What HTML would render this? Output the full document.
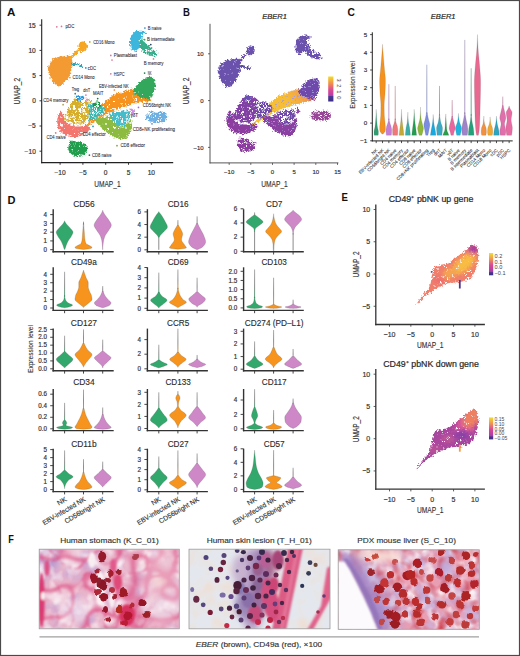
<!DOCTYPE html>
<html><head><meta charset="utf-8"><style>
html,body{margin:0;padding:0;background:#fff;}
svg{display:block;}
text{font-family:"Liberation Sans", sans-serif;}
</style></head><body>
<svg width="520" height="656" viewBox="0 0 520 656">
<rect x="0" y="0" width="520" height="656" fill="#fff"/>
<text x="6.90" y="16.20" font-size="11.2" fill="#111" font-weight="bold" textLength="8.40" lengthAdjust="spacingAndGlyphs" >A</text>
<defs><filter id="fAr" color-interpolation-filters="sRGB" filterUnits="userSpaceOnUse" x="40" y="18" width="140" height="146">
<feTurbulence type="fractalNoise" baseFrequency="0.55" numOctaves="2" seed="3" result="d"/>
<feDisplacementMap in="SourceGraphic" in2="d" scale="5" xChannelSelector="R" yChannelSelector="G"/></filter><filter id="fAw1" color-interpolation-filters="sRGB" filterUnits="userSpaceOnUse" x="40" y="18" width="140" height="146">
<feTurbulence type="fractalNoise" baseFrequency="0.38" numOctaves="2" seed="10" result="n"/>
<feColorMatrix in="n" type="matrix" values="0 0 0 0 1  0 0 0 0 1  0 0 0 0 1  -9 0 0 0 3.2399999999999998" result="w"/>
<feComposite in="w" in2="SourceAlpha" operator="in"/></filter><filter id="fAw2" color-interpolation-filters="sRGB" filterUnits="userSpaceOnUse" x="40" y="18" width="140" height="146">
<feTurbulence type="fractalNoise" baseFrequency="0.38" numOctaves="2" seed="17" result="n"/>
<feColorMatrix in="n" type="matrix" values="0 0 0 0 1  0 0 0 0 1  0 0 0 0 1  -9 0 0 0 3.87" result="w"/>
<feComposite in="w" in2="SourceAlpha" operator="in"/></filter><filter id="fAw3" color-interpolation-filters="sRGB" filterUnits="userSpaceOnUse" x="40" y="18" width="140" height="146">
<feTurbulence type="fractalNoise" baseFrequency="0.38" numOctaves="2" seed="24" result="n"/>
<feColorMatrix in="n" type="matrix" values="0 0 0 0 1  0 0 0 0 1  0 0 0 0 1  -9 0 0 0 4.32" result="w"/>
<feComposite in="w" in2="SourceAlpha" operator="in"/></filter></defs>
<g filter="url(#fAr)"><g transform="">
<path d="M48.00,67.00 C48.52,65.20 50.23,61.70 51.40,60.20 C52.57,58.70 53.65,58.57 55.00,58.00 C56.35,57.43 57.67,57.17 59.50,56.80 C61.33,56.43 64.17,55.90 66.00,55.80 C67.83,55.70 69.45,55.33 70.50,56.20 C71.55,57.07 72.00,59.20 72.30,61.00 C72.60,62.80 72.68,64.83 72.30,67.00 C71.92,69.17 70.78,72.00 70.00,74.00 C69.22,76.00 68.77,77.33 67.60,79.00 C66.43,80.67 64.57,82.77 63.00,84.00 C61.43,85.23 59.53,86.40 58.20,86.40 C56.87,86.40 56.03,85.00 55.00,84.00 C53.97,83.00 52.92,81.90 52.00,80.40 C51.08,78.90 50.12,76.57 49.50,75.00 C48.88,73.43 48.55,72.33 48.30,71.00 C48.05,69.67 47.48,68.80 48.00,67.00 Z" fill="#F39A33" />
<path d="M69.50,57.50 C69.75,56.70 71.83,55.17 73.00,54.00 C74.17,52.83 75.50,51.00 76.50,50.50 C77.50,50.00 79.17,50.25 79.00,51.00 C78.83,51.75 76.75,53.70 75.50,55.00 C74.25,56.30 72.50,58.38 71.50,58.80 C70.50,59.22 69.25,58.30 69.50,57.50 Z" fill="#F5A623" />
<path d="M79.00,44.00 C79.42,43.00 80.17,42.37 81.00,42.00 C81.83,41.63 83.08,41.47 84.00,41.80 C84.92,42.13 86.00,43.13 86.50,44.00 C87.00,44.87 87.17,46.00 87.00,47.00 C86.83,48.00 86.33,49.17 85.50,50.00 C84.67,50.83 83.00,51.83 82.00,52.00 C81.00,52.17 80.08,51.67 79.50,51.00 C78.92,50.33 78.58,49.17 78.50,48.00 C78.42,46.83 78.58,45.00 79.00,44.00 Z" fill="#F5A623" />
<path d="M72.00,62.80 C72.83,62.53 75.42,63.00 77.00,63.30 C78.58,63.60 80.53,64.08 81.50,64.60 C82.47,65.12 83.05,66.02 82.80,66.40 C82.55,66.78 81.13,67.07 80.00,66.90 C78.87,66.73 77.33,65.73 76.00,65.40 C74.67,65.07 72.67,65.33 72.00,64.90 C71.33,64.47 71.17,63.07 72.00,62.80 Z" fill="#2AA6B8" />
<path d="M130.00,42.30 C130.00,40.38 130.30,38.55 130.80,37.00 C131.30,35.45 131.72,34.03 133.00,33.00 C134.28,31.97 136.83,31.13 138.50,30.80 C140.17,30.47 141.72,30.75 143.00,31.00 C144.28,31.25 146.03,31.83 146.20,32.30 C146.37,32.77 144.78,33.10 144.00,33.80 C143.22,34.50 142.07,35.30 141.50,36.50 C140.93,37.70 140.72,39.52 140.60,41.00 C140.48,42.48 141.32,43.98 140.80,45.40 C140.28,46.82 138.53,48.60 137.50,49.50 C136.47,50.40 135.72,50.97 134.60,50.80 C133.48,50.63 131.57,49.92 130.80,48.50 C130.03,47.08 130.00,44.22 130.00,42.30 Z" fill="#3DB6DE" />
<path d="M139.50,40.00 C139.95,38.75 141.67,38.17 142.50,38.50 C143.33,38.83 143.58,40.83 144.50,42.00 C145.42,43.17 146.75,44.42 148.00,45.50 C149.25,46.58 150.75,47.67 152.00,48.50 C153.25,49.33 154.63,49.67 155.50,50.50 C156.37,51.33 157.12,52.55 157.20,53.50 C157.28,54.45 156.95,55.78 156.00,56.20 C155.05,56.62 153.17,56.37 151.50,56.00 C149.83,55.63 147.58,54.83 146.00,54.00 C144.42,53.17 143.03,52.33 142.00,51.00 C140.97,49.67 140.22,47.83 139.80,46.00 C139.38,44.17 139.05,41.25 139.50,40.00 Z" fill="#38AD8C" />
<path d="M106.50,100.50 C108.08,99.17 110.25,96.83 112.50,95.50 C114.75,94.17 117.50,93.42 120.00,92.50 C122.50,91.58 125.17,90.67 127.50,90.00 C129.83,89.33 132.08,88.58 134.00,88.50 C135.92,88.42 137.50,89.00 139.00,89.50 C140.50,90.00 141.50,91.00 143.00,91.50 C144.50,92.00 146.67,91.92 148.00,92.50 C149.33,93.08 150.58,93.67 151.00,95.00 C151.42,96.33 151.92,99.33 150.50,100.50 C149.08,101.67 145.50,101.33 142.50,102.00 C139.50,102.67 136.25,103.42 132.50,104.50 C128.75,105.58 123.58,107.25 120.00,108.50 C116.42,109.75 113.92,110.67 111.00,112.00 C108.08,113.33 105.17,115.00 102.50,116.50 C99.83,118.00 97.42,119.33 95.00,121.00 C92.58,122.67 89.75,125.17 88.00,126.50 C86.25,127.83 85.30,128.78 84.50,129.00 C83.70,129.22 82.70,128.88 83.20,127.80 C83.70,126.72 85.62,124.47 87.50,122.50 C89.38,120.53 92.50,118.42 94.50,116.00 C96.50,113.58 98.08,110.08 99.50,108.00 C100.92,105.92 101.83,104.75 103.00,103.50 C104.17,102.25 104.92,101.83 106.50,100.50 Z" fill="#F6931F" />
<path d="M133.00,92.00 C133.00,90.50 134.67,87.83 136.00,86.00 C137.33,84.17 139.33,82.42 141.00,81.00 C142.67,79.58 144.33,78.17 146.00,77.50 C147.67,76.83 149.58,76.75 151.00,77.00 C152.42,77.25 153.75,77.83 154.50,79.00 C155.25,80.17 155.50,82.17 155.50,84.00 C155.50,85.83 155.08,88.00 154.50,90.00 C153.92,92.00 152.92,94.50 152.00,96.00 C151.08,97.50 150.17,98.50 149.00,99.00 C147.83,99.50 146.50,99.33 145.00,99.00 C143.50,98.67 141.50,97.67 140.00,97.00 C138.50,96.33 137.17,95.83 136.00,95.00 C134.83,94.17 133.00,93.50 133.00,92.00 Z" fill="#33A85C" />
<path d="M74.00,99.00 C75.33,97.75 77.00,96.75 79.00,96.50 C81.00,96.25 84.00,96.75 86.00,97.50 C88.00,98.25 89.83,99.42 91.00,101.00 C92.17,102.58 93.00,104.83 93.00,107.00 C93.00,109.17 92.00,111.83 91.00,114.00 C90.00,116.17 88.50,118.33 87.00,120.00 C85.50,121.67 84.17,123.33 82.00,124.00 C79.83,124.67 76.50,124.50 74.00,124.00 C71.50,123.50 68.67,122.17 67.00,121.00 C65.33,119.83 64.00,118.67 64.00,117.00 C64.00,115.33 65.83,113.17 67.00,111.00 C68.17,108.83 69.83,106.00 71.00,104.00 C72.17,102.00 72.67,100.25 74.00,99.00 Z" fill="#D6AE2C" />
<path d="M76.00,96.00 C76.50,95.02 78.67,95.17 80.00,95.30 C81.33,95.43 83.23,96.02 84.00,96.80 C84.77,97.58 85.10,99.13 84.60,100.00 C84.10,100.87 82.27,101.80 81.00,102.00 C79.73,102.20 77.83,102.20 77.00,101.20 C76.17,100.20 75.50,96.98 76.00,96.00 Z" fill="#2A98D8" />
<path d="M85.20,97.60 C85.47,97.00 87.07,97.30 87.60,97.80 C88.13,98.30 88.67,100.00 88.40,100.60 C88.13,101.20 86.53,101.90 86.00,101.40 C85.47,100.90 84.93,98.20 85.20,97.60 Z" fill="#E58FC8" />
<path d="M88.00,104.50 C88.75,103.00 92.00,103.08 94.00,103.00 C96.00,102.92 98.33,103.50 100.00,104.00 C101.67,104.50 103.08,105.00 104.00,106.00 C104.92,107.00 105.75,108.67 105.50,110.00 C105.25,111.33 103.75,112.83 102.50,114.00 C101.25,115.17 99.75,116.00 98.00,117.00 C96.25,118.00 93.67,119.75 92.00,120.00 C90.33,120.25 88.42,119.83 88.00,118.50 C87.58,117.17 89.50,114.33 89.50,112.00 C89.50,109.67 87.25,106.00 88.00,104.50 Z" fill="#3EB6B2" />
<path d="M110.00,114.50 C111.17,112.75 115.33,112.17 118.00,111.50 C120.67,110.83 124.00,110.25 126.00,110.50 C128.00,110.75 129.50,111.42 130.00,113.00 C130.50,114.58 130.00,117.83 129.00,120.00 C128.00,122.17 126.17,125.00 124.00,126.00 C121.83,127.00 118.17,126.67 116.00,126.00 C113.83,125.33 112.00,123.92 111.00,122.00 C110.00,120.08 108.83,116.25 110.00,114.50 Z" fill="#45BCCB" />
<path d="M93.00,103.50 C93.50,102.48 95.83,101.67 97.00,101.50 C98.17,101.33 99.33,101.75 100.00,102.50 C100.67,103.25 101.33,105.05 101.00,106.00 C100.67,106.95 99.17,107.93 98.00,108.20 C96.83,108.47 94.83,108.38 94.00,107.60 C93.17,106.82 92.50,104.52 93.00,103.50 Z" fill="#1C9A48" />
<path d="M60.00,112.00 C59.17,112.83 57.92,115.83 57.50,118.00 C57.08,120.17 57.08,122.83 57.50,125.00 C57.92,127.17 58.58,129.25 60.00,131.00 C61.42,132.75 63.83,134.50 66.00,135.50 C68.17,136.50 70.67,136.92 73.00,137.00 C75.33,137.08 77.83,136.67 80.00,136.00 C82.17,135.33 84.33,134.25 86.00,133.00 C87.67,131.75 90.00,129.75 90.00,128.50 C90.00,127.25 87.67,125.83 86.00,125.50 C84.33,125.17 82.17,126.42 80.00,126.50 C77.83,126.58 75.17,126.58 73.00,126.00 C70.83,125.42 68.50,124.33 67.00,123.00 C65.50,121.67 64.75,119.67 64.00,118.00 C63.25,116.33 63.17,114.00 62.50,113.00 C61.83,112.00 60.83,111.17 60.00,112.00 Z" fill="#F2766E" />
<path d="M96.00,119.50 C97.00,118.50 100.67,117.92 103.00,117.50 C105.33,117.08 108.25,116.25 110.00,117.00 C111.75,117.75 112.17,120.50 113.50,122.00 C114.83,123.50 116.25,125.25 118.00,126.00 C119.75,126.75 122.17,127.25 124.00,126.50 C125.83,125.75 127.83,122.75 129.00,121.50 C130.17,120.25 130.57,118.25 131.00,119.00 C131.43,119.75 131.77,123.83 131.60,126.00 C131.43,128.17 130.77,130.07 130.00,132.00 C129.23,133.93 128.33,136.40 127.00,137.60 C125.67,138.80 124.00,139.23 122.00,139.20 C120.00,139.17 117.33,138.37 115.00,137.40 C112.67,136.43 110.17,134.97 108.00,133.40 C105.83,131.83 103.83,129.65 102.00,128.00 C100.17,126.35 98.00,124.92 97.00,123.50 C96.00,122.08 95.00,120.50 96.00,119.50 Z" fill="#8DBB3F" />
<path d="M146.00,117.00 C146.25,115.83 147.00,113.92 148.00,113.00 C149.00,112.08 150.67,111.57 152.00,111.50 C153.33,111.43 154.67,112.60 156.00,112.60 C157.33,112.60 158.67,111.50 160.00,111.50 C161.33,111.50 162.83,111.93 164.00,112.60 C165.17,113.27 166.57,114.27 167.00,115.50 C167.43,116.73 167.43,118.82 166.60,120.00 C165.77,121.18 163.77,122.23 162.00,122.60 C160.23,122.97 158.00,122.37 156.00,122.20 C154.00,122.03 151.58,121.97 150.00,121.60 C148.42,121.23 147.17,120.77 146.50,120.00 C145.83,119.23 145.75,118.17 146.00,117.00 Z" fill="#6FB0E2" />
<path d="M68.30,149.80 C67.95,148.33 68.72,146.45 69.00,145.00 C69.28,143.55 69.17,141.77 70.00,141.10 C70.83,140.43 72.67,140.90 74.00,141.00 C75.33,141.10 76.50,141.28 78.00,141.70 C79.50,142.12 81.45,142.73 83.00,143.50 C84.55,144.27 86.63,145.22 87.30,146.30 C87.97,147.38 87.20,148.83 87.00,150.00 C86.80,151.17 86.93,152.38 86.10,153.30 C85.27,154.22 83.35,155.02 82.00,155.50 C80.65,155.98 79.33,156.18 78.00,156.20 C76.67,156.22 75.15,156.00 74.00,155.60 C72.85,155.20 72.05,154.77 71.10,153.80 C70.15,152.83 68.65,151.27 68.30,149.80 Z" fill="#1F9E4C" />
<path d="M130.60,108.80 C130.70,107.73 131.83,107.23 132.40,107.60 C132.97,107.97 133.83,109.83 134.00,111.00 C134.17,112.17 133.77,114.10 133.40,114.60 C133.03,115.10 132.27,114.97 131.80,114.00 C131.33,113.03 130.50,109.87 130.60,108.80 Z" fill="#D08FE0" />
<path d="M139.50,40.00 C139.95,38.75 141.67,38.17 142.50,38.50 C143.33,38.83 143.58,40.83 144.50,42.00 C145.42,43.17 146.75,44.42 148.00,45.50 C149.25,46.58 150.75,47.67 152.00,48.50 C153.25,49.33 154.63,49.67 155.50,50.50 C156.37,51.33 157.12,52.55 157.20,53.50 C157.28,54.45 156.95,55.78 156.00,56.20 C155.05,56.62 153.17,56.37 151.50,56.00 C149.83,55.63 147.58,54.83 146.00,54.00 C144.42,53.17 143.03,52.33 142.00,51.00 C140.97,49.67 140.22,47.83 139.80,46.00 C139.38,44.17 139.05,41.25 139.50,40.00 Z" fill="#fff" filter="url(#fAw2)"/>
<path d="M106.50,100.50 C108.08,99.17 110.25,96.83 112.50,95.50 C114.75,94.17 117.50,93.42 120.00,92.50 C122.50,91.58 125.17,90.67 127.50,90.00 C129.83,89.33 132.08,88.58 134.00,88.50 C135.92,88.42 137.50,89.00 139.00,89.50 C140.50,90.00 141.50,91.00 143.00,91.50 C144.50,92.00 146.67,91.92 148.00,92.50 C149.33,93.08 150.58,93.67 151.00,95.00 C151.42,96.33 151.92,99.33 150.50,100.50 C149.08,101.67 145.50,101.33 142.50,102.00 C139.50,102.67 136.25,103.42 132.50,104.50 C128.75,105.58 123.58,107.25 120.00,108.50 C116.42,109.75 113.92,110.67 111.00,112.00 C108.08,113.33 105.17,115.00 102.50,116.50 C99.83,118.00 97.42,119.33 95.00,121.00 C92.58,122.67 89.75,125.17 88.00,126.50 C86.25,127.83 85.30,128.78 84.50,129.00 C83.70,129.22 82.70,128.88 83.20,127.80 C83.70,126.72 85.62,124.47 87.50,122.50 C89.38,120.53 92.50,118.42 94.50,116.00 C96.50,113.58 98.08,110.08 99.50,108.00 C100.92,105.92 101.83,104.75 103.00,103.50 C104.17,102.25 104.92,101.83 106.50,100.50 Z" fill="#fff" filter="url(#fAw1)"/>
<path d="M74.00,99.00 C75.33,97.75 77.00,96.75 79.00,96.50 C81.00,96.25 84.00,96.75 86.00,97.50 C88.00,98.25 89.83,99.42 91.00,101.00 C92.17,102.58 93.00,104.83 93.00,107.00 C93.00,109.17 92.00,111.83 91.00,114.00 C90.00,116.17 88.50,118.33 87.00,120.00 C85.50,121.67 84.17,123.33 82.00,124.00 C79.83,124.67 76.50,124.50 74.00,124.00 C71.50,123.50 68.67,122.17 67.00,121.00 C65.33,119.83 64.00,118.67 64.00,117.00 C64.00,115.33 65.83,113.17 67.00,111.00 C68.17,108.83 69.83,106.00 71.00,104.00 C72.17,102.00 72.67,100.25 74.00,99.00 Z" fill="#fff" filter="url(#fAw3)"/>
<path d="M88.00,104.50 C88.75,103.00 92.00,103.08 94.00,103.00 C96.00,102.92 98.33,103.50 100.00,104.00 C101.67,104.50 103.08,105.00 104.00,106.00 C104.92,107.00 105.75,108.67 105.50,110.00 C105.25,111.33 103.75,112.83 102.50,114.00 C101.25,115.17 99.75,116.00 98.00,117.00 C96.25,118.00 93.67,119.75 92.00,120.00 C90.33,120.25 88.42,119.83 88.00,118.50 C87.58,117.17 89.50,114.33 89.50,112.00 C89.50,109.67 87.25,106.00 88.00,104.50 Z" fill="#fff" filter="url(#fAw2)"/>
<path d="M110.00,114.50 C111.17,112.75 115.33,112.17 118.00,111.50 C120.67,110.83 124.00,110.25 126.00,110.50 C128.00,110.75 129.50,111.42 130.00,113.00 C130.50,114.58 130.00,117.83 129.00,120.00 C128.00,122.17 126.17,125.00 124.00,126.00 C121.83,127.00 118.17,126.67 116.00,126.00 C113.83,125.33 112.00,123.92 111.00,122.00 C110.00,120.08 108.83,116.25 110.00,114.50 Z" fill="#fff" filter="url(#fAw2)"/>
<path d="M60.00,112.00 C59.17,112.83 57.92,115.83 57.50,118.00 C57.08,120.17 57.08,122.83 57.50,125.00 C57.92,127.17 58.58,129.25 60.00,131.00 C61.42,132.75 63.83,134.50 66.00,135.50 C68.17,136.50 70.67,136.92 73.00,137.00 C75.33,137.08 77.83,136.67 80.00,136.00 C82.17,135.33 84.33,134.25 86.00,133.00 C87.67,131.75 90.00,129.75 90.00,128.50 C90.00,127.25 87.67,125.83 86.00,125.50 C84.33,125.17 82.17,126.42 80.00,126.50 C77.83,126.58 75.17,126.58 73.00,126.00 C70.83,125.42 68.50,124.33 67.00,123.00 C65.50,121.67 64.75,119.67 64.00,118.00 C63.25,116.33 63.17,114.00 62.50,113.00 C61.83,112.00 60.83,111.17 60.00,112.00 Z" fill="#fff" filter="url(#fAw1)"/>
<path d="M96.00,119.50 C97.00,118.50 100.67,117.92 103.00,117.50 C105.33,117.08 108.25,116.25 110.00,117.00 C111.75,117.75 112.17,120.50 113.50,122.00 C114.83,123.50 116.25,125.25 118.00,126.00 C119.75,126.75 122.17,127.25 124.00,126.50 C125.83,125.75 127.83,122.75 129.00,121.50 C130.17,120.25 130.57,118.25 131.00,119.00 C131.43,119.75 131.77,123.83 131.60,126.00 C131.43,128.17 130.77,130.07 130.00,132.00 C129.23,133.93 128.33,136.40 127.00,137.60 C125.67,138.80 124.00,139.23 122.00,139.20 C120.00,139.17 117.33,138.37 115.00,137.40 C112.67,136.43 110.17,134.97 108.00,133.40 C105.83,131.83 103.83,129.65 102.00,128.00 C100.17,126.35 98.00,124.92 97.00,123.50 C96.00,122.08 95.00,120.50 96.00,119.50 Z" fill="#fff" filter="url(#fAw1)"/>
<path d="M146.00,117.00 C146.25,115.83 147.00,113.92 148.00,113.00 C149.00,112.08 150.67,111.57 152.00,111.50 C153.33,111.43 154.67,112.60 156.00,112.60 C157.33,112.60 158.67,111.50 160.00,111.50 C161.33,111.50 162.83,111.93 164.00,112.60 C165.17,113.27 166.57,114.27 167.00,115.50 C167.43,116.73 167.43,118.82 166.60,120.00 C165.77,121.18 163.77,122.23 162.00,122.60 C160.23,122.97 158.00,122.37 156.00,122.20 C154.00,122.03 151.58,121.97 150.00,121.60 C148.42,121.23 147.17,120.77 146.50,120.00 C145.83,119.23 145.75,118.17 146.00,117.00 Z" fill="#fff" filter="url(#fAw2)"/>
<path d="M68.30,149.80 C67.95,148.33 68.72,146.45 69.00,145.00 C69.28,143.55 69.17,141.77 70.00,141.10 C70.83,140.43 72.67,140.90 74.00,141.00 C75.33,141.10 76.50,141.28 78.00,141.70 C79.50,142.12 81.45,142.73 83.00,143.50 C84.55,144.27 86.63,145.22 87.30,146.30 C87.97,147.38 87.20,148.83 87.00,150.00 C86.80,151.17 86.93,152.38 86.10,153.30 C85.27,154.22 83.35,155.02 82.00,155.50 C80.65,155.98 79.33,156.18 78.00,156.20 C76.67,156.22 75.15,156.00 74.00,155.60 C72.85,155.20 72.05,154.77 71.10,153.80 C70.15,152.83 68.65,151.27 68.30,149.80 Z" fill="#fff" filter="url(#fAw1)"/>
</g></g>
<line x1="41.70" y1="19.20" x2="41.70" y2="163.20" stroke="#222" stroke-width="1.1" />
<line x1="41.15" y1="162.60" x2="173.20" y2="162.60" stroke="#222" stroke-width="1.1" />
<line x1="39.50" y1="25.20" x2="41.70" y2="25.20" stroke="#222" stroke-width="0.9" />
<text x="35.80" y="27.50" font-size="6.6" fill="#333" stroke="#333" stroke-width="0.18" text-anchor="end" >15</text>
<line x1="39.50" y1="50.40" x2="41.70" y2="50.40" stroke="#222" stroke-width="0.9" />
<text x="35.80" y="52.70" font-size="6.6" fill="#333" stroke="#333" stroke-width="0.18" text-anchor="end" >10</text>
<line x1="39.50" y1="75.60" x2="41.70" y2="75.60" stroke="#222" stroke-width="0.9" />
<text x="35.80" y="77.90" font-size="6.6" fill="#333" stroke="#333" stroke-width="0.18" text-anchor="end" >5</text>
<line x1="39.50" y1="100.80" x2="41.70" y2="100.80" stroke="#222" stroke-width="0.9" />
<text x="35.80" y="103.10" font-size="6.6" fill="#333" stroke="#333" stroke-width="0.18" text-anchor="end" >0</text>
<line x1="39.50" y1="126.00" x2="41.70" y2="126.00" stroke="#222" stroke-width="0.9" />
<text x="35.80" y="128.30" font-size="6.6" fill="#333" stroke="#333" stroke-width="0.18" text-anchor="end" >−5</text>
<line x1="39.50" y1="151.20" x2="41.70" y2="151.20" stroke="#222" stroke-width="0.9" />
<text x="35.80" y="153.50" font-size="6.6" fill="#333" stroke="#333" stroke-width="0.18" text-anchor="end" >−10</text>
<line x1="60.10" y1="162.60" x2="60.10" y2="164.80" stroke="#222" stroke-width="0.9" />
<text x="60.10" y="174.60" font-size="6.6" fill="#333" stroke="#333" stroke-width="0.18" text-anchor="middle" >−10</text>
<line x1="82.90" y1="162.60" x2="82.90" y2="164.80" stroke="#222" stroke-width="0.9" />
<text x="82.90" y="174.60" font-size="6.6" fill="#333" stroke="#333" stroke-width="0.18" text-anchor="middle" >−5</text>
<line x1="105.70" y1="162.60" x2="105.70" y2="164.80" stroke="#222" stroke-width="0.9" />
<text x="105.70" y="174.60" font-size="6.6" fill="#333" stroke="#333" stroke-width="0.18" text-anchor="middle" >0</text>
<line x1="128.50" y1="162.60" x2="128.50" y2="164.80" stroke="#222" stroke-width="0.9" />
<text x="128.50" y="174.60" font-size="6.6" fill="#333" stroke="#333" stroke-width="0.18" text-anchor="middle" >5</text>
<line x1="151.30" y1="162.60" x2="151.30" y2="164.80" stroke="#222" stroke-width="0.9" />
<text x="151.30" y="174.60" font-size="6.6" fill="#333" stroke="#333" stroke-width="0.18" text-anchor="middle" >10</text>
<text x="107.40" y="186.60" font-size="8.8" fill="#333" stroke="#333" stroke-width="0.15" text-anchor="middle" textLength="26.30" lengthAdjust="spacingAndGlyphs" >UMAP_1</text>
<text x="20.20" y="91.10" font-size="8.8" fill="#333" stroke="#333" stroke-width="0.15" text-anchor="middle" transform="rotate(-90 20.20 91.10)" textLength="26.60" lengthAdjust="spacingAndGlyphs" >UMAP_2</text>
<text x="65.60" y="28.00" font-size="4.9" fill="#2a2a33" stroke="#2a2a33" stroke-width="0.08" textLength="8.70" lengthAdjust="spacingAndGlyphs" >pDC</text>
<text x="93.20" y="43.60" font-size="4.9" fill="#2a2a33" stroke="#2a2a33" stroke-width="0.08" textLength="21.30" lengthAdjust="spacingAndGlyphs" >CD16 Mono</text>
<text x="87.80" y="69.60" font-size="4.9" fill="#2a2a33" stroke="#2a2a33" stroke-width="0.08" textLength="8.20" lengthAdjust="spacingAndGlyphs" >cDC</text>
<text x="72.50" y="79.30" font-size="4.9" fill="#2a2a33" stroke="#2a2a33" stroke-width="0.08" textLength="22.00" lengthAdjust="spacingAndGlyphs" >CD14 Mono</text>
<text x="147.70" y="29.70" font-size="4.9" fill="#2a2a33" stroke="#2a2a33" stroke-width="0.08" textLength="13.80" lengthAdjust="spacingAndGlyphs" >B naive</text>
<text x="146.90" y="41.40" font-size="4.9" fill="#2a2a33" stroke="#2a2a33" stroke-width="0.08" textLength="27.70" lengthAdjust="spacingAndGlyphs" >B intermediate</text>
<text x="143.80" y="64.80" font-size="4.9" fill="#2a2a33" stroke="#2a2a33" stroke-width="0.08" textLength="19.60" lengthAdjust="spacingAndGlyphs" >B memory</text>
<text x="113.80" y="57.10" font-size="4.9" fill="#2a2a33" stroke="#2a2a33" stroke-width="0.08" textLength="23.10" lengthAdjust="spacingAndGlyphs" >Plasmablast</text>
<text x="113.80" y="75.50" font-size="4.9" fill="#2a2a33" stroke="#2a2a33" stroke-width="0.08" textLength="10.80" lengthAdjust="spacingAndGlyphs" >HSPC</text>
<text x="147.70" y="74.80" font-size="4.9" fill="#2a2a33" stroke="#2a2a33" stroke-width="0.08" textLength="3.80" lengthAdjust="spacingAndGlyphs" >NK</text>
<text x="98.90" y="87.70" font-size="4.9" fill="#2a2a33" stroke="#2a2a33" stroke-width="0.08" textLength="29.90" lengthAdjust="spacingAndGlyphs" >EBV-infected NK</text>
<text x="93.00" y="95.40" font-size="4.9" fill="#2a2a33" stroke="#2a2a33" stroke-width="0.08" textLength="10.40" lengthAdjust="spacingAndGlyphs" >MAIT</text>
<text x="71.70" y="90.70" font-size="4.9" fill="#2a2a33" stroke="#2a2a33" stroke-width="0.08" textLength="7.50" lengthAdjust="spacingAndGlyphs" >Treg</text>
<text x="83.30" y="91.90" font-size="4.9" fill="#2a2a33" stroke="#2a2a33" stroke-width="0.08" textLength="6.90" lengthAdjust="spacingAndGlyphs" >dnT</text>
<text x="43.30" y="102.40" font-size="4.9" fill="#2a2a33" stroke="#2a2a33" stroke-width="0.08" textLength="25.00" lengthAdjust="spacingAndGlyphs" >CD4 memory</text>
<text x="46.40" y="139.30" font-size="4.9" fill="#2a2a33" stroke="#2a2a33" stroke-width="0.08" textLength="19.30" lengthAdjust="spacingAndGlyphs" >CD4 naive</text>
<text x="82.30" y="136.30" font-size="4.9" fill="#2a2a33" stroke="#2a2a33" stroke-width="0.08" textLength="23.40" lengthAdjust="spacingAndGlyphs" >CD4 effector</text>
<text x="92.10" y="156.90" font-size="4.9" fill="#2a2a33" stroke="#2a2a33" stroke-width="0.08" textLength="19.40" lengthAdjust="spacingAndGlyphs" >CD8 naive</text>
<text x="120.40" y="147.40" font-size="4.9" fill="#2a2a33" stroke="#2a2a33" stroke-width="0.08" textLength="24.60" lengthAdjust="spacingAndGlyphs" >CD8 effector</text>
<text x="130.40" y="116.70" font-size="4.9" fill="#2a2a33" stroke="#2a2a33" stroke-width="0.08" textLength="7.70" lengthAdjust="spacingAndGlyphs" >γδT</text>
<text x="142.70" y="107.40" font-size="4.9" fill="#2a2a33" stroke="#2a2a33" stroke-width="0.08" textLength="28.50" lengthAdjust="spacingAndGlyphs" >CD56bright NK</text>
<text x="132.70" y="130.60" font-size="4.9" fill="#2a2a33" stroke="#2a2a33" stroke-width="0.08" textLength="42.30" lengthAdjust="spacingAndGlyphs" >CD8+NK proliferating</text>
<circle cx="56.8" cy="26.8" r="0.85" fill="#e07090"/>
<circle cx="61.5" cy="26.4" r="0.85" fill="#e07090"/>
<circle cx="89.8" cy="41.9" r="0.85" fill="#c0a030"/>
<circle cx="85.8" cy="67.9" r="0.85" fill="#3090b0"/>
<circle cx="69.9" cy="77.6" r="0.85" fill="#e09040"/>
<circle cx="144.9" cy="28" r="0.85" fill="#2a80c0"/>
<circle cx="144.6" cy="39.7" r="0.85" fill="#30a080"/>
<circle cx="150.8" cy="44.6" r="0.85" fill="#204060"/>
<circle cx="153.5" cy="58.9" r="0.85" fill="#e070a0"/>
<circle cx="110.8" cy="55.4" r="0.85" fill="#e070a0"/>
<circle cx="110.8" cy="73.8" r="0.85" fill="#e070a0"/>
<circle cx="144.6" cy="73.1" r="0.85" fill="#208050"/>
<circle cx="114.4" cy="90" r="0.85" fill="#e08040"/>
<circle cx="97.7" cy="98.6" r="0.85" fill="#207040"/>
<circle cx="75.2" cy="93.7" r="0.85" fill="#208080"/>
<circle cx="85.9" cy="95.1" r="0.85" fill="#e070b0"/>
<circle cx="63.1" cy="104.7" r="0.85" fill="#b0a040"/>
<circle cx="55.7" cy="132.9" r="0.85" fill="#e07080"/>
<circle cx="93" cy="126.4" r="0.85" fill="#2090a0"/>
<circle cx="89.4" cy="155.2" r="0.85" fill="#208050"/>
<circle cx="117" cy="145.7" r="0.85" fill="#80a040"/>
<circle cx="128.1" cy="115" r="0.85" fill="#409080"/>
<circle cx="138.5" cy="107.4" r="0.85" fill="#a070d0"/>
<circle cx="152" cy="123.8" r="0.85" fill="#5090d0"/>
<circle cx="112" cy="60" r="0.85" fill="#e07090"/>
<text x="182.90" y="15.90" font-size="11.2" fill="#111" font-weight="bold" textLength="6.90" lengthAdjust="spacingAndGlyphs" >B</text>
<text x="274.60" y="18.80" font-size="7.6" fill="#2a2a2a" stroke="#2a2a2a" stroke-width="0.2" text-anchor="middle" font-style="italic" textLength="24.70" lengthAdjust="spacingAndGlyphs" >EBER1</text>
<defs><filter id="fBr" color-interpolation-filters="sRGB" filterUnits="userSpaceOnUse" x="208" y="18" width="135" height="146">
<feTurbulence type="fractalNoise" baseFrequency="0.55" numOctaves="2" seed="5" result="d"/>
<feDisplacementMap in="SourceGraphic" in2="d" scale="5" xChannelSelector="R" yChannelSelector="G"/></filter><filter id="fBw1" color-interpolation-filters="sRGB" filterUnits="userSpaceOnUse" x="40" y="18" width="140" height="146">
<feTurbulence type="fractalNoise" baseFrequency="0.5" numOctaves="2" seed="12" result="n"/>
<feColorMatrix in="n" type="matrix" values="0 0 0 0 0.66  0 0 0 0 0.62  0 0 0 0 0.86  -9 0 0 0 3.2399999999999998" result="w"/>
<feComposite in="w" in2="SourceAlpha" operator="in"/></filter><filter id="fBw2" color-interpolation-filters="sRGB" filterUnits="userSpaceOnUse" x="40" y="18" width="140" height="146">
<feTurbulence type="fractalNoise" baseFrequency="0.5" numOctaves="2" seed="19" result="n"/>
<feColorMatrix in="n" type="matrix" values="0 0 0 0 1  0 0 0 0 1  0 0 0 0 1  -9 0 0 0 3.87" result="w"/>
<feComposite in="w" in2="SourceAlpha" operator="in"/></filter><filter id="fBw3" color-interpolation-filters="sRGB" filterUnits="userSpaceOnUse" x="40" y="18" width="140" height="146">
<feTurbulence type="fractalNoise" baseFrequency="0.5" numOctaves="2" seed="26" result="n"/>
<feColorMatrix in="n" type="matrix" values="0 0 0 0 1  0 0 0 0 1  0 0 0 0 1  -9 0 0 0 4.32" result="w"/>
<feComposite in="w" in2="SourceAlpha" operator="in"/></filter></defs>
<defs><linearGradient id="ebvB" gradientUnits="userSpaceOnUse" x1="92" y1="122" x2="151" y2="91"><stop offset="0" stop-color="#F4C23A"/><stop offset="0.55" stop-color="#F7BC36"/><stop offset="0.8" stop-color="#F2A048"/><stop offset="0.93" stop-color="#D86A78"/><stop offset="1" stop-color="#9A4A9A"/></linearGradient></defs>
<g filter="url(#fBr)"><g transform="translate(272.5,100.6) scale(0.9496,0.9286) translate(-105.7,-100.8)">
<path d="M48.00,67.00 C48.52,65.20 50.23,61.70 51.40,60.20 C52.57,58.70 53.65,58.57 55.00,58.00 C56.35,57.43 57.67,57.17 59.50,56.80 C61.33,56.43 64.17,55.90 66.00,55.80 C67.83,55.70 69.45,55.33 70.50,56.20 C71.55,57.07 72.00,59.20 72.30,61.00 C72.60,62.80 72.68,64.83 72.30,67.00 C71.92,69.17 70.78,72.00 70.00,74.00 C69.22,76.00 68.77,77.33 67.60,79.00 C66.43,80.67 64.57,82.77 63.00,84.00 C61.43,85.23 59.53,86.40 58.20,86.40 C56.87,86.40 56.03,85.00 55.00,84.00 C53.97,83.00 52.92,81.90 52.00,80.40 C51.08,78.90 50.12,76.57 49.50,75.00 C48.88,73.43 48.55,72.33 48.30,71.00 C48.05,69.67 47.48,68.80 48.00,67.00 Z" fill="#6A52AC" />
<path d="M69.50,57.50 C69.75,56.70 71.83,55.17 73.00,54.00 C74.17,52.83 75.50,51.00 76.50,50.50 C77.50,50.00 79.17,50.25 79.00,51.00 C78.83,51.75 76.75,53.70 75.50,55.00 C74.25,56.30 72.50,58.38 71.50,58.80 C70.50,59.22 69.25,58.30 69.50,57.50 Z" fill="#6A4CA8" />
<path d="M79.00,44.00 C79.42,43.00 80.17,42.37 81.00,42.00 C81.83,41.63 83.08,41.47 84.00,41.80 C84.92,42.13 86.00,43.13 86.50,44.00 C87.00,44.87 87.17,46.00 87.00,47.00 C86.83,48.00 86.33,49.17 85.50,50.00 C84.67,50.83 83.00,51.83 82.00,52.00 C81.00,52.17 80.08,51.67 79.50,51.00 C78.92,50.33 78.58,49.17 78.50,48.00 C78.42,46.83 78.58,45.00 79.00,44.00 Z" fill="#6A52AC" />
<path d="M72.00,62.80 C72.83,62.53 75.42,63.00 77.00,63.30 C78.58,63.60 80.53,64.08 81.50,64.60 C82.47,65.12 83.05,66.02 82.80,66.40 C82.55,66.78 81.13,67.07 80.00,66.90 C78.87,66.73 77.33,65.73 76.00,65.40 C74.67,65.07 72.67,65.33 72.00,64.90 C71.33,64.47 71.17,63.07 72.00,62.80 Z" fill="#5A4CA0" />
<path d="M130.00,42.30 C130.00,40.38 130.30,38.55 130.80,37.00 C131.30,35.45 131.72,34.03 133.00,33.00 C134.28,31.97 136.83,31.13 138.50,30.80 C140.17,30.47 141.72,30.75 143.00,31.00 C144.28,31.25 146.03,31.83 146.20,32.30 C146.37,32.77 144.78,33.10 144.00,33.80 C143.22,34.50 142.07,35.30 141.50,36.50 C140.93,37.70 140.72,39.52 140.60,41.00 C140.48,42.48 141.32,43.98 140.80,45.40 C140.28,46.82 138.53,48.60 137.50,49.50 C136.47,50.40 135.72,50.97 134.60,50.80 C133.48,50.63 131.57,49.92 130.80,48.50 C130.03,47.08 130.00,44.22 130.00,42.30 Z" fill="#6A52AC" />
<path d="M139.50,40.00 C139.95,38.75 141.67,38.17 142.50,38.50 C143.33,38.83 143.58,40.83 144.50,42.00 C145.42,43.17 146.75,44.42 148.00,45.50 C149.25,46.58 150.75,47.67 152.00,48.50 C153.25,49.33 154.63,49.67 155.50,50.50 C156.37,51.33 157.12,52.55 157.20,53.50 C157.28,54.45 156.95,55.78 156.00,56.20 C155.05,56.62 153.17,56.37 151.50,56.00 C149.83,55.63 147.58,54.83 146.00,54.00 C144.42,53.17 143.03,52.33 142.00,51.00 C140.97,49.67 140.22,47.83 139.80,46.00 C139.38,44.17 139.05,41.25 139.50,40.00 Z" fill="#6A50B0" />
<path d="M106.50,100.50 C108.08,99.17 110.25,96.83 112.50,95.50 C114.75,94.17 117.50,93.42 120.00,92.50 C122.50,91.58 125.17,90.67 127.50,90.00 C129.83,89.33 132.08,88.58 134.00,88.50 C135.92,88.42 137.50,89.00 139.00,89.50 C140.50,90.00 141.50,91.00 143.00,91.50 C144.50,92.00 146.67,91.92 148.00,92.50 C149.33,93.08 150.58,93.67 151.00,95.00 C151.42,96.33 151.92,99.33 150.50,100.50 C149.08,101.67 145.50,101.33 142.50,102.00 C139.50,102.67 136.25,103.42 132.50,104.50 C128.75,105.58 123.58,107.25 120.00,108.50 C116.42,109.75 113.92,110.67 111.00,112.00 C108.08,113.33 105.17,115.00 102.50,116.50 C99.83,118.00 97.42,119.33 95.00,121.00 C92.58,122.67 89.75,125.17 88.00,126.50 C86.25,127.83 85.30,128.78 84.50,129.00 C83.70,129.22 82.70,128.88 83.20,127.80 C83.70,126.72 85.62,124.47 87.50,122.50 C89.38,120.53 92.50,118.42 94.50,116.00 C96.50,113.58 98.08,110.08 99.50,108.00 C100.92,105.92 101.83,104.75 103.00,103.50 C104.17,102.25 104.92,101.83 106.50,100.50 Z" fill="url(#ebvB)" />
<path d="M133.00,92.00 C133.00,90.50 134.67,87.83 136.00,86.00 C137.33,84.17 139.33,82.42 141.00,81.00 C142.67,79.58 144.33,78.17 146.00,77.50 C147.67,76.83 149.58,76.75 151.00,77.00 C152.42,77.25 153.75,77.83 154.50,79.00 C155.25,80.17 155.50,82.17 155.50,84.00 C155.50,85.83 155.08,88.00 154.50,90.00 C153.92,92.00 152.92,94.50 152.00,96.00 C151.08,97.50 150.17,98.50 149.00,99.00 C147.83,99.50 146.50,99.33 145.00,99.00 C143.50,98.67 141.50,97.67 140.00,97.00 C138.50,96.33 137.17,95.83 136.00,95.00 C134.83,94.17 133.00,93.50 133.00,92.00 Z" fill="#6E48AA" />
<path d="M74.00,99.00 C75.33,97.75 77.00,96.75 79.00,96.50 C81.00,96.25 84.00,96.75 86.00,97.50 C88.00,98.25 89.83,99.42 91.00,101.00 C92.17,102.58 93.00,104.83 93.00,107.00 C93.00,109.17 92.00,111.83 91.00,114.00 C90.00,116.17 88.50,118.33 87.00,120.00 C85.50,121.67 84.17,123.33 82.00,124.00 C79.83,124.67 76.50,124.50 74.00,124.00 C71.50,123.50 68.67,122.17 67.00,121.00 C65.33,119.83 64.00,118.67 64.00,117.00 C64.00,115.33 65.83,113.17 67.00,111.00 C68.17,108.83 69.83,106.00 71.00,104.00 C72.17,102.00 72.67,100.25 74.00,99.00 Z" fill="#8040A4" />
<path d="M76.00,96.00 C76.50,95.02 78.67,95.17 80.00,95.30 C81.33,95.43 83.23,96.02 84.00,96.80 C84.77,97.58 85.10,99.13 84.60,100.00 C84.10,100.87 82.27,101.80 81.00,102.00 C79.73,102.20 77.83,102.20 77.00,101.20 C76.17,100.20 75.50,96.98 76.00,96.00 Z" fill="#6A50B0" />
<path d="M85.20,97.60 C85.47,97.00 87.07,97.30 87.60,97.80 C88.13,98.30 88.67,100.00 88.40,100.60 C88.13,101.20 86.53,101.90 86.00,101.40 C85.47,100.90 84.93,98.20 85.20,97.60 Z" fill="#8844A8" />
<path d="M88.00,104.50 C88.75,103.00 92.00,103.08 94.00,103.00 C96.00,102.92 98.33,103.50 100.00,104.00 C101.67,104.50 103.08,105.00 104.00,106.00 C104.92,107.00 105.75,108.67 105.50,110.00 C105.25,111.33 103.75,112.83 102.50,114.00 C101.25,115.17 99.75,116.00 98.00,117.00 C96.25,118.00 93.67,119.75 92.00,120.00 C90.33,120.25 88.42,119.83 88.00,118.50 C87.58,117.17 89.50,114.33 89.50,112.00 C89.50,109.67 87.25,106.00 88.00,104.50 Z" fill="#7048A8" />
<path d="M110.00,114.50 C111.17,112.75 115.33,112.17 118.00,111.50 C120.67,110.83 124.00,110.25 126.00,110.50 C128.00,110.75 129.50,111.42 130.00,113.00 C130.50,114.58 130.00,117.83 129.00,120.00 C128.00,122.17 126.17,125.00 124.00,126.00 C121.83,127.00 118.17,126.67 116.00,126.00 C113.83,125.33 112.00,123.92 111.00,122.00 C110.00,120.08 108.83,116.25 110.00,114.50 Z" fill="#7048A8" />
<path d="M93.00,103.50 C93.50,102.48 95.83,101.67 97.00,101.50 C98.17,101.33 99.33,101.75 100.00,102.50 C100.67,103.25 101.33,105.05 101.00,106.00 C100.67,106.95 99.17,107.93 98.00,108.20 C96.83,108.47 94.83,108.38 94.00,107.60 C93.17,106.82 92.50,104.52 93.00,103.50 Z" fill="#6A40A8" />
<path d="M60.00,112.00 C59.17,112.83 57.92,115.83 57.50,118.00 C57.08,120.17 57.08,122.83 57.50,125.00 C57.92,127.17 58.58,129.25 60.00,131.00 C61.42,132.75 63.83,134.50 66.00,135.50 C68.17,136.50 70.67,136.92 73.00,137.00 C75.33,137.08 77.83,136.67 80.00,136.00 C82.17,135.33 84.33,134.25 86.00,133.00 C87.67,131.75 90.00,129.75 90.00,128.50 C90.00,127.25 87.67,125.83 86.00,125.50 C84.33,125.17 82.17,126.42 80.00,126.50 C77.83,126.58 75.17,126.58 73.00,126.00 C70.83,125.42 68.50,124.33 67.00,123.00 C65.50,121.67 64.75,119.67 64.00,118.00 C63.25,116.33 63.17,114.00 62.50,113.00 C61.83,112.00 60.83,111.17 60.00,112.00 Z" fill="#8C3C9E" />
<path d="M96.00,119.50 C97.00,118.50 100.67,117.92 103.00,117.50 C105.33,117.08 108.25,116.25 110.00,117.00 C111.75,117.75 112.17,120.50 113.50,122.00 C114.83,123.50 116.25,125.25 118.00,126.00 C119.75,126.75 122.17,127.25 124.00,126.50 C125.83,125.75 127.83,122.75 129.00,121.50 C130.17,120.25 130.57,118.25 131.00,119.00 C131.43,119.75 131.77,123.83 131.60,126.00 C131.43,128.17 130.77,130.07 130.00,132.00 C129.23,133.93 128.33,136.40 127.00,137.60 C125.67,138.80 124.00,139.23 122.00,139.20 C120.00,139.17 117.33,138.37 115.00,137.40 C112.67,136.43 110.17,134.97 108.00,133.40 C105.83,131.83 103.83,129.65 102.00,128.00 C100.17,126.35 98.00,124.92 97.00,123.50 C96.00,122.08 95.00,120.50 96.00,119.50 Z" fill="#8A40A0" />
<path d="M146.00,117.00 C146.25,115.83 147.00,113.92 148.00,113.00 C149.00,112.08 150.67,111.57 152.00,111.50 C153.33,111.43 154.67,112.60 156.00,112.60 C157.33,112.60 158.67,111.50 160.00,111.50 C161.33,111.50 162.83,111.93 164.00,112.60 C165.17,113.27 166.57,114.27 167.00,115.50 C167.43,116.73 167.43,118.82 166.60,120.00 C165.77,121.18 163.77,122.23 162.00,122.60 C160.23,122.97 158.00,122.37 156.00,122.20 C154.00,122.03 151.58,121.97 150.00,121.60 C148.42,121.23 147.17,120.77 146.50,120.00 C145.83,119.23 145.75,118.17 146.00,117.00 Z" fill="#9A4698" />
<path d="M68.30,149.80 C67.95,148.33 68.72,146.45 69.00,145.00 C69.28,143.55 69.17,141.77 70.00,141.10 C70.83,140.43 72.67,140.90 74.00,141.00 C75.33,141.10 76.50,141.28 78.00,141.70 C79.50,142.12 81.45,142.73 83.00,143.50 C84.55,144.27 86.63,145.22 87.30,146.30 C87.97,147.38 87.20,148.83 87.00,150.00 C86.80,151.17 86.93,152.38 86.10,153.30 C85.27,154.22 83.35,155.02 82.00,155.50 C80.65,155.98 79.33,156.18 78.00,156.20 C76.67,156.22 75.15,156.00 74.00,155.60 C72.85,155.20 72.05,154.77 71.10,153.80 C70.15,152.83 68.65,151.27 68.30,149.80 Z" fill="#8C3C9E" />
<path d="M130.60,108.80 C130.70,107.73 131.83,107.23 132.40,107.60 C132.97,107.97 133.83,109.83 134.00,111.00 C134.17,112.17 133.77,114.10 133.40,114.60 C133.03,115.10 132.27,114.97 131.80,114.00 C131.33,113.03 130.50,109.87 130.60,108.80 Z" fill="#9048A8" />
<path d="M48.00,67.00 C48.52,65.20 50.23,61.70 51.40,60.20 C52.57,58.70 53.65,58.57 55.00,58.00 C56.35,57.43 57.67,57.17 59.50,56.80 C61.33,56.43 64.17,55.90 66.00,55.80 C67.83,55.70 69.45,55.33 70.50,56.20 C71.55,57.07 72.00,59.20 72.30,61.00 C72.60,62.80 72.68,64.83 72.30,67.00 C71.92,69.17 70.78,72.00 70.00,74.00 C69.22,76.00 68.77,77.33 67.60,79.00 C66.43,80.67 64.57,82.77 63.00,84.00 C61.43,85.23 59.53,86.40 58.20,86.40 C56.87,86.40 56.03,85.00 55.00,84.00 C53.97,83.00 52.92,81.90 52.00,80.40 C51.08,78.90 50.12,76.57 49.50,75.00 C48.88,73.43 48.55,72.33 48.30,71.00 C48.05,69.67 47.48,68.80 48.00,67.00 Z" fill="#fff" filter="url(#fBw1)"/>
<path d="M79.00,44.00 C79.42,43.00 80.17,42.37 81.00,42.00 C81.83,41.63 83.08,41.47 84.00,41.80 C84.92,42.13 86.00,43.13 86.50,44.00 C87.00,44.87 87.17,46.00 87.00,47.00 C86.83,48.00 86.33,49.17 85.50,50.00 C84.67,50.83 83.00,51.83 82.00,52.00 C81.00,52.17 80.08,51.67 79.50,51.00 C78.92,50.33 78.58,49.17 78.50,48.00 C78.42,46.83 78.58,45.00 79.00,44.00 Z" fill="#fff" filter="url(#fBw1)"/>
<path d="M130.00,42.30 C130.00,40.38 130.30,38.55 130.80,37.00 C131.30,35.45 131.72,34.03 133.00,33.00 C134.28,31.97 136.83,31.13 138.50,30.80 C140.17,30.47 141.72,30.75 143.00,31.00 C144.28,31.25 146.03,31.83 146.20,32.30 C146.37,32.77 144.78,33.10 144.00,33.80 C143.22,34.50 142.07,35.30 141.50,36.50 C140.93,37.70 140.72,39.52 140.60,41.00 C140.48,42.48 141.32,43.98 140.80,45.40 C140.28,46.82 138.53,48.60 137.50,49.50 C136.47,50.40 135.72,50.97 134.60,50.80 C133.48,50.63 131.57,49.92 130.80,48.50 C130.03,47.08 130.00,44.22 130.00,42.30 Z" fill="#fff" filter="url(#fBw1)"/>
<path d="M139.50,40.00 C139.95,38.75 141.67,38.17 142.50,38.50 C143.33,38.83 143.58,40.83 144.50,42.00 C145.42,43.17 146.75,44.42 148.00,45.50 C149.25,46.58 150.75,47.67 152.00,48.50 C153.25,49.33 154.63,49.67 155.50,50.50 C156.37,51.33 157.12,52.55 157.20,53.50 C157.28,54.45 156.95,55.78 156.00,56.20 C155.05,56.62 153.17,56.37 151.50,56.00 C149.83,55.63 147.58,54.83 146.00,54.00 C144.42,53.17 143.03,52.33 142.00,51.00 C140.97,49.67 140.22,47.83 139.80,46.00 C139.38,44.17 139.05,41.25 139.50,40.00 Z" fill="#fff" filter="url(#fBw2)"/>
<path d="M106.50,100.50 C108.08,99.17 110.25,96.83 112.50,95.50 C114.75,94.17 117.50,93.42 120.00,92.50 C122.50,91.58 125.17,90.67 127.50,90.00 C129.83,89.33 132.08,88.58 134.00,88.50 C135.92,88.42 137.50,89.00 139.00,89.50 C140.50,90.00 141.50,91.00 143.00,91.50 C144.50,92.00 146.67,91.92 148.00,92.50 C149.33,93.08 150.58,93.67 151.00,95.00 C151.42,96.33 151.92,99.33 150.50,100.50 C149.08,101.67 145.50,101.33 142.50,102.00 C139.50,102.67 136.25,103.42 132.50,104.50 C128.75,105.58 123.58,107.25 120.00,108.50 C116.42,109.75 113.92,110.67 111.00,112.00 C108.08,113.33 105.17,115.00 102.50,116.50 C99.83,118.00 97.42,119.33 95.00,121.00 C92.58,122.67 89.75,125.17 88.00,126.50 C86.25,127.83 85.30,128.78 84.50,129.00 C83.70,129.22 82.70,128.88 83.20,127.80 C83.70,126.72 85.62,124.47 87.50,122.50 C89.38,120.53 92.50,118.42 94.50,116.00 C96.50,113.58 98.08,110.08 99.50,108.00 C100.92,105.92 101.83,104.75 103.00,103.50 C104.17,102.25 104.92,101.83 106.50,100.50 Z" fill="#fff" filter="url(#fBw1)"/>
<path d="M133.00,92.00 C133.00,90.50 134.67,87.83 136.00,86.00 C137.33,84.17 139.33,82.42 141.00,81.00 C142.67,79.58 144.33,78.17 146.00,77.50 C147.67,76.83 149.58,76.75 151.00,77.00 C152.42,77.25 153.75,77.83 154.50,79.00 C155.25,80.17 155.50,82.17 155.50,84.00 C155.50,85.83 155.08,88.00 154.50,90.00 C153.92,92.00 152.92,94.50 152.00,96.00 C151.08,97.50 150.17,98.50 149.00,99.00 C147.83,99.50 146.50,99.33 145.00,99.00 C143.50,98.67 141.50,97.67 140.00,97.00 C138.50,96.33 137.17,95.83 136.00,95.00 C134.83,94.17 133.00,93.50 133.00,92.00 Z" fill="#fff" filter="url(#fBw1)"/>
<path d="M74.00,99.00 C75.33,97.75 77.00,96.75 79.00,96.50 C81.00,96.25 84.00,96.75 86.00,97.50 C88.00,98.25 89.83,99.42 91.00,101.00 C92.17,102.58 93.00,104.83 93.00,107.00 C93.00,109.17 92.00,111.83 91.00,114.00 C90.00,116.17 88.50,118.33 87.00,120.00 C85.50,121.67 84.17,123.33 82.00,124.00 C79.83,124.67 76.50,124.50 74.00,124.00 C71.50,123.50 68.67,122.17 67.00,121.00 C65.33,119.83 64.00,118.67 64.00,117.00 C64.00,115.33 65.83,113.17 67.00,111.00 C68.17,108.83 69.83,106.00 71.00,104.00 C72.17,102.00 72.67,100.25 74.00,99.00 Z" fill="#fff" filter="url(#fBw2)"/>
<path d="M76.00,96.00 C76.50,95.02 78.67,95.17 80.00,95.30 C81.33,95.43 83.23,96.02 84.00,96.80 C84.77,97.58 85.10,99.13 84.60,100.00 C84.10,100.87 82.27,101.80 81.00,102.00 C79.73,102.20 77.83,102.20 77.00,101.20 C76.17,100.20 75.50,96.98 76.00,96.00 Z" fill="#fff" filter="url(#fBw1)"/>
<path d="M88.00,104.50 C88.75,103.00 92.00,103.08 94.00,103.00 C96.00,102.92 98.33,103.50 100.00,104.00 C101.67,104.50 103.08,105.00 104.00,106.00 C104.92,107.00 105.75,108.67 105.50,110.00 C105.25,111.33 103.75,112.83 102.50,114.00 C101.25,115.17 99.75,116.00 98.00,117.00 C96.25,118.00 93.67,119.75 92.00,120.00 C90.33,120.25 88.42,119.83 88.00,118.50 C87.58,117.17 89.50,114.33 89.50,112.00 C89.50,109.67 87.25,106.00 88.00,104.50 Z" fill="#fff" filter="url(#fBw3)"/>
<path d="M110.00,114.50 C111.17,112.75 115.33,112.17 118.00,111.50 C120.67,110.83 124.00,110.25 126.00,110.50 C128.00,110.75 129.50,111.42 130.00,113.00 C130.50,114.58 130.00,117.83 129.00,120.00 C128.00,122.17 126.17,125.00 124.00,126.00 C121.83,127.00 118.17,126.67 116.00,126.00 C113.83,125.33 112.00,123.92 111.00,122.00 C110.00,120.08 108.83,116.25 110.00,114.50 Z" fill="#fff" filter="url(#fBw3)"/>
<path d="M93.00,103.50 C93.50,102.48 95.83,101.67 97.00,101.50 C98.17,101.33 99.33,101.75 100.00,102.50 C100.67,103.25 101.33,105.05 101.00,106.00 C100.67,106.95 99.17,107.93 98.00,108.20 C96.83,108.47 94.83,108.38 94.00,107.60 C93.17,106.82 92.50,104.52 93.00,103.50 Z" fill="#fff" filter="url(#fBw1)"/>
<path d="M60.00,112.00 C59.17,112.83 57.92,115.83 57.50,118.00 C57.08,120.17 57.08,122.83 57.50,125.00 C57.92,127.17 58.58,129.25 60.00,131.00 C61.42,132.75 63.83,134.50 66.00,135.50 C68.17,136.50 70.67,136.92 73.00,137.00 C75.33,137.08 77.83,136.67 80.00,136.00 C82.17,135.33 84.33,134.25 86.00,133.00 C87.67,131.75 90.00,129.75 90.00,128.50 C90.00,127.25 87.67,125.83 86.00,125.50 C84.33,125.17 82.17,126.42 80.00,126.50 C77.83,126.58 75.17,126.58 73.00,126.00 C70.83,125.42 68.50,124.33 67.00,123.00 C65.50,121.67 64.75,119.67 64.00,118.00 C63.25,116.33 63.17,114.00 62.50,113.00 C61.83,112.00 60.83,111.17 60.00,112.00 Z" fill="#fff" filter="url(#fBw1)"/>
<path d="M96.00,119.50 C97.00,118.50 100.67,117.92 103.00,117.50 C105.33,117.08 108.25,116.25 110.00,117.00 C111.75,117.75 112.17,120.50 113.50,122.00 C114.83,123.50 116.25,125.25 118.00,126.00 C119.75,126.75 122.17,127.25 124.00,126.50 C125.83,125.75 127.83,122.75 129.00,121.50 C130.17,120.25 130.57,118.25 131.00,119.00 C131.43,119.75 131.77,123.83 131.60,126.00 C131.43,128.17 130.77,130.07 130.00,132.00 C129.23,133.93 128.33,136.40 127.00,137.60 C125.67,138.80 124.00,139.23 122.00,139.20 C120.00,139.17 117.33,138.37 115.00,137.40 C112.67,136.43 110.17,134.97 108.00,133.40 C105.83,131.83 103.83,129.65 102.00,128.00 C100.17,126.35 98.00,124.92 97.00,123.50 C96.00,122.08 95.00,120.50 96.00,119.50 Z" fill="#fff" filter="url(#fBw1)"/>
<path d="M146.00,117.00 C146.25,115.83 147.00,113.92 148.00,113.00 C149.00,112.08 150.67,111.57 152.00,111.50 C153.33,111.43 154.67,112.60 156.00,112.60 C157.33,112.60 158.67,111.50 160.00,111.50 C161.33,111.50 162.83,111.93 164.00,112.60 C165.17,113.27 166.57,114.27 167.00,115.50 C167.43,116.73 167.43,118.82 166.60,120.00 C165.77,121.18 163.77,122.23 162.00,122.60 C160.23,122.97 158.00,122.37 156.00,122.20 C154.00,122.03 151.58,121.97 150.00,121.60 C148.42,121.23 147.17,120.77 146.50,120.00 C145.83,119.23 145.75,118.17 146.00,117.00 Z" fill="#fff" filter="url(#fBw2)"/>
<path d="M68.30,149.80 C67.95,148.33 68.72,146.45 69.00,145.00 C69.28,143.55 69.17,141.77 70.00,141.10 C70.83,140.43 72.67,140.90 74.00,141.00 C75.33,141.10 76.50,141.28 78.00,141.70 C79.50,142.12 81.45,142.73 83.00,143.50 C84.55,144.27 86.63,145.22 87.30,146.30 C87.97,147.38 87.20,148.83 87.00,150.00 C86.80,151.17 86.93,152.38 86.10,153.30 C85.27,154.22 83.35,155.02 82.00,155.50 C80.65,155.98 79.33,156.18 78.00,156.20 C76.67,156.22 75.15,156.00 74.00,155.60 C72.85,155.20 72.05,154.77 71.10,153.80 C70.15,152.83 68.65,151.27 68.30,149.80 Z" fill="#fff" filter="url(#fBw2)"/>
</g></g>
<line x1="210.00" y1="23.80" x2="210.00" y2="163.40" stroke="#444" stroke-width="0.9" />
<line x1="209.55" y1="162.90" x2="338.40" y2="162.90" stroke="#444" stroke-width="0.9" />
<line x1="208.00" y1="53.80" x2="210.00" y2="53.80" stroke="#444" stroke-width="0.8" />
<text x="203.60" y="55.90" font-size="6.0" fill="#333" stroke="#333" stroke-width="0.18" text-anchor="end" >10</text>
<line x1="208.00" y1="100.60" x2="210.00" y2="100.60" stroke="#444" stroke-width="0.8" />
<text x="203.60" y="102.70" font-size="6.0" fill="#333" stroke="#333" stroke-width="0.18" text-anchor="end" >0</text>
<line x1="208.00" y1="147.40" x2="210.00" y2="147.40" stroke="#444" stroke-width="0.8" />
<text x="203.60" y="149.50" font-size="6.0" fill="#333" stroke="#333" stroke-width="0.18" text-anchor="end" >−10</text>
<line x1="229.20" y1="162.90" x2="229.20" y2="164.90" stroke="#444" stroke-width="0.8" />
<text x="229.20" y="174.40" font-size="6.0" fill="#333" stroke="#333" stroke-width="0.18" text-anchor="middle" >−10</text>
<line x1="250.80" y1="162.90" x2="250.80" y2="164.90" stroke="#444" stroke-width="0.8" />
<text x="250.80" y="174.40" font-size="6.0" fill="#333" stroke="#333" stroke-width="0.18" text-anchor="middle" >−5</text>
<line x1="272.50" y1="162.90" x2="272.50" y2="164.90" stroke="#444" stroke-width="0.8" />
<text x="272.50" y="174.40" font-size="6.0" fill="#333" stroke="#333" stroke-width="0.18" text-anchor="middle" >0</text>
<line x1="294.10" y1="162.90" x2="294.10" y2="164.90" stroke="#444" stroke-width="0.8" />
<text x="294.10" y="174.40" font-size="6.0" fill="#333" stroke="#333" stroke-width="0.18" text-anchor="middle" >5</text>
<line x1="315.80" y1="162.90" x2="315.80" y2="164.90" stroke="#444" stroke-width="0.8" />
<text x="315.80" y="174.40" font-size="6.0" fill="#333" stroke="#333" stroke-width="0.18" text-anchor="middle" >10</text>
<line x1="337.50" y1="162.90" x2="337.50" y2="164.90" stroke="#444" stroke-width="0.8" />
<text x="337.50" y="174.40" font-size="6.0" fill="#333" stroke="#333" stroke-width="0.18" text-anchor="middle" >15</text>
<text x="274.50" y="186.80" font-size="8.8" fill="#333" stroke="#333" stroke-width="0.15" text-anchor="middle" textLength="26.50" lengthAdjust="spacingAndGlyphs" >UMAP_1</text>
<text x="189.00" y="91.00" font-size="8.8" fill="#333" stroke="#333" stroke-width="0.15" text-anchor="middle" transform="rotate(-90 189.00 91.00)" textLength="26.70" lengthAdjust="spacingAndGlyphs" >UMAP_2</text>
<defs><linearGradient id="plasma" x1="0" y1="1" x2="0" y2="0"><stop offset="0" stop-color="#3a2c84"/><stop offset="0.2" stop-color="#4a3894"/><stop offset="0.23" stop-color="#b83ca8"/><stop offset="0.45" stop-color="#d84898"/><stop offset="0.7" stop-color="#f08850"/><stop offset="1" stop-color="#f4dc28"/></linearGradient></defs>
<rect x="328.2" y="76.5" width="5.2" height="25.0" fill="url(#plasma)"/>
<text x="336.60" y="80.00" font-size="5.6" fill="#333" text-anchor="middle" transform="rotate(90 336.60 80.00)" >3</text>
<text x="336.60" y="85.90" font-size="5.6" fill="#333" text-anchor="middle" transform="rotate(90 336.60 85.90)" >2</text>
<text x="336.60" y="91.80" font-size="5.6" fill="#333" text-anchor="middle" transform="rotate(90 336.60 91.80)" >1</text>
<text x="336.60" y="97.70" font-size="5.6" fill="#333" text-anchor="middle" transform="rotate(90 336.60 97.70)" >0</text>
<text x="347.50" y="16.20" font-size="11.2" fill="#111" font-weight="bold" textLength="7.40" lengthAdjust="spacingAndGlyphs" >C</text>
<text x="443.20" y="18.80" font-size="7.6" fill="#2a2a2a" stroke="#2a2a2a" stroke-width="0.2" text-anchor="middle" font-style="italic" textLength="24.70" lengthAdjust="spacingAndGlyphs" >EBER1</text>
<line x1="372.30" y1="32.30" x2="372.30" y2="141.40" stroke="#222" stroke-width="1.0" />
<line x1="371.80" y1="140.90" x2="512.70" y2="140.90" stroke="#222" stroke-width="1.0" />
<line x1="370.10" y1="34.60" x2="372.30" y2="34.60" stroke="#222" stroke-width="0.8" />
<text x="367.20" y="36.80" font-size="6.2" fill="#333" stroke="#333" stroke-width="0.18" text-anchor="end" >5</text>
<line x1="370.10" y1="52.30" x2="372.30" y2="52.30" stroke="#222" stroke-width="0.8" />
<text x="367.20" y="54.50" font-size="6.2" fill="#333" stroke="#333" stroke-width="0.18" text-anchor="end" >4</text>
<line x1="370.10" y1="70.00" x2="372.30" y2="70.00" stroke="#222" stroke-width="0.8" />
<text x="367.20" y="72.20" font-size="6.2" fill="#333" stroke="#333" stroke-width="0.18" text-anchor="end" >3</text>
<line x1="370.10" y1="87.70" x2="372.30" y2="87.70" stroke="#222" stroke-width="0.8" />
<text x="367.20" y="89.90" font-size="6.2" fill="#333" stroke="#333" stroke-width="0.18" text-anchor="end" >2</text>
<line x1="370.10" y1="105.40" x2="372.30" y2="105.40" stroke="#222" stroke-width="0.8" />
<text x="367.20" y="107.60" font-size="6.2" fill="#333" stroke="#333" stroke-width="0.18" text-anchor="end" >1</text>
<line x1="370.10" y1="123.10" x2="372.30" y2="123.10" stroke="#222" stroke-width="0.8" />
<text x="367.20" y="125.30" font-size="6.2" fill="#333" stroke="#333" stroke-width="0.18" text-anchor="end" >0</text>
<line x1="370.10" y1="140.80" x2="372.30" y2="140.80" stroke="#222" stroke-width="0.8" />
<text x="367.20" y="143.00" font-size="6.2" fill="#333" stroke="#333" stroke-width="0.18" text-anchor="end" >−1</text>
<text x="354.60" y="85.00" font-size="7.2" fill="#333" stroke="#333" stroke-width="0.12" text-anchor="middle" transform="rotate(-90 354.60 85.00)" textLength="47.70" lengthAdjust="spacingAndGlyphs" >Expression level</text>
<path d="M376.20,109.29 L376.21,109.96 L376.23,110.63 L376.25,111.30 L376.27,111.96 L376.30,112.63 L376.33,113.30 L376.36,113.96 L376.39,114.63 L376.43,115.30 L376.46,115.97 L376.51,116.63 L376.55,117.30 L376.59,117.97 L376.64,118.63 L376.69,119.30 L376.74,119.97 L376.79,120.64 L376.84,121.30 L376.90,121.97 L376.96,122.64 L377.02,123.30 L377.08,123.97 L377.15,124.64 L377.23,125.31 L377.31,125.97 L377.40,126.64 L377.50,127.31 L377.65,127.97 L377.81,128.64 L377.98,129.31 L378.14,129.98 L378.27,130.64 L378.37,131.31 L378.40,131.98 L378.39,132.64 L378.37,133.31 L378.32,133.98 L378.24,134.65 L378.13,135.31 L374.27,135.31 L374.16,134.65 L374.08,133.98 L374.03,133.31 L374.01,132.64 L374.00,131.98 L374.03,131.31 L374.13,130.64 L374.26,129.98 L374.42,129.31 L374.59,128.64 L374.75,127.97 L374.90,127.31 L375.00,126.64 L375.09,125.97 L375.17,125.31 L375.25,124.64 L375.32,123.97 L375.38,123.30 L375.44,122.64 L375.50,121.97 L375.56,121.30 L375.61,120.64 L375.66,119.97 L375.71,119.30 L375.76,118.63 L375.81,117.97 L375.85,117.30 L375.89,116.63 L375.94,115.97 L375.97,115.30 L376.01,114.63 L376.04,113.96 L376.07,113.30 L376.10,112.63 L376.13,111.96 L376.15,111.30 L376.17,110.63 L376.19,109.96 L376.20,109.29 Z" fill="#2E9E72" stroke="#4a4a4a" stroke-width="0.25" stroke-opacity="0.6" stroke-linejoin="round"/>
<path d="M382.53,44.33 L382.63,46.64 L382.79,48.94 L382.96,51.24 L383.14,53.54 L383.32,55.84 L383.51,58.14 L383.71,60.44 L383.90,62.74 L384.10,65.04 L384.30,67.34 L384.50,69.65 L384.72,71.95 L384.98,74.25 L385.22,76.55 L385.38,78.85 L385.43,81.15 L385.40,83.45 L385.34,85.75 L385.25,88.05 L385.15,90.35 L385.05,92.66 L384.91,94.96 L384.71,97.26 L384.49,99.56 L384.30,101.86 L384.19,104.16 L384.17,106.46 L384.19,108.76 L384.22,111.06 L384.27,113.36 L384.34,115.67 L384.52,117.97 L384.76,120.27 L384.99,122.57 L385.20,124.87 L385.39,127.17 L385.38,129.47 L384.95,131.77 L383.04,134.07 L382.02,134.07 L380.11,131.77 L379.68,129.47 L379.67,127.17 L379.86,124.87 L380.07,122.57 L380.30,120.27 L380.54,117.97 L380.72,115.67 L380.79,113.36 L380.84,111.06 L380.87,108.76 L380.89,106.46 L380.87,104.16 L380.76,101.86 L380.57,99.56 L380.35,97.26 L380.15,94.96 L380.01,92.66 L379.91,90.35 L379.81,88.05 L379.72,85.75 L379.66,83.45 L379.63,81.15 L379.68,78.85 L379.84,76.55 L380.08,74.25 L380.34,71.95 L380.56,69.65 L380.76,67.34 L380.96,65.04 L381.16,62.74 L381.35,60.44 L381.55,58.14 L381.74,55.84 L381.92,53.54 L382.10,51.24 L382.27,48.94 L382.43,46.64 L382.53,44.33 Z" fill="#F5921E" stroke="#4a4a4a" stroke-width="0.25" stroke-opacity="0.6" stroke-linejoin="round"/>
<defs><linearGradient id="sg1" gradientUnits="userSpaceOnUse" x1="388.86" y1="120.17" x2="388.86" y2="84.16"><stop offset="0" stop-color="#bf83cc"/><stop offset="0.45" stop-color="#ae8db4"/><stop offset="1" stop-color="#c2aac7"/></linearGradient></defs>
<rect x="388.44" y="84.16" width="0.85" height="36.02" fill="url(#sg1)"/>
<path d="M389.00,118.67 L389.06,119.10 L389.13,119.53 L389.21,119.95 L389.30,120.38 L389.39,120.81 L389.48,121.23 L389.58,121.66 L389.69,122.09 L389.80,122.51 L389.91,122.94 L390.04,123.37 L390.18,123.79 L390.33,124.22 L390.49,124.65 L390.65,125.07 L390.80,125.50 L390.95,125.93 L391.07,126.35 L391.16,126.78 L391.25,127.21 L391.34,127.63 L391.42,128.06 L391.50,128.49 L391.57,128.91 L391.62,129.34 L391.65,129.77 L391.66,130.19 L391.66,130.62 L391.66,131.05 L391.65,131.47 L391.64,131.90 L391.62,132.33 L391.60,132.75 L391.56,133.18 L391.52,133.61 L391.48,134.03 L391.42,134.46 L391.35,134.89 L391.26,135.31 L386.46,135.31 L386.37,134.89 L386.30,134.46 L386.24,134.03 L386.20,133.61 L386.16,133.18 L386.12,132.75 L386.10,132.33 L386.08,131.90 L386.07,131.47 L386.06,131.05 L386.06,130.62 L386.06,130.19 L386.07,129.77 L386.10,129.34 L386.15,128.91 L386.22,128.49 L386.30,128.06 L386.38,127.63 L386.47,127.21 L386.56,126.78 L386.65,126.35 L386.77,125.93 L386.92,125.50 L387.07,125.07 L387.23,124.65 L387.39,124.22 L387.54,123.79 L387.68,123.37 L387.81,122.94 L387.92,122.51 L388.03,122.09 L388.14,121.66 L388.24,121.23 L388.33,120.81 L388.42,120.38 L388.51,119.95 L388.59,119.53 L388.66,119.10 L388.72,118.67 Z" fill="#C77FD6" stroke="#4a4a4a" stroke-width="0.25" stroke-opacity="0.6" stroke-linejoin="round"/>
<defs><linearGradient id="sg2" gradientUnits="userSpaceOnUse" x1="395.19" y1="120.17" x2="395.19" y2="85.93"><stop offset="0" stop-color="#e27d7f"/><stop offset="0.45" stop-color="#c08a8b"/><stop offset="1" stop-color="#d0a7a8"/></linearGradient></defs>
<rect x="394.76" y="85.93" width="0.85" height="34.25" fill="url(#sg2)"/>
<path d="M395.33,118.67 L395.39,119.10 L395.45,119.53 L395.52,119.95 L395.59,120.38 L395.68,120.81 L395.76,121.23 L395.86,121.66 L395.95,122.09 L396.06,122.51 L396.17,122.94 L396.29,123.37 L396.43,123.79 L396.58,124.22 L396.75,124.65 L396.92,125.07 L397.08,125.50 L397.22,125.93 L397.34,126.35 L397.42,126.78 L397.49,127.21 L397.56,127.63 L397.62,128.06 L397.68,128.49 L397.72,128.91 L397.76,129.34 L397.78,129.77 L397.79,130.19 L397.79,130.62 L397.79,131.05 L397.78,131.47 L397.78,131.90 L397.77,132.33 L397.75,132.75 L397.73,133.18 L397.71,133.61 L397.67,134.03 L397.63,134.46 L397.58,134.89 L397.52,135.31 L392.86,135.31 L392.80,134.89 L392.75,134.46 L392.71,134.03 L392.67,133.61 L392.65,133.18 L392.63,132.75 L392.61,132.33 L392.60,131.90 L392.60,131.47 L392.59,131.05 L392.59,130.62 L392.59,130.19 L392.60,129.77 L392.62,129.34 L392.66,128.91 L392.70,128.49 L392.76,128.06 L392.82,127.63 L392.89,127.21 L392.96,126.78 L393.04,126.35 L393.16,125.93 L393.30,125.50 L393.46,125.07 L393.63,124.65 L393.80,124.22 L393.95,123.79 L394.09,123.37 L394.21,122.94 L394.32,122.51 L394.43,122.09 L394.52,121.66 L394.62,121.23 L394.70,120.81 L394.79,120.38 L394.86,119.95 L394.93,119.53 L394.99,119.10 L395.05,118.67 Z" fill="#F0787A" stroke="#4a4a4a" stroke-width="0.25" stroke-opacity="0.6" stroke-linejoin="round"/>
<path d="M401.52,109.29 L401.53,109.96 L401.55,110.63 L401.57,111.30 L401.59,111.96 L401.62,112.63 L401.65,113.30 L401.68,113.96 L401.71,114.63 L401.75,115.30 L401.79,115.97 L401.84,116.63 L401.89,117.30 L401.94,117.97 L401.99,118.63 L402.04,119.30 L402.10,119.97 L402.16,120.64 L402.23,121.30 L402.31,121.97 L402.39,122.64 L402.47,123.30 L402.56,123.97 L402.65,124.64 L402.74,125.31 L402.83,125.97 L402.92,126.64 L403.01,127.31 L403.09,127.97 L403.18,128.64 L403.25,129.31 L403.33,129.98 L403.41,130.64 L403.49,131.31 L403.56,131.98 L403.64,132.64 L403.71,133.31 L403.78,133.98 L403.85,134.65 L403.92,135.31 L399.12,135.31 L399.19,134.65 L399.26,133.98 L399.33,133.31 L399.40,132.64 L399.48,131.98 L399.55,131.31 L399.63,130.64 L399.71,129.98 L399.79,129.31 L399.86,128.64 L399.95,127.97 L400.03,127.31 L400.12,126.64 L400.21,125.97 L400.30,125.31 L400.39,124.64 L400.48,123.97 L400.57,123.30 L400.65,122.64 L400.73,121.97 L400.81,121.30 L400.88,120.64 L400.94,119.97 L401.00,119.30 L401.05,118.63 L401.10,117.97 L401.15,117.30 L401.20,116.63 L401.25,115.97 L401.29,115.30 L401.33,114.63 L401.36,113.96 L401.39,113.30 L401.42,112.63 L401.45,111.96 L401.47,111.30 L401.49,110.63 L401.51,109.96 L401.52,109.29 Z" fill="#C2A93A" stroke="#4a4a4a" stroke-width="0.25" stroke-opacity="0.6" stroke-linejoin="round"/>
<path d="M407.85,112.13 L407.86,112.72 L407.87,113.32 L407.88,113.91 L407.90,114.50 L407.92,115.10 L407.95,115.69 L407.98,116.29 L408.01,116.88 L408.05,117.48 L408.09,118.07 L408.14,118.67 L408.19,119.26 L408.24,119.85 L408.30,120.45 L408.36,121.04 L408.42,121.64 L408.50,122.23 L408.60,122.83 L408.71,123.42 L408.82,124.02 L408.95,124.61 L409.08,125.21 L409.21,125.80 L409.34,126.39 L409.47,126.99 L409.58,127.58 L409.67,128.18 L409.75,128.77 L409.82,129.37 L409.89,129.96 L409.96,130.56 L410.03,131.15 L410.09,131.75 L410.15,132.34 L410.21,132.93 L410.25,133.53 L410.29,134.12 L410.33,134.72 L410.35,135.31 L405.35,135.31 L405.37,134.72 L405.41,134.12 L405.45,133.53 L405.49,132.93 L405.55,132.34 L405.61,131.75 L405.67,131.15 L405.74,130.56 L405.81,129.96 L405.88,129.37 L405.95,128.77 L406.03,128.18 L406.12,127.58 L406.23,126.99 L406.36,126.39 L406.49,125.80 L406.62,125.21 L406.75,124.61 L406.88,124.02 L406.99,123.42 L407.10,122.83 L407.20,122.23 L407.28,121.64 L407.34,121.04 L407.40,120.45 L407.46,119.85 L407.51,119.26 L407.56,118.67 L407.61,118.07 L407.65,117.48 L407.69,116.88 L407.72,116.29 L407.75,115.69 L407.78,115.10 L407.80,114.50 L407.82,113.91 L407.83,113.32 L407.84,112.72 L407.85,112.13 Z" fill="#3AADA8" stroke="#4a4a4a" stroke-width="0.25" stroke-opacity="0.6" stroke-linejoin="round"/>
<path d="M414.18,109.29 L414.19,109.96 L414.21,110.63 L414.23,111.30 L414.25,111.96 L414.28,112.63 L414.31,113.30 L414.34,113.96 L414.37,114.63 L414.41,115.30 L414.45,115.97 L414.50,116.63 L414.55,117.30 L414.60,117.97 L414.65,118.63 L414.70,119.30 L414.76,119.97 L414.82,120.64 L414.89,121.30 L414.97,121.97 L415.05,122.64 L415.13,123.30 L415.22,123.97 L415.31,124.64 L415.40,125.31 L415.49,125.97 L415.58,126.64 L415.67,127.31 L415.75,127.97 L415.84,128.64 L415.91,129.31 L415.99,129.98 L416.07,130.64 L416.15,131.31 L416.22,131.98 L416.30,132.64 L416.37,133.31 L416.44,133.98 L416.51,134.65 L416.58,135.31 L411.78,135.31 L411.85,134.65 L411.92,133.98 L411.99,133.31 L412.06,132.64 L412.14,131.98 L412.21,131.31 L412.29,130.64 L412.37,129.98 L412.45,129.31 L412.52,128.64 L412.61,127.97 L412.69,127.31 L412.78,126.64 L412.87,125.97 L412.96,125.31 L413.05,124.64 L413.14,123.97 L413.23,123.30 L413.31,122.64 L413.39,121.97 L413.47,121.30 L413.54,120.64 L413.60,119.97 L413.66,119.30 L413.71,118.63 L413.76,117.97 L413.81,117.30 L413.86,116.63 L413.91,115.97 L413.95,115.30 L413.99,114.63 L414.02,113.96 L414.05,113.30 L414.08,112.63 L414.11,111.96 L414.13,111.30 L414.15,110.63 L414.17,109.96 L414.18,109.29 Z" fill="#229E50" stroke="#4a4a4a" stroke-width="0.25" stroke-opacity="0.6" stroke-linejoin="round"/>
<path d="M420.51,107.17 L420.51,107.89 L420.51,108.61 L420.52,109.33 L420.53,110.06 L420.55,110.78 L420.57,111.50 L420.60,112.22 L420.64,112.94 L420.68,113.66 L420.73,114.39 L420.78,115.11 L420.84,115.83 L420.90,116.55 L420.97,117.27 L421.04,117.99 L421.14,118.72 L421.26,119.44 L421.41,120.16 L421.57,120.88 L421.76,121.60 L421.96,122.32 L422.16,123.05 L422.35,123.77 L422.54,124.49 L422.72,125.21 L422.92,125.93 L423.13,126.65 L423.30,127.38 L423.40,128.10 L423.40,128.82 L423.31,129.54 L423.17,130.26 L422.99,130.98 L422.82,131.70 L422.65,132.43 L422.46,133.15 L422.25,133.87 L422.03,134.59 L421.81,135.31 L419.21,135.31 L418.99,134.59 L418.77,133.87 L418.56,133.15 L418.37,132.43 L418.20,131.70 L418.03,130.98 L417.85,130.26 L417.71,129.54 L417.62,128.82 L417.62,128.10 L417.72,127.38 L417.89,126.65 L418.10,125.93 L418.30,125.21 L418.48,124.49 L418.67,123.77 L418.86,123.05 L419.06,122.32 L419.26,121.60 L419.45,120.88 L419.61,120.16 L419.76,119.44 L419.88,118.72 L419.98,117.99 L420.05,117.27 L420.12,116.55 L420.18,115.83 L420.24,115.11 L420.29,114.39 L420.34,113.66 L420.38,112.94 L420.42,112.22 L420.45,111.50 L420.47,110.78 L420.49,110.06 L420.50,109.33 L420.51,108.61 L420.51,107.89 L420.51,107.17 Z" fill="#8DB83A" stroke="#4a4a4a" stroke-width="0.25" stroke-opacity="0.6" stroke-linejoin="round"/>
<defs><linearGradient id="sg3" gradientUnits="userSpaceOnUse" x1="426.84" y1="113.98" x2="426.84" y2="64.69"><stop offset="0" stop-color="#7f8ed4"/><stop offset="0.45" stop-color="#8b93b9"/><stop offset="1" stop-color="#a8aeca"/></linearGradient></defs>
<rect x="426.41" y="64.69" width="0.85" height="49.29" fill="url(#sg3)"/>
<path d="M427.18,112.48 L427.28,113.07 L427.38,113.65 L427.48,114.24 L427.59,114.82 L427.70,115.41 L427.81,115.99 L427.93,116.58 L428.05,117.16 L428.18,117.75 L428.30,118.33 L428.43,118.92 L428.56,119.51 L428.71,120.09 L428.87,120.68 L429.05,121.26 L429.24,121.85 L429.41,122.43 L429.57,123.02 L429.71,123.60 L429.80,124.19 L429.84,124.77 L429.83,125.36 L429.78,125.95 L429.69,126.53 L429.59,127.12 L429.47,127.70 L429.34,128.29 L429.21,128.87 L429.08,129.46 L428.96,130.04 L428.85,130.63 L428.74,131.21 L428.63,131.80 L428.51,132.39 L428.39,132.97 L428.27,133.56 L428.15,134.14 L428.03,134.73 L427.91,135.31 L425.77,135.31 L425.65,134.73 L425.53,134.14 L425.41,133.56 L425.29,132.97 L425.17,132.39 L425.05,131.80 L424.94,131.21 L424.83,130.63 L424.72,130.04 L424.60,129.46 L424.47,128.87 L424.34,128.29 L424.21,127.70 L424.09,127.12 L423.99,126.53 L423.90,125.95 L423.85,125.36 L423.84,124.77 L423.88,124.19 L423.97,123.60 L424.11,123.02 L424.27,122.43 L424.44,121.85 L424.63,121.26 L424.81,120.68 L424.97,120.09 L425.12,119.51 L425.25,118.92 L425.38,118.33 L425.50,117.75 L425.63,117.16 L425.75,116.58 L425.87,115.99 L425.98,115.41 L426.09,114.82 L426.20,114.24 L426.30,113.65 L426.40,113.07 L426.50,112.48 Z" fill="#7A8CE0" stroke="#4a4a4a" stroke-width="0.25" stroke-opacity="0.6" stroke-linejoin="round"/>
<path d="M433.17,114.43 L433.18,114.96 L433.20,115.50 L433.22,116.03 L433.25,116.57 L433.28,117.10 L433.32,117.64 L433.36,118.18 L433.40,118.71 L433.44,119.25 L433.49,119.78 L433.55,120.32 L433.60,120.85 L433.66,121.39 L433.72,121.92 L433.79,122.46 L433.85,123.00 L433.93,123.53 L434.01,124.07 L434.10,124.60 L434.19,125.14 L434.29,125.67 L434.40,126.21 L434.51,126.74 L434.62,127.28 L434.73,127.82 L434.84,128.35 L434.95,128.89 L435.06,129.42 L435.15,129.96 L435.24,130.49 L435.33,131.03 L435.42,131.56 L435.51,132.10 L435.59,132.64 L435.67,133.17 L435.75,133.71 L435.83,134.24 L435.90,134.78 L435.97,135.31 L430.37,135.31 L430.44,134.78 L430.51,134.24 L430.59,133.71 L430.67,133.17 L430.75,132.64 L430.83,132.10 L430.92,131.56 L431.01,131.03 L431.10,130.49 L431.19,129.96 L431.28,129.42 L431.39,128.89 L431.50,128.35 L431.61,127.82 L431.72,127.28 L431.83,126.74 L431.94,126.21 L432.05,125.67 L432.15,125.14 L432.24,124.60 L432.33,124.07 L432.41,123.53 L432.49,123.00 L432.55,122.46 L432.62,121.92 L432.68,121.39 L432.74,120.85 L432.79,120.32 L432.85,119.78 L432.90,119.25 L432.94,118.71 L432.98,118.18 L433.02,117.64 L433.06,117.10 L433.09,116.57 L433.12,116.03 L433.14,115.50 L433.16,114.96 L433.17,114.43 Z" fill="#1AA8E0" stroke="#4a4a4a" stroke-width="0.25" stroke-opacity="0.6" stroke-linejoin="round"/>
<defs><linearGradient id="sg4" gradientUnits="userSpaceOnUse" x1="439.50" y1="115.75" x2="439.50" y2="85.93"><stop offset="0" stop-color="#4aa7bd"/><stop offset="0.45" stop-color="#6ea1ac"/><stop offset="1" stop-color="#92b8c1"/></linearGradient></defs>
<rect x="439.07" y="85.93" width="0.85" height="29.82" fill="url(#sg4)"/>
<path d="M439.70,114.25 L439.74,114.79 L439.78,115.33 L439.83,115.87 L439.88,116.41 L439.93,116.95 L440.00,117.49 L440.06,118.03 L440.13,118.57 L440.21,119.11 L440.29,119.65 L440.38,120.19 L440.47,120.73 L440.56,121.27 L440.67,121.81 L440.81,122.35 L440.96,122.89 L441.14,123.43 L441.33,123.97 L441.53,124.51 L441.73,125.05 L441.92,125.59 L442.10,126.13 L442.25,126.67 L442.38,127.21 L442.46,127.75 L442.50,128.29 L442.49,128.83 L442.47,129.37 L442.43,129.91 L442.38,130.45 L442.33,130.99 L442.27,131.53 L442.22,132.07 L442.17,132.61 L442.11,133.15 L442.05,133.69 L441.98,134.23 L441.92,134.77 L441.85,135.31 L437.15,135.31 L437.08,134.77 L437.02,134.23 L436.95,133.69 L436.89,133.15 L436.83,132.61 L436.78,132.07 L436.73,131.53 L436.67,130.99 L436.62,130.45 L436.57,129.91 L436.53,129.37 L436.51,128.83 L436.50,128.29 L436.54,127.75 L436.62,127.21 L436.75,126.67 L436.90,126.13 L437.08,125.59 L437.27,125.05 L437.47,124.51 L437.67,123.97 L437.86,123.43 L438.04,122.89 L438.19,122.35 L438.33,121.81 L438.44,121.27 L438.53,120.73 L438.62,120.19 L438.71,119.65 L438.79,119.11 L438.87,118.57 L438.94,118.03 L439.00,117.49 L439.07,116.95 L439.12,116.41 L439.17,115.87 L439.22,115.33 L439.26,114.79 L439.30,114.25 Z" fill="#3AAAC4" stroke="#4a4a4a" stroke-width="0.25" stroke-opacity="0.6" stroke-linejoin="round"/>
<path d="M445.83,113.90 L445.84,114.45 L445.86,114.99 L445.88,115.54 L445.90,116.09 L445.93,116.64 L445.96,117.19 L445.99,117.74 L446.02,118.29 L446.05,118.84 L446.08,119.39 L446.12,119.94 L446.15,120.49 L446.19,121.03 L446.23,121.58 L446.26,122.13 L446.30,122.68 L446.34,123.23 L446.38,123.78 L446.42,124.33 L446.45,124.88 L446.48,125.43 L446.51,125.98 L446.55,126.53 L446.58,127.08 L446.62,127.62 L446.67,128.17 L446.72,128.72 L446.78,129.27 L446.85,129.82 L446.94,130.37 L447.08,130.92 L447.28,131.47 L447.53,132.02 L447.79,132.57 L448.05,133.12 L448.28,133.67 L448.48,134.21 L448.66,134.76 L448.83,135.31 L442.83,135.31 L443.00,134.76 L443.18,134.21 L443.38,133.67 L443.61,133.12 L443.87,132.57 L444.13,132.02 L444.38,131.47 L444.58,130.92 L444.72,130.37 L444.81,129.82 L444.88,129.27 L444.94,128.72 L444.99,128.17 L445.04,127.62 L445.08,127.08 L445.11,126.53 L445.15,125.98 L445.18,125.43 L445.21,124.88 L445.24,124.33 L445.28,123.78 L445.32,123.23 L445.36,122.68 L445.40,122.13 L445.43,121.58 L445.47,121.03 L445.51,120.49 L445.54,119.94 L445.58,119.39 L445.61,118.84 L445.64,118.29 L445.67,117.74 L445.70,117.19 L445.73,116.64 L445.76,116.09 L445.78,115.54 L445.80,114.99 L445.82,114.45 L445.83,113.90 Z" fill="#2A9E48" stroke="#4a4a4a" stroke-width="0.25" stroke-opacity="0.6" stroke-linejoin="round"/>
<defs><linearGradient id="sg5" gradientUnits="userSpaceOnUse" x1="452.16" y1="117.52" x2="452.16" y2="100.09"><stop offset="0" stop-color="#db709d"/><stop offset="0.45" stop-color="#bd839b"/><stop offset="1" stop-color="#cea2b4"/></linearGradient></defs>
<rect x="451.73" y="100.09" width="0.85" height="17.43" fill="url(#sg5)"/>
<path d="M452.36,116.02 L452.46,116.51 L452.58,117.01 L452.70,117.50 L452.82,118.00 L452.95,118.49 L453.08,118.99 L453.20,119.48 L453.33,119.98 L453.46,120.47 L453.58,120.97 L453.70,121.46 L453.82,121.96 L453.95,122.45 L454.08,122.95 L454.22,123.44 L454.36,123.94 L454.50,124.43 L454.63,124.92 L454.75,125.42 L454.86,125.91 L454.96,126.41 L455.04,126.90 L455.11,127.40 L455.15,127.89 L455.16,128.39 L455.12,128.88 L455.02,129.38 L454.87,129.87 L454.69,130.37 L454.50,130.86 L454.32,131.36 L454.16,131.85 L454.03,132.34 L453.91,132.84 L453.78,133.33 L453.67,133.83 L453.55,134.32 L453.44,134.82 L453.34,135.31 L450.98,135.31 L450.88,134.82 L450.77,134.32 L450.65,133.83 L450.54,133.33 L450.41,132.84 L450.29,132.34 L450.16,131.85 L450.00,131.36 L449.82,130.86 L449.63,130.37 L449.45,129.87 L449.30,129.38 L449.20,128.88 L449.16,128.39 L449.17,127.89 L449.21,127.40 L449.28,126.90 L449.36,126.41 L449.46,125.91 L449.57,125.42 L449.69,124.92 L449.82,124.43 L449.96,123.94 L450.10,123.44 L450.24,122.95 L450.37,122.45 L450.50,121.96 L450.62,121.46 L450.74,120.97 L450.86,120.47 L450.99,119.98 L451.12,119.48 L451.24,118.99 L451.37,118.49 L451.50,118.00 L451.62,117.50 L451.74,117.01 L451.86,116.51 L451.96,116.02 Z" fill="#E8689E" stroke="#4a4a4a" stroke-width="0.25" stroke-opacity="0.6" stroke-linejoin="round"/>
<path d="M458.49,113.36 L458.50,113.93 L458.53,114.49 L458.56,115.05 L458.60,115.62 L458.64,116.18 L458.70,116.74 L458.76,117.30 L458.82,117.87 L458.89,118.43 L458.97,118.99 L459.06,119.56 L459.15,120.12 L459.24,120.68 L459.34,121.24 L459.46,121.81 L459.61,122.37 L459.79,122.93 L460.00,123.49 L460.22,124.06 L460.44,124.62 L460.67,125.18 L460.89,125.75 L461.10,126.31 L461.27,126.87 L461.39,127.43 L461.47,128.00 L461.49,128.56 L461.46,129.12 L461.39,129.69 L461.29,130.25 L461.18,130.81 L461.07,131.37 L460.97,131.94 L460.86,132.50 L460.75,133.06 L460.62,133.62 L460.50,134.19 L460.36,134.75 L460.23,135.31 L456.75,135.31 L456.62,134.75 L456.48,134.19 L456.36,133.62 L456.23,133.06 L456.12,132.50 L456.01,131.94 L455.91,131.37 L455.80,130.81 L455.69,130.25 L455.59,129.69 L455.52,129.12 L455.49,128.56 L455.51,128.00 L455.59,127.43 L455.71,126.87 L455.88,126.31 L456.09,125.75 L456.31,125.18 L456.54,124.62 L456.76,124.06 L456.98,123.49 L457.19,122.93 L457.37,122.37 L457.52,121.81 L457.64,121.24 L457.74,120.68 L457.83,120.12 L457.92,119.56 L458.01,118.99 L458.09,118.43 L458.16,117.87 L458.22,117.30 L458.28,116.74 L458.34,116.18 L458.38,115.62 L458.42,115.05 L458.45,114.49 L458.48,113.93 L458.49,113.36 Z" fill="#20B4DC" stroke="#4a4a4a" stroke-width="0.25" stroke-opacity="0.6" stroke-linejoin="round"/>
<defs><linearGradient id="sg6" gradientUnits="userSpaceOnUse" x1="464.82" y1="113.98" x2="464.82" y2="39.91"><stop offset="0" stop-color="#9f88c0"/><stop offset="0.45" stop-color="#9c90ae"/><stop offset="1" stop-color="#b5acc2"/></linearGradient></defs>
<rect x="464.39" y="39.91" width="0.85" height="74.07" fill="url(#sg6)"/>
<path d="M465.02,112.48 L465.09,113.07 L465.16,113.65 L465.24,114.24 L465.32,114.82 L465.41,115.41 L465.50,115.99 L465.59,116.58 L465.68,117.16 L465.78,117.75 L465.88,118.33 L465.99,118.92 L466.09,119.51 L466.21,120.09 L466.33,120.68 L466.46,121.26 L466.59,121.85 L466.73,122.43 L466.87,123.02 L467.01,123.60 L467.14,124.19 L467.26,124.77 L467.37,125.36 L467.47,125.95 L467.54,126.53 L467.60,127.12 L467.67,127.70 L467.72,128.29 L467.77,128.87 L467.80,129.46 L467.82,130.04 L467.81,130.63 L467.79,131.21 L467.75,131.80 L467.69,132.39 L467.62,132.97 L467.53,133.56 L467.42,134.14 L467.30,134.73 L467.17,135.31 L462.47,135.31 L462.34,134.73 L462.22,134.14 L462.11,133.56 L462.02,132.97 L461.95,132.39 L461.89,131.80 L461.85,131.21 L461.83,130.63 L461.82,130.04 L461.84,129.46 L461.87,128.87 L461.92,128.29 L461.97,127.70 L462.04,127.12 L462.10,126.53 L462.17,125.95 L462.27,125.36 L462.38,124.77 L462.50,124.19 L462.63,123.60 L462.77,123.02 L462.91,122.43 L463.05,121.85 L463.18,121.26 L463.31,120.68 L463.43,120.09 L463.55,119.51 L463.65,118.92 L463.76,118.33 L463.86,117.75 L463.96,117.16 L464.05,116.58 L464.14,115.99 L464.23,115.41 L464.32,114.82 L464.40,114.24 L464.48,113.65 L464.55,113.07 L464.62,112.48 Z" fill="#A084C8" stroke="#4a4a4a" stroke-width="0.25" stroke-opacity="0.6" stroke-linejoin="round"/>
<defs><linearGradient id="sg7" gradientUnits="userSpaceOnUse" x1="471.15" y1="115.75" x2="471.15" y2="68.23"><stop offset="0" stop-color="#399f7f"/><stop offset="0.45" stop-color="#659c8b"/><stop offset="1" stop-color="#8cb5a8"/></linearGradient></defs>
<rect x="470.72" y="68.23" width="0.85" height="47.52" fill="url(#sg7)"/>
<path d="M471.35,114.25 L471.39,114.79 L471.42,115.33 L471.46,115.87 L471.50,116.41 L471.55,116.95 L471.60,117.49 L471.65,118.03 L471.71,118.57 L471.77,119.11 L471.83,119.65 L471.89,120.19 L471.96,120.73 L472.03,121.27 L472.11,121.81 L472.20,122.35 L472.31,122.89 L472.42,123.43 L472.54,123.97 L472.66,124.51 L472.78,125.05 L472.91,125.59 L473.03,126.13 L473.14,126.67 L473.25,127.21 L473.34,127.75 L473.41,128.29 L473.47,128.83 L473.53,129.37 L473.59,129.91 L473.64,130.45 L473.70,130.99 L473.75,131.53 L473.80,132.07 L473.84,132.61 L473.87,133.15 L473.90,133.69 L473.93,134.23 L473.94,134.77 L473.95,135.31 L468.35,135.31 L468.36,134.77 L468.37,134.23 L468.40,133.69 L468.43,133.15 L468.46,132.61 L468.50,132.07 L468.55,131.53 L468.60,130.99 L468.66,130.45 L468.71,129.91 L468.77,129.37 L468.83,128.83 L468.89,128.29 L468.96,127.75 L469.05,127.21 L469.16,126.67 L469.27,126.13 L469.39,125.59 L469.52,125.05 L469.64,124.51 L469.76,123.97 L469.88,123.43 L469.99,122.89 L470.10,122.35 L470.19,121.81 L470.27,121.27 L470.34,120.73 L470.41,120.19 L470.47,119.65 L470.53,119.11 L470.59,118.57 L470.65,118.03 L470.70,117.49 L470.75,116.95 L470.80,116.41 L470.84,115.87 L470.88,115.33 L470.91,114.79 L470.95,114.25 Z" fill="#26A07A" stroke="#4a4a4a" stroke-width="0.25" stroke-opacity="0.6" stroke-linejoin="round"/>
<path d="M477.48,34.60 L477.53,37.18 L477.61,39.76 L477.72,42.35 L477.85,44.93 L478.01,47.51 L478.18,50.09 L478.37,52.68 L478.61,55.26 L478.88,57.84 L479.13,60.42 L479.35,63.01 L479.57,65.59 L479.79,68.17 L480.01,70.75 L480.21,73.34 L480.38,75.92 L480.50,78.50 L480.57,81.08 L480.58,83.67 L480.56,86.25 L480.53,88.83 L480.49,91.41 L480.44,93.99 L480.39,96.58 L480.33,99.16 L480.27,101.74 L480.21,104.32 L480.15,106.91 L480.09,109.49 L480.03,112.07 L479.97,114.65 L479.89,117.24 L479.81,119.82 L479.71,122.40 L479.58,124.98 L479.40,127.57 L479.17,130.15 L478.86,132.73 L478.34,135.31 L476.62,135.31 L476.10,132.73 L475.79,130.15 L475.56,127.57 L475.38,124.98 L475.25,122.40 L475.15,119.82 L475.07,117.24 L474.99,114.65 L474.93,112.07 L474.87,109.49 L474.81,106.91 L474.75,104.32 L474.69,101.74 L474.63,99.16 L474.57,96.58 L474.52,93.99 L474.47,91.41 L474.43,88.83 L474.40,86.25 L474.38,83.67 L474.39,81.08 L474.46,78.50 L474.58,75.92 L474.75,73.34 L474.95,70.75 L475.17,68.17 L475.39,65.59 L475.61,63.01 L475.83,60.42 L476.08,57.84 L476.35,55.26 L476.59,52.68 L476.78,50.09 L476.95,47.51 L477.11,44.93 L477.24,42.35 L477.35,39.76 L477.43,37.18 L477.48,34.60 Z" fill="#E86890" stroke="#4a4a4a" stroke-width="0.25" stroke-opacity="0.6" stroke-linejoin="round"/>
<path d="M483.81,116.02 L483.81,116.51 L483.82,117.01 L483.84,117.50 L483.86,118.00 L483.89,118.49 L483.92,118.99 L483.96,119.48 L484.01,119.98 L484.06,120.47 L484.12,120.97 L484.18,121.46 L484.25,121.96 L484.33,122.45 L484.41,122.95 L484.50,123.44 L484.62,123.94 L484.77,124.43 L484.95,124.92 L485.15,125.42 L485.35,125.91 L485.56,126.41 L485.75,126.90 L485.92,127.40 L486.05,127.89 L486.14,128.39 L486.20,128.88 L486.25,129.38 L486.30,129.87 L486.34,130.37 L486.38,130.86 L486.40,131.36 L486.41,131.85 L486.40,132.34 L486.36,132.84 L486.30,133.33 L486.22,133.83 L486.12,134.32 L486.01,134.82 L485.89,135.31 L481.73,135.31 L481.61,134.82 L481.50,134.32 L481.40,133.83 L481.32,133.33 L481.26,132.84 L481.22,132.34 L481.21,131.85 L481.22,131.36 L481.24,130.86 L481.28,130.37 L481.32,129.87 L481.37,129.38 L481.42,128.88 L481.48,128.39 L481.57,127.89 L481.70,127.40 L481.87,126.90 L482.06,126.41 L482.27,125.91 L482.47,125.42 L482.67,124.92 L482.85,124.43 L483.00,123.94 L483.12,123.44 L483.21,122.95 L483.29,122.45 L483.37,121.96 L483.44,121.46 L483.50,120.97 L483.56,120.47 L483.61,119.98 L483.66,119.48 L483.70,118.99 L483.73,118.49 L483.76,118.00 L483.78,117.50 L483.80,117.01 L483.81,116.51 L483.81,116.02 Z" fill="#F09040" stroke="#4a4a4a" stroke-width="0.25" stroke-opacity="0.6" stroke-linejoin="round"/>
<path d="M490.14,116.91 L490.15,117.38 L490.16,117.85 L490.19,118.32 L490.21,118.79 L490.25,119.26 L490.29,119.74 L490.34,120.21 L490.39,120.68 L490.45,121.15 L490.52,121.62 L490.59,122.10 L490.67,122.57 L490.75,123.04 L490.85,123.51 L490.97,123.98 L491.12,124.46 L491.30,124.93 L491.48,125.40 L491.68,125.87 L491.87,126.34 L492.05,126.82 L492.22,127.29 L492.35,127.76 L492.45,128.23 L492.51,128.70 L492.56,129.18 L492.61,129.65 L492.65,130.12 L492.69,130.59 L492.72,131.06 L492.74,131.54 L492.74,132.01 L492.72,132.48 L492.68,132.95 L492.62,133.42 L492.54,133.90 L492.44,134.37 L492.33,134.84 L492.22,135.31 L488.06,135.31 L487.95,134.84 L487.84,134.37 L487.74,133.90 L487.66,133.42 L487.60,132.95 L487.56,132.48 L487.54,132.01 L487.54,131.54 L487.56,131.06 L487.59,130.59 L487.63,130.12 L487.67,129.65 L487.72,129.18 L487.77,128.70 L487.83,128.23 L487.93,127.76 L488.06,127.29 L488.23,126.82 L488.41,126.34 L488.60,125.87 L488.80,125.40 L488.98,124.93 L489.16,124.46 L489.31,123.98 L489.43,123.51 L489.53,123.04 L489.61,122.57 L489.69,122.10 L489.76,121.62 L489.83,121.15 L489.89,120.68 L489.94,120.21 L489.99,119.74 L490.03,119.26 L490.07,118.79 L490.09,118.32 L490.12,117.85 L490.13,117.38 L490.14,116.91 Z" fill="#F0A830" stroke="#4a4a4a" stroke-width="0.25" stroke-opacity="0.6" stroke-linejoin="round"/>
<path d="M496.47,116.02 L496.48,116.51 L496.51,117.01 L496.54,117.50 L496.57,118.00 L496.61,118.49 L496.65,118.99 L496.70,119.48 L496.75,119.98 L496.81,120.47 L496.87,120.97 L496.93,121.46 L497.00,121.96 L497.07,122.45 L497.14,122.95 L497.22,123.44 L497.31,123.94 L497.41,124.43 L497.52,124.92 L497.64,125.42 L497.77,125.91 L497.89,126.41 L498.02,126.90 L498.15,127.40 L498.28,127.89 L498.40,128.39 L498.51,128.88 L498.61,129.38 L498.70,129.87 L498.77,130.37 L498.84,130.86 L498.90,131.36 L498.97,131.85 L499.03,132.34 L499.08,132.84 L499.13,133.33 L499.18,133.83 L499.22,134.32 L499.25,134.82 L499.27,135.31 L493.67,135.31 L493.69,134.82 L493.72,134.32 L493.76,133.83 L493.81,133.33 L493.86,132.84 L493.91,132.34 L493.97,131.85 L494.04,131.36 L494.10,130.86 L494.17,130.37 L494.24,129.87 L494.33,129.38 L494.43,128.88 L494.54,128.39 L494.66,127.89 L494.79,127.40 L494.92,126.90 L495.05,126.41 L495.17,125.91 L495.30,125.42 L495.42,124.92 L495.53,124.43 L495.63,123.94 L495.72,123.44 L495.80,122.95 L495.87,122.45 L495.94,121.96 L496.01,121.46 L496.07,120.97 L496.13,120.47 L496.19,119.98 L496.24,119.48 L496.29,118.99 L496.33,118.49 L496.37,118.00 L496.40,117.50 L496.43,117.01 L496.46,116.51 L496.47,116.02 Z" fill="#2BA5C0" stroke="#4a4a4a" stroke-width="0.25" stroke-opacity="0.6" stroke-linejoin="round"/>
<defs><linearGradient id="sg8" gradientUnits="userSpaceOnUse" x1="502.80" y1="106.90" x2="502.80" y2="96.55"><stop offset="0" stop-color="#d477a9"/><stop offset="0.45" stop-color="#b987a2"/><stop offset="1" stop-color="#caa5b9"/></linearGradient></defs>
<rect x="502.37" y="96.55" width="0.85" height="10.35" fill="url(#sg8)"/>
<path d="M503.14,105.40 L503.31,106.17 L503.48,106.93 L503.66,107.70 L503.84,108.47 L504.03,109.23 L504.21,110.00 L504.39,110.77 L504.56,111.54 L504.74,112.30 L504.91,113.07 L505.10,113.84 L505.30,114.60 L505.48,115.37 L505.64,116.14 L505.75,116.90 L505.80,117.67 L505.76,118.44 L505.62,119.21 L505.42,119.97 L505.19,120.74 L504.96,121.51 L504.76,122.27 L504.61,123.04 L504.54,123.81 L504.56,124.57 L504.65,125.34 L504.79,126.11 L504.98,126.88 L505.18,127.64 L505.38,128.41 L505.57,129.18 L505.71,129.94 L505.79,130.71 L505.79,131.48 L505.76,132.25 L505.68,133.01 L505.58,133.78 L505.44,134.55 L505.27,135.31 L500.33,135.31 L500.16,134.55 L500.02,133.78 L499.92,133.01 L499.84,132.25 L499.81,131.48 L499.81,130.71 L499.89,129.94 L500.03,129.18 L500.22,128.41 L500.42,127.64 L500.62,126.88 L500.81,126.11 L500.95,125.34 L501.04,124.57 L501.06,123.81 L500.99,123.04 L500.84,122.27 L500.64,121.51 L500.41,120.74 L500.18,119.97 L499.98,119.21 L499.84,118.44 L499.80,117.67 L499.85,116.90 L499.96,116.14 L500.12,115.37 L500.30,114.60 L500.50,113.84 L500.69,113.07 L500.86,112.30 L501.04,111.54 L501.21,110.77 L501.39,110.00 L501.57,109.23 L501.76,108.47 L501.94,107.70 L502.12,106.93 L502.29,106.17 L502.46,105.40 Z" fill="#E070AC" stroke="#4a4a4a" stroke-width="0.25" stroke-opacity="0.6" stroke-linejoin="round"/>
<path d="M509.13,105.93 L509.32,106.68 L509.61,107.44 L509.93,108.19 L510.28,108.94 L510.70,109.70 L511.20,110.45 L511.66,111.20 L511.99,111.96 L512.06,112.71 L512.02,113.46 L511.94,114.22 L511.82,114.97 L511.70,115.72 L511.56,116.48 L511.43,117.23 L511.32,117.99 L511.24,118.74 L511.19,119.49 L511.18,120.25 L511.23,121.00 L511.32,121.75 L511.44,122.51 L511.59,123.26 L511.74,124.01 L511.90,124.77 L512.05,125.52 L512.18,126.27 L512.28,127.03 L512.33,127.78 L512.32,128.53 L512.29,129.29 L512.24,130.04 L512.18,130.79 L512.10,131.55 L512.03,132.30 L511.93,133.05 L511.82,133.81 L511.69,134.56 L511.55,135.31 L506.71,135.31 L506.57,134.56 L506.44,133.81 L506.33,133.05 L506.23,132.30 L506.16,131.55 L506.08,130.79 L506.02,130.04 L505.97,129.29 L505.94,128.53 L505.93,127.78 L505.98,127.03 L506.08,126.27 L506.21,125.52 L506.36,124.77 L506.52,124.01 L506.67,123.26 L506.82,122.51 L506.94,121.75 L507.03,121.00 L507.08,120.25 L507.07,119.49 L507.02,118.74 L506.94,117.99 L506.83,117.23 L506.70,116.48 L506.56,115.72 L506.44,114.97 L506.32,114.22 L506.24,113.46 L506.20,112.71 L506.27,111.96 L506.60,111.20 L507.06,110.45 L507.56,109.70 L507.98,108.94 L508.33,108.19 L508.65,107.44 L508.94,106.68 L509.13,105.93 Z" fill="#E86CA4" stroke="#4a4a4a" stroke-width="0.25" stroke-opacity="0.6" stroke-linejoin="round"/>
<line x1="376.20" y1="140.90" x2="376.20" y2="143.10" stroke="#222" stroke-width="0.8" />
<text x="377.80" y="150.60" font-size="4.5" fill="#3a3a3a" stroke="#3a3a3a" stroke-width="0.1" text-anchor="end" transform="rotate(-45 377.80 150.60)" >NK</text>
<line x1="382.53" y1="140.90" x2="382.53" y2="143.10" stroke="#222" stroke-width="0.8" />
<text x="384.13" y="150.60" font-size="4.5" fill="#3a3a3a" stroke="#3a3a3a" stroke-width="0.1" text-anchor="end" transform="rotate(-45 384.13 150.60)" >EBV-infected NK</text>
<line x1="388.86" y1="140.90" x2="388.86" y2="143.10" stroke="#222" stroke-width="0.8" />
<text x="390.46" y="150.60" font-size="4.5" fill="#3a3a3a" stroke="#3a3a3a" stroke-width="0.1" text-anchor="end" transform="rotate(-45 390.46 150.60)" >CD56bright NK</text>
<line x1="395.19" y1="140.90" x2="395.19" y2="143.10" stroke="#222" stroke-width="0.8" />
<text x="396.79" y="150.60" font-size="4.5" fill="#3a3a3a" stroke="#3a3a3a" stroke-width="0.1" text-anchor="end" transform="rotate(-45 396.79 150.60)" >CD4 naive</text>
<line x1="401.52" y1="140.90" x2="401.52" y2="143.10" stroke="#222" stroke-width="0.8" />
<text x="403.12" y="150.60" font-size="4.5" fill="#3a3a3a" stroke="#3a3a3a" stroke-width="0.1" text-anchor="end" transform="rotate(-45 403.12 150.60)" >CD4 memory</text>
<line x1="407.85" y1="140.90" x2="407.85" y2="143.10" stroke="#222" stroke-width="0.8" />
<text x="409.45" y="150.60" font-size="4.5" fill="#3a3a3a" stroke="#3a3a3a" stroke-width="0.1" text-anchor="end" transform="rotate(-45 409.45 150.60)" >CD4 effector</text>
<line x1="414.18" y1="140.90" x2="414.18" y2="143.10" stroke="#222" stroke-width="0.8" />
<text x="415.78" y="150.60" font-size="4.5" fill="#3a3a3a" stroke="#3a3a3a" stroke-width="0.1" text-anchor="end" transform="rotate(-45 415.78 150.60)" >CD8 naive</text>
<line x1="420.51" y1="140.90" x2="420.51" y2="143.10" stroke="#222" stroke-width="0.8" />
<text x="422.11" y="150.60" font-size="4.5" fill="#3a3a3a" stroke="#3a3a3a" stroke-width="0.1" text-anchor="end" transform="rotate(-45 422.11 150.60)" >CD8 effector</text>
<line x1="426.84" y1="140.90" x2="426.84" y2="143.10" stroke="#222" stroke-width="0.8" />
<text x="428.44" y="150.60" font-size="4.5" fill="#3a3a3a" stroke="#3a3a3a" stroke-width="0.1" text-anchor="end" transform="rotate(-45 428.44 150.60)" >CD8+NK proliferating</text>
<line x1="433.17" y1="140.90" x2="433.17" y2="143.10" stroke="#222" stroke-width="0.8" />
<text x="434.77" y="150.60" font-size="4.5" fill="#3a3a3a" stroke="#3a3a3a" stroke-width="0.1" text-anchor="end" transform="rotate(-45 434.77 150.60)" >Treg</text>
<line x1="439.50" y1="140.90" x2="439.50" y2="143.10" stroke="#222" stroke-width="0.8" />
<text x="441.10" y="150.60" font-size="4.5" fill="#3a3a3a" stroke="#3a3a3a" stroke-width="0.1" text-anchor="end" transform="rotate(-45 441.10 150.60)" >dnT</text>
<line x1="445.83" y1="140.90" x2="445.83" y2="143.10" stroke="#222" stroke-width="0.8" />
<text x="447.43" y="150.60" font-size="4.5" fill="#3a3a3a" stroke="#3a3a3a" stroke-width="0.1" text-anchor="end" transform="rotate(-45 447.43 150.60)" >MAIT</text>
<line x1="452.16" y1="140.90" x2="452.16" y2="143.10" stroke="#222" stroke-width="0.8" />
<text x="453.76" y="150.60" font-size="4.5" fill="#3a3a3a" stroke="#3a3a3a" stroke-width="0.1" text-anchor="end" transform="rotate(-45 453.76 150.60)" >γδT</text>
<line x1="458.49" y1="140.90" x2="458.49" y2="143.10" stroke="#222" stroke-width="0.8" />
<text x="460.09" y="150.60" font-size="4.5" fill="#3a3a3a" stroke="#3a3a3a" stroke-width="0.1" text-anchor="end" transform="rotate(-45 460.09 150.60)" >B naive</text>
<line x1="464.82" y1="140.90" x2="464.82" y2="143.10" stroke="#222" stroke-width="0.8" />
<text x="466.42" y="150.60" font-size="4.5" fill="#3a3a3a" stroke="#3a3a3a" stroke-width="0.1" text-anchor="end" transform="rotate(-45 466.42 150.60)" >B memory</text>
<line x1="471.15" y1="140.90" x2="471.15" y2="143.10" stroke="#222" stroke-width="0.8" />
<text x="472.75" y="150.60" font-size="4.5" fill="#3a3a3a" stroke="#3a3a3a" stroke-width="0.1" text-anchor="end" transform="rotate(-45 472.75 150.60)" >B intermediate</text>
<line x1="477.48" y1="140.90" x2="477.48" y2="143.10" stroke="#222" stroke-width="0.8" />
<text x="479.08" y="150.60" font-size="4.5" fill="#3a3a3a" stroke="#3a3a3a" stroke-width="0.1" text-anchor="end" transform="rotate(-45 479.08 150.60)" >Plasmablast</text>
<line x1="483.81" y1="140.90" x2="483.81" y2="143.10" stroke="#222" stroke-width="0.8" />
<text x="485.41" y="150.60" font-size="4.5" fill="#3a3a3a" stroke="#3a3a3a" stroke-width="0.1" text-anchor="end" transform="rotate(-45 485.41 150.60)" >CD14 Mono</text>
<line x1="490.14" y1="140.90" x2="490.14" y2="143.10" stroke="#222" stroke-width="0.8" />
<text x="491.74" y="150.60" font-size="4.5" fill="#3a3a3a" stroke="#3a3a3a" stroke-width="0.1" text-anchor="end" transform="rotate(-45 491.74 150.60)" >CD16 Mono</text>
<line x1="496.47" y1="140.90" x2="496.47" y2="143.10" stroke="#222" stroke-width="0.8" />
<text x="498.07" y="150.60" font-size="4.5" fill="#3a3a3a" stroke="#3a3a3a" stroke-width="0.1" text-anchor="end" transform="rotate(-45 498.07 150.60)" >cDC</text>
<line x1="502.80" y1="140.90" x2="502.80" y2="143.10" stroke="#222" stroke-width="0.8" />
<text x="504.40" y="150.60" font-size="4.5" fill="#3a3a3a" stroke="#3a3a3a" stroke-width="0.1" text-anchor="end" transform="rotate(-45 504.40 150.60)" >pDC</text>
<line x1="509.13" y1="140.90" x2="509.13" y2="143.10" stroke="#222" stroke-width="0.8" />
<text x="510.73" y="150.60" font-size="4.5" fill="#3a3a3a" stroke="#3a3a3a" stroke-width="0.1" text-anchor="end" transform="rotate(-45 510.73 150.60)" >HSPC</text>
<text x="7.40" y="204.40" font-size="11.2" fill="#111" font-weight="bold" textLength="8.00" lengthAdjust="spacingAndGlyphs" >D</text>
<text x="83.95" y="206.80" font-size="8.2" fill="#2a2a2a" stroke="#2a2a2a" stroke-width="0.12" text-anchor="middle" textLength="21.60" lengthAdjust="spacingAndGlyphs" >CD56</text>
<path d="M64.60,220.74 L64.85,221.48 L65.23,222.23 L65.70,222.97 L66.23,223.71 L66.85,224.45 L67.54,225.20 L68.26,225.94 L68.98,226.68 L69.65,227.42 L70.28,228.17 L70.95,228.91 L71.64,229.65 L72.25,230.39 L72.73,231.14 L72.98,231.88 L72.97,232.62 L72.79,233.36 L72.48,234.11 L72.10,234.85 L71.69,235.59 L71.28,236.33 L70.86,237.08 L70.37,237.82 L69.83,238.56 L69.28,239.31 L68.76,240.05 L68.30,240.79 L67.90,241.53 L67.53,242.27 L67.19,243.02 L66.86,243.76 L66.56,244.50 L66.26,245.24 L66.00,245.99 L65.78,246.73 L65.55,247.47 L65.28,248.21 L64.92,248.96 L64.60,249.70 L64.60,249.70 L64.28,248.96 L63.92,248.21 L63.65,247.47 L63.42,246.73 L63.20,245.99 L62.94,245.24 L62.64,244.50 L62.34,243.76 L62.01,243.02 L61.67,242.27 L61.30,241.53 L60.90,240.79 L60.44,240.05 L59.92,239.31 L59.37,238.56 L58.83,237.82 L58.34,237.08 L57.92,236.33 L57.51,235.59 L57.10,234.85 L56.72,234.11 L56.41,233.36 L56.23,232.62 L56.22,231.88 L56.47,231.14 L56.95,230.39 L57.56,229.65 L58.25,228.91 L58.92,228.17 L59.55,227.42 L60.22,226.68 L60.94,225.94 L61.66,225.20 L62.35,224.45 L62.97,223.71 L63.50,222.97 L63.97,222.23 L64.35,221.48 L64.60,220.74 Z" fill="#33A86C" stroke="#4a4a4a" stroke-width="0.35" stroke-opacity="0.6" stroke-linejoin="round"/>
<defs><linearGradient id="sg9" gradientUnits="userSpaceOnUse" x1="83.50" y1="224.88" x2="83.50" y2="221.62"><stop offset="0" stop-color="#d7923e"/><stop offset="0.45" stop-color="#8c8c8c"/><stop offset="1" stop-color="#a9a9a9"/></linearGradient></defs>
<rect x="83.00" y="221.62" width="1.0" height="3.25" fill="url(#sg9)"/>
<path d="M83.68,223.38 L83.73,224.05 L83.77,224.72 L83.81,225.39 L83.86,226.06 L83.91,226.73 L83.96,227.40 L84.00,228.07 L84.05,228.74 L84.10,229.41 L84.15,230.08 L84.21,230.75 L84.26,231.42 L84.31,232.09 L84.36,232.76 L84.41,233.43 L84.45,234.10 L84.49,234.77 L84.53,235.44 L84.58,236.11 L84.63,236.78 L84.68,237.46 L84.74,238.13 L84.82,238.80 L84.90,239.47 L85.01,240.14 L85.13,240.81 L85.28,241.48 L85.47,242.15 L85.72,242.82 L86.02,243.49 L86.67,244.16 L87.92,244.83 L89.39,245.50 L90.62,246.17 L91.59,246.84 L92.10,247.51 L91.37,248.18 L89.36,248.85 L83.50,249.52 L83.50,249.52 L77.64,248.85 L75.63,248.18 L74.90,247.51 L75.41,246.84 L76.38,246.17 L77.61,245.50 L79.08,244.83 L80.33,244.16 L80.98,243.49 L81.28,242.82 L81.53,242.15 L81.72,241.48 L81.87,240.81 L81.99,240.14 L82.10,239.47 L82.18,238.80 L82.26,238.13 L82.32,237.46 L82.37,236.78 L82.42,236.11 L82.47,235.44 L82.51,234.77 L82.55,234.10 L82.59,233.43 L82.64,232.76 L82.69,232.09 L82.74,231.42 L82.79,230.75 L82.85,230.08 L82.90,229.41 L82.95,228.74 L83.00,228.07 L83.04,227.40 L83.09,226.73 L83.14,226.06 L83.19,225.39 L83.23,224.72 L83.27,224.05 L83.32,223.38 Z" fill="#F7941D" stroke="#4a4a4a" stroke-width="0.35" stroke-opacity="0.6" stroke-linejoin="round"/>
<path d="M102.70,210.21 L102.99,211.22 L103.44,212.24 L103.97,213.25 L104.57,214.26 L105.22,215.27 L105.96,216.29 L106.74,217.30 L107.52,218.31 L108.25,219.32 L108.90,220.34 L109.58,221.35 L110.26,222.36 L110.83,223.38 L111.21,224.39 L111.29,225.40 L111.03,226.41 L110.52,227.42 L109.87,228.44 L109.19,229.45 L108.56,230.46 L107.91,231.47 L107.19,232.49 L106.47,233.50 L105.80,234.51 L105.22,235.52 L104.78,236.54 L104.43,237.55 L104.13,238.56 L103.86,239.57 L103.64,240.59 L103.46,241.60 L103.31,242.61 L103.19,243.62 L103.09,244.64 L102.99,245.65 L102.92,246.66 L102.86,247.67 L102.82,248.69 L102.79,249.70 L102.61,249.70 L102.58,248.69 L102.54,247.67 L102.48,246.66 L102.41,245.65 L102.31,244.64 L102.21,243.62 L102.09,242.61 L101.94,241.60 L101.76,240.59 L101.54,239.57 L101.27,238.56 L100.97,237.55 L100.62,236.54 L100.18,235.52 L99.60,234.51 L98.93,233.50 L98.21,232.49 L97.49,231.47 L96.84,230.46 L96.21,229.45 L95.53,228.44 L94.88,227.42 L94.37,226.41 L94.11,225.40 L94.19,224.39 L94.57,223.38 L95.14,222.36 L95.82,221.35 L96.50,220.34 L97.15,219.32 L97.88,218.31 L98.66,217.30 L99.44,216.29 L100.18,215.27 L100.83,214.26 L101.43,213.25 L101.96,212.24 L102.41,211.22 L102.70,210.21 Z" fill="#CE88C8" stroke="#4a4a4a" stroke-width="0.35" stroke-opacity="0.6" stroke-linejoin="round"/>
<line x1="53.20" y1="209.20" x2="53.20" y2="252.40" stroke="#333" stroke-width="1.4" />
<line x1="52.50" y1="251.70" x2="113.70" y2="251.70" stroke="#333" stroke-width="1.4" />
<line x1="50.20" y1="249.70" x2="53.20" y2="249.70" stroke="#333" stroke-width="0.9" />
<text x="46.90" y="251.90" font-size="6.3" fill="#333" stroke="#333" stroke-width="0.18" text-anchor="end" >0</text>
<line x1="50.20" y1="240.92" x2="53.20" y2="240.92" stroke="#333" stroke-width="0.9" />
<text x="46.90" y="243.12" font-size="6.3" fill="#333" stroke="#333" stroke-width="0.18" text-anchor="end" >1</text>
<line x1="50.20" y1="232.15" x2="53.20" y2="232.15" stroke="#333" stroke-width="0.9" />
<text x="46.90" y="234.35" font-size="6.3" fill="#333" stroke="#333" stroke-width="0.18" text-anchor="end" >2</text>
<line x1="50.20" y1="223.38" x2="53.20" y2="223.38" stroke="#333" stroke-width="0.9" />
<text x="46.90" y="225.57" font-size="6.3" fill="#333" stroke="#333" stroke-width="0.18" text-anchor="end" >3</text>
<line x1="50.20" y1="214.60" x2="53.20" y2="214.60" stroke="#333" stroke-width="0.9" />
<text x="46.90" y="216.80" font-size="6.3" fill="#333" stroke="#333" stroke-width="0.18" text-anchor="end" >4</text>
<line x1="64.60" y1="251.70" x2="64.60" y2="254.50" stroke="#333" stroke-width="0.9" />
<line x1="83.50" y1="251.70" x2="83.50" y2="254.50" stroke="#333" stroke-width="0.9" />
<line x1="102.70" y1="251.70" x2="102.70" y2="254.50" stroke="#333" stroke-width="0.9" />
<text x="178.15" y="206.80" font-size="8.2" fill="#2a2a2a" stroke="#2a2a2a" stroke-width="0.12" text-anchor="middle" >CD16</text>
<line x1="158.80" y1="236.17" x2="158.80" y2="249.80" stroke="#8c8c8c" stroke-width="1.0"/>
<path d="M158.80,211.58 L159.14,212.24 L159.64,212.90 L160.19,213.55 L160.72,214.21 L161.18,214.86 L161.64,215.52 L162.07,216.18 L162.50,216.83 L162.90,217.49 L163.29,218.14 L163.66,218.80 L164.02,219.46 L164.37,220.11 L164.71,220.77 L165.06,221.42 L165.43,222.08 L165.80,222.74 L166.17,223.39 L166.52,224.05 L166.83,224.70 L167.09,225.36 L167.28,226.02 L167.39,226.67 L167.38,227.33 L167.16,227.98 L166.74,228.64 L166.19,229.30 L165.56,229.95 L164.91,230.61 L164.29,231.26 L163.69,231.92 L163.03,232.57 L162.34,233.23 L161.66,233.89 L161.03,234.54 L160.48,235.20 L160.02,235.85 L159.61,236.51 L159.27,237.17 L158.33,237.17 L157.99,236.51 L157.58,235.85 L157.12,235.20 L156.57,234.54 L155.94,233.89 L155.26,233.23 L154.57,232.57 L153.91,231.92 L153.31,231.26 L152.69,230.61 L152.04,229.95 L151.41,229.30 L150.86,228.64 L150.44,227.98 L150.22,227.33 L150.21,226.67 L150.32,226.02 L150.51,225.36 L150.77,224.70 L151.08,224.05 L151.43,223.39 L151.80,222.74 L152.17,222.08 L152.54,221.42 L152.89,220.77 L153.23,220.11 L153.58,219.46 L153.94,218.80 L154.31,218.14 L154.70,217.49 L155.10,216.83 L155.53,216.18 L155.96,215.52 L156.42,214.86 L156.88,214.21 L157.41,213.55 L157.96,212.90 L158.46,212.24 L158.80,211.58 Z" fill="#33A86C" stroke="#4a4a4a" stroke-width="0.35" stroke-opacity="0.6" stroke-linejoin="round"/>
<defs><linearGradient id="sg10" gradientUnits="userSpaceOnUse" x1="177.90" y1="226.67" x2="177.90" y2="220.11"><stop offset="0" stop-color="#d7923e"/><stop offset="0.45" stop-color="#8c8c8c"/><stop offset="1" stop-color="#a9a9a9"/></linearGradient></defs>
<rect x="177.40" y="220.11" width="1.0" height="6.55" fill="url(#sg10)"/>
<path d="M178.37,225.17 L178.73,225.78 L179.11,226.40 L179.50,227.01 L179.88,227.63 L180.26,228.24 L180.60,228.86 L180.92,229.47 L181.22,230.09 L181.53,230.70 L181.83,231.32 L182.12,231.94 L182.35,232.55 L182.53,233.17 L182.62,233.78 L182.61,234.40 L182.53,235.01 L182.40,235.63 L182.23,236.24 L182.05,236.86 L181.88,237.47 L181.72,238.09 L181.59,238.71 L181.52,239.32 L181.52,239.94 L181.65,240.55 L181.92,241.17 L182.28,241.78 L182.71,242.40 L183.19,243.01 L183.67,243.63 L184.12,244.24 L184.51,244.86 L184.93,245.48 L185.39,246.09 L185.82,246.71 L186.18,247.32 L186.38,247.94 L184.36,248.55 L177.90,249.17 L177.90,249.17 L171.44,248.55 L169.42,247.94 L169.62,247.32 L169.98,246.71 L170.41,246.09 L170.87,245.48 L171.29,244.86 L171.68,244.24 L172.13,243.63 L172.61,243.01 L173.09,242.40 L173.52,241.78 L173.88,241.17 L174.15,240.55 L174.28,239.94 L174.28,239.32 L174.21,238.71 L174.08,238.09 L173.92,237.47 L173.75,236.86 L173.57,236.24 L173.40,235.63 L173.27,235.01 L173.19,234.40 L173.18,233.78 L173.27,233.17 L173.45,232.55 L173.68,231.94 L173.97,231.32 L174.27,230.70 L174.58,230.09 L174.88,229.47 L175.20,228.86 L175.54,228.24 L175.92,227.63 L176.30,227.01 L176.69,226.40 L177.07,225.78 L177.43,225.17 Z" fill="#F7941D" stroke="#4a4a4a" stroke-width="0.35" stroke-opacity="0.6" stroke-linejoin="round"/>
<defs><linearGradient id="sg11" gradientUnits="userSpaceOnUse" x1="197.10" y1="224.77" x2="197.10" y2="216.32"><stop offset="0" stop-color="#ba89b6"/><stop offset="0.45" stop-color="#8c8c8c"/><stop offset="1" stop-color="#a9a9a9"/></linearGradient></defs>
<rect x="196.60" y="216.32" width="1.0" height="8.45" fill="url(#sg11)"/>
<path d="M197.57,223.27 L197.85,223.94 L198.16,224.61 L198.48,225.29 L198.81,225.96 L199.15,226.63 L199.50,227.30 L199.86,227.98 L200.21,228.65 L200.56,229.32 L200.92,229.99 L201.28,230.66 L201.65,231.34 L202.02,232.01 L202.38,232.68 L202.74,233.35 L203.08,234.02 L203.40,234.70 L203.69,235.37 L203.95,236.04 L204.20,236.71 L204.46,237.39 L204.72,238.06 L204.96,238.73 L205.18,239.40 L205.36,240.07 L205.50,240.75 L205.58,241.42 L205.60,242.09 L205.49,242.76 L205.26,243.43 L204.93,244.11 L204.51,244.78 L204.02,245.45 L203.47,246.12 L202.87,246.80 L201.90,247.47 L200.60,248.14 L199.19,248.81 L197.92,249.48 L196.28,249.48 L195.01,248.81 L193.60,248.14 L192.30,247.47 L191.33,246.80 L190.73,246.12 L190.18,245.45 L189.69,244.78 L189.27,244.11 L188.94,243.43 L188.71,242.76 L188.60,242.09 L188.62,241.42 L188.70,240.75 L188.84,240.07 L189.02,239.40 L189.24,238.73 L189.48,238.06 L189.74,237.39 L190.00,236.71 L190.25,236.04 L190.51,235.37 L190.80,234.70 L191.12,234.02 L191.46,233.35 L191.82,232.68 L192.18,232.01 L192.55,231.34 L192.92,230.66 L193.28,229.99 L193.64,229.32 L193.99,228.65 L194.34,227.98 L194.70,227.30 L195.05,226.63 L195.39,225.96 L195.72,225.29 L196.04,224.61 L196.35,223.94 L196.63,223.27 Z" fill="#CE88C8" stroke="#4a4a4a" stroke-width="0.35" stroke-opacity="0.6" stroke-linejoin="round"/>
<line x1="147.40" y1="209.20" x2="147.40" y2="252.40" stroke="#333" stroke-width="1.4" />
<line x1="146.70" y1="251.70" x2="207.90" y2="251.70" stroke="#333" stroke-width="1.4" />
<line x1="144.40" y1="249.80" x2="147.40" y2="249.80" stroke="#333" stroke-width="0.9" />
<text x="141.10" y="252.00" font-size="6.3" fill="#333" stroke="#333" stroke-width="0.18" text-anchor="end" >0</text>
<line x1="144.40" y1="237.17" x2="147.40" y2="237.17" stroke="#333" stroke-width="0.9" />
<text x="141.10" y="239.37" font-size="6.3" fill="#333" stroke="#333" stroke-width="0.18" text-anchor="end" >2</text>
<line x1="144.40" y1="224.53" x2="147.40" y2="224.53" stroke="#333" stroke-width="0.9" />
<text x="141.10" y="226.73" font-size="6.3" fill="#333" stroke="#333" stroke-width="0.18" text-anchor="end" >4</text>
<line x1="144.40" y1="211.90" x2="147.40" y2="211.90" stroke="#333" stroke-width="0.9" />
<text x="141.10" y="214.10" font-size="6.3" fill="#333" stroke="#333" stroke-width="0.18" text-anchor="end" >6</text>
<line x1="158.80" y1="251.70" x2="158.80" y2="254.50" stroke="#333" stroke-width="0.9" />
<line x1="177.90" y1="251.70" x2="177.90" y2="254.50" stroke="#333" stroke-width="0.9" />
<line x1="197.10" y1="251.70" x2="197.10" y2="254.50" stroke="#333" stroke-width="0.9" />
<text x="274.20" y="206.80" font-size="8.2" fill="#2a2a2a" stroke="#2a2a2a" stroke-width="0.12" text-anchor="middle" >CD7</text>
<line x1="254.60" y1="230.47" x2="254.60" y2="251.30" stroke="#8c8c8c" stroke-width="1.0"/>
<defs><linearGradient id="sg12" gradientUnits="userSpaceOnUse" x1="254.60" y1="216.68" x2="254.60" y2="212.34"><stop offset="0" stop-color="#4ea076"/><stop offset="0.45" stop-color="#8c8c8c"/><stop offset="1" stop-color="#a9a9a9"/></linearGradient></defs>
<rect x="254.10" y="212.34" width="1.0" height="4.33" fill="url(#sg12)"/>
<path d="M255.42,215.18 L255.92,215.59 L256.45,216.01 L257.01,216.43 L257.57,216.85 L258.13,217.26 L258.67,217.68 L259.20,218.10 L259.70,218.52 L260.19,218.93 L260.71,219.35 L261.24,219.77 L261.76,220.19 L262.23,220.61 L262.62,221.02 L262.89,221.44 L263.00,221.86 L262.93,222.28 L262.69,222.69 L262.32,223.11 L261.84,223.53 L261.30,223.95 L260.71,224.37 L260.11,224.78 L259.53,225.20 L258.99,225.62 L258.47,226.04 L257.88,226.45 L257.25,226.87 L256.65,227.29 L256.13,227.71 L255.72,228.12 L255.46,228.54 L255.30,228.96 L255.17,229.38 L255.05,229.80 L254.96,230.21 L254.89,230.63 L254.85,231.05 L254.84,231.47 L254.36,231.47 L254.35,231.05 L254.31,230.63 L254.24,230.21 L254.15,229.80 L254.03,229.38 L253.90,228.96 L253.74,228.54 L253.48,228.12 L253.07,227.71 L252.55,227.29 L251.95,226.87 L251.32,226.45 L250.73,226.04 L250.21,225.62 L249.67,225.20 L249.09,224.78 L248.49,224.37 L247.90,223.95 L247.36,223.53 L246.88,223.11 L246.51,222.69 L246.27,222.28 L246.20,221.86 L246.31,221.44 L246.58,221.02 L246.97,220.61 L247.44,220.19 L247.96,219.77 L248.49,219.35 L249.01,218.93 L249.50,218.52 L250.00,218.10 L250.53,217.68 L251.07,217.26 L251.63,216.85 L252.19,216.43 L252.75,216.01 L253.28,215.59 L253.78,215.18 Z" fill="#33A86C" stroke="#4a4a4a" stroke-width="0.35" stroke-opacity="0.6" stroke-linejoin="round"/>
<path d="M273.60,213.76 L273.65,214.72 L273.75,215.68 L273.88,216.65 L274.05,217.61 L274.24,218.57 L274.46,219.53 L274.72,220.50 L275.01,221.46 L275.35,222.42 L275.74,223.38 L276.21,224.35 L276.81,225.31 L277.59,226.27 L278.46,227.23 L279.31,228.20 L280.10,229.16 L280.96,230.12 L281.55,231.09 L281.47,232.05 L280.73,233.01 L279.65,233.97 L278.56,234.94 L277.71,235.90 L276.97,236.86 L276.26,237.82 L275.64,238.79 L275.15,239.75 L274.82,240.71 L274.60,241.67 L274.42,242.64 L274.27,243.60 L274.16,244.56 L274.09,245.52 L274.05,246.49 L274.03,247.45 L274.01,248.41 L273.98,249.37 L273.91,250.34 L273.74,251.30 L273.46,251.30 L273.29,250.34 L273.22,249.37 L273.19,248.41 L273.17,247.45 L273.15,246.49 L273.11,245.52 L273.04,244.56 L272.93,243.60 L272.78,242.64 L272.60,241.67 L272.38,240.71 L272.05,239.75 L271.56,238.79 L270.94,237.82 L270.23,236.86 L269.49,235.90 L268.64,234.94 L267.55,233.97 L266.47,233.01 L265.73,232.05 L265.65,231.09 L266.24,230.12 L267.10,229.16 L267.89,228.20 L268.74,227.23 L269.61,226.27 L270.39,225.31 L270.99,224.35 L271.46,223.38 L271.85,222.42 L272.19,221.46 L272.48,220.50 L272.74,219.53 L272.96,218.57 L273.15,217.61 L273.32,216.65 L273.45,215.68 L273.55,214.72 L273.60,213.76 Z" fill="#F7941D" stroke="#4a4a4a" stroke-width="0.35" stroke-opacity="0.6" stroke-linejoin="round"/>
<line x1="293.10" y1="233.30" x2="293.10" y2="250.59" stroke="#8c8c8c" stroke-width="1.0"/>
<path d="M293.10,210.22 L293.55,210.83 L294.22,211.45 L294.96,212.07 L295.73,212.69 L296.49,213.30 L297.29,213.92 L298.10,214.54 L298.88,215.16 L299.58,215.77 L300.14,216.39 L300.56,217.01 L300.95,217.63 L301.29,218.24 L301.52,218.86 L301.60,219.48 L301.44,220.10 L301.06,220.71 L300.54,221.33 L299.95,221.95 L299.36,222.57 L298.83,223.18 L298.25,223.80 L297.63,224.42 L296.99,225.04 L296.39,225.65 L295.84,226.27 L295.38,226.89 L295.02,227.51 L294.70,228.12 L294.41,228.74 L294.15,229.36 L293.93,229.98 L293.75,230.59 L293.62,231.21 L293.52,231.83 L293.43,232.45 L293.36,233.06 L293.31,233.68 L293.29,234.30 L292.91,234.30 L292.89,233.68 L292.84,233.06 L292.77,232.45 L292.68,231.83 L292.58,231.21 L292.45,230.59 L292.27,229.98 L292.05,229.36 L291.79,228.74 L291.50,228.12 L291.18,227.51 L290.82,226.89 L290.36,226.27 L289.81,225.65 L289.21,225.04 L288.57,224.42 L287.95,223.80 L287.37,223.18 L286.84,222.57 L286.25,221.95 L285.66,221.33 L285.14,220.71 L284.76,220.10 L284.60,219.48 L284.68,218.86 L284.91,218.24 L285.25,217.63 L285.64,217.01 L286.06,216.39 L286.62,215.77 L287.32,215.16 L288.10,214.54 L288.91,213.92 L289.71,213.30 L290.47,212.69 L291.24,212.07 L291.98,211.45 L292.65,210.83 L293.10,210.22 Z" fill="#CE88C8" stroke="#4a4a4a" stroke-width="0.35" stroke-opacity="0.6" stroke-linejoin="round"/>
<line x1="243.60" y1="209.20" x2="243.60" y2="252.40" stroke="#333" stroke-width="1.4" />
<line x1="242.90" y1="251.70" x2="303.80" y2="251.70" stroke="#333" stroke-width="1.4" />
<line x1="240.60" y1="251.30" x2="243.60" y2="251.30" stroke="#333" stroke-width="0.9" />
<text x="237.30" y="253.50" font-size="6.3" fill="#333" stroke="#333" stroke-width="0.18" text-anchor="end" >0</text>
<line x1="240.60" y1="237.13" x2="243.60" y2="237.13" stroke="#333" stroke-width="0.9" />
<text x="237.30" y="239.33" font-size="6.3" fill="#333" stroke="#333" stroke-width="0.18" text-anchor="end" >2</text>
<line x1="240.60" y1="222.97" x2="243.60" y2="222.97" stroke="#333" stroke-width="0.9" />
<text x="237.30" y="225.17" font-size="6.3" fill="#333" stroke="#333" stroke-width="0.18" text-anchor="end" >4</text>
<line x1="240.60" y1="208.80" x2="243.60" y2="208.80" stroke="#333" stroke-width="0.9" />
<text x="237.30" y="211.00" font-size="6.3" fill="#333" stroke="#333" stroke-width="0.18" text-anchor="end" >6</text>
<line x1="254.60" y1="251.70" x2="254.60" y2="254.50" stroke="#333" stroke-width="0.9" />
<line x1="273.60" y1="251.70" x2="273.60" y2="254.50" stroke="#333" stroke-width="0.9" />
<line x1="293.10" y1="251.70" x2="293.10" y2="254.50" stroke="#333" stroke-width="0.9" />
<text x="83.95" y="265.10" font-size="8.2" fill="#2a2a2a" stroke="#2a2a2a" stroke-width="0.12" text-anchor="middle" textLength="25.70" lengthAdjust="spacingAndGlyphs" >CD49a</text>
<defs><linearGradient id="sg13" gradientUnits="userSpaceOnUse" x1="64.60" y1="296.86" x2="64.60" y2="271.77"><stop offset="0" stop-color="#4ea076"/><stop offset="0.45" stop-color="#8c8c8c"/><stop offset="1" stop-color="#a9a9a9"/></linearGradient></defs>
<rect x="64.10" y="271.77" width="1.0" height="25.09" fill="url(#sg13)"/>
<path d="M64.79,295.36 L64.79,295.68 L64.81,296.00 L64.82,296.32 L64.85,296.64 L64.89,296.96 L64.93,297.28 L64.98,297.60 L65.03,297.92 L65.10,298.24 L65.17,298.56 L65.25,298.88 L65.33,299.20 L65.42,299.52 L65.52,299.84 L65.66,300.16 L65.84,300.48 L66.05,300.80 L66.29,301.12 L66.57,301.44 L66.88,301.76 L67.22,302.08 L67.59,302.40 L67.99,302.72 L68.41,303.04 L69.03,303.36 L69.83,303.68 L70.72,303.99 L71.56,304.31 L72.23,304.63 L72.58,304.95 L72.55,305.27 L72.28,305.59 L71.81,305.91 L71.20,306.23 L70.48,306.55 L69.59,306.87 L67.98,307.19 L66.04,307.51 L64.60,307.83 L64.60,307.83 L63.16,307.51 L61.22,307.19 L59.61,306.87 L58.72,306.55 L58.00,306.23 L57.39,305.91 L56.92,305.59 L56.65,305.27 L56.62,304.95 L56.97,304.63 L57.64,304.31 L58.48,303.99 L59.37,303.68 L60.17,303.36 L60.79,303.04 L61.21,302.72 L61.61,302.40 L61.98,302.08 L62.32,301.76 L62.63,301.44 L62.91,301.12 L63.15,300.80 L63.36,300.48 L63.54,300.16 L63.68,299.84 L63.78,299.52 L63.87,299.20 L63.95,298.88 L64.03,298.56 L64.10,298.24 L64.17,297.92 L64.22,297.60 L64.27,297.28 L64.31,296.96 L64.35,296.64 L64.38,296.32 L64.39,296.00 L64.41,295.68 L64.41,295.36 Z" fill="#33A86C" stroke="#4a4a4a" stroke-width="0.35" stroke-opacity="0.6" stroke-linejoin="round"/>
<path d="M83.50,270.09 L83.75,271.05 L84.10,272.01 L84.44,272.97 L84.78,273.93 L85.10,274.89 L85.42,275.86 L85.75,276.82 L86.11,277.78 L86.57,278.74 L87.10,279.70 L87.62,280.66 L88.03,281.62 L88.22,282.58 L88.23,283.55 L88.23,284.51 L88.23,285.47 L88.23,286.43 L88.25,287.39 L88.43,288.35 L88.73,289.31 L89.09,290.28 L89.45,291.24 L89.88,292.20 L90.38,293.16 L90.88,294.12 L91.26,295.08 L91.50,296.04 L91.71,297.00 L91.88,297.97 L91.98,298.93 L91.96,299.89 L91.30,300.85 L90.20,301.81 L89.01,302.77 L87.86,303.73 L86.58,304.69 L85.36,305.66 L84.27,306.62 L83.50,307.58 L83.50,307.58 L82.73,306.62 L81.64,305.66 L80.42,304.69 L79.14,303.73 L77.99,302.77 L76.80,301.81 L75.70,300.85 L75.04,299.89 L75.02,298.93 L75.12,297.97 L75.29,297.00 L75.50,296.04 L75.74,295.08 L76.12,294.12 L76.62,293.16 L77.12,292.20 L77.55,291.24 L77.91,290.28 L78.27,289.31 L78.57,288.35 L78.75,287.39 L78.77,286.43 L78.77,285.47 L78.77,284.51 L78.77,283.55 L78.78,282.58 L78.97,281.62 L79.38,280.66 L79.90,279.70 L80.43,278.74 L80.89,277.78 L81.25,276.82 L81.58,275.86 L81.90,274.89 L82.22,273.93 L82.56,272.97 L82.90,272.01 L83.25,271.05 L83.50,270.09 Z" fill="#F7941D" stroke="#4a4a4a" stroke-width="0.35" stroke-opacity="0.6" stroke-linejoin="round"/>
<defs><linearGradient id="sg14" gradientUnits="userSpaceOnUse" x1="102.70" y1="292.65" x2="102.70" y2="286.10"><stop offset="0" stop-color="#ba89b6"/><stop offset="0.45" stop-color="#8c8c8c"/><stop offset="1" stop-color="#a9a9a9"/></linearGradient></defs>
<rect x="102.20" y="286.10" width="1.0" height="6.55" fill="url(#sg14)"/>
<path d="M103.18,291.15 L103.28,291.58 L103.40,292.01 L103.53,292.43 L103.68,292.86 L103.84,293.29 L104.01,293.72 L104.20,294.14 L104.40,294.57 L104.61,295.00 L104.84,295.43 L105.09,295.86 L105.37,296.28 L105.67,296.71 L106.00,297.14 L106.34,297.57 L106.70,297.99 L107.07,298.42 L107.44,298.85 L107.80,299.28 L108.17,299.70 L108.59,300.13 L109.07,300.56 L109.56,300.99 L110.04,301.42 L110.46,301.84 L110.78,302.27 L110.97,302.70 L110.99,303.13 L110.88,303.55 L110.66,303.98 L110.35,304.41 L109.97,304.84 L109.53,305.27 L108.98,305.69 L108.01,306.12 L106.74,306.55 L105.37,306.98 L103.96,307.40 L102.70,307.83 L102.70,307.83 L101.44,307.40 L100.03,306.98 L98.66,306.55 L97.39,306.12 L96.42,305.69 L95.87,305.27 L95.43,304.84 L95.05,304.41 L94.74,303.98 L94.52,303.55 L94.41,303.13 L94.43,302.70 L94.62,302.27 L94.94,301.84 L95.36,301.42 L95.84,300.99 L96.33,300.56 L96.81,300.13 L97.23,299.70 L97.60,299.28 L97.96,298.85 L98.33,298.42 L98.70,297.99 L99.06,297.57 L99.40,297.14 L99.73,296.71 L100.03,296.28 L100.31,295.86 L100.56,295.43 L100.79,295.00 L101.00,294.57 L101.20,294.14 L101.39,293.72 L101.56,293.29 L101.72,292.86 L101.87,292.43 L102.00,292.01 L102.12,291.58 L102.22,291.15 Z" fill="#CE88C8" stroke="#4a4a4a" stroke-width="0.35" stroke-opacity="0.6" stroke-linejoin="round"/>
<line x1="53.20" y1="267.30" x2="53.20" y2="311.10" stroke="#333" stroke-width="1.4" />
<line x1="52.50" y1="310.40" x2="113.70" y2="310.40" stroke="#333" stroke-width="1.4" />
<line x1="50.20" y1="308.00" x2="53.20" y2="308.00" stroke="#333" stroke-width="0.9" />
<text x="46.90" y="310.20" font-size="6.3" fill="#333" stroke="#333" stroke-width="0.18" text-anchor="end" >0</text>
<line x1="50.20" y1="299.57" x2="53.20" y2="299.57" stroke="#333" stroke-width="0.9" />
<text x="46.90" y="301.77" font-size="6.3" fill="#333" stroke="#333" stroke-width="0.18" text-anchor="end" >1</text>
<line x1="50.20" y1="291.15" x2="53.20" y2="291.15" stroke="#333" stroke-width="0.9" />
<text x="46.90" y="293.35" font-size="6.3" fill="#333" stroke="#333" stroke-width="0.18" text-anchor="end" >2</text>
<line x1="50.20" y1="282.73" x2="53.20" y2="282.73" stroke="#333" stroke-width="0.9" />
<text x="46.90" y="284.93" font-size="6.3" fill="#333" stroke="#333" stroke-width="0.18" text-anchor="end" >3</text>
<line x1="50.20" y1="274.30" x2="53.20" y2="274.30" stroke="#333" stroke-width="0.9" />
<text x="46.90" y="276.50" font-size="6.3" fill="#333" stroke="#333" stroke-width="0.18" text-anchor="end" >4</text>
<line x1="64.60" y1="310.40" x2="64.60" y2="313.20" stroke="#333" stroke-width="0.9" />
<line x1="83.50" y1="310.40" x2="83.50" y2="313.20" stroke="#333" stroke-width="0.9" />
<line x1="102.70" y1="310.40" x2="102.70" y2="313.20" stroke="#333" stroke-width="0.9" />
<text x="178.15" y="265.10" font-size="8.2" fill="#2a2a2a" stroke="#2a2a2a" stroke-width="0.12" text-anchor="middle" >CD69</text>
<defs><linearGradient id="sg15" gradientUnits="userSpaceOnUse" x1="158.80" y1="293.48" x2="158.80" y2="272.60"><stop offset="0" stop-color="#4ea076"/><stop offset="0.45" stop-color="#8c8c8c"/><stop offset="1" stop-color="#a9a9a9"/></linearGradient></defs>
<rect x="158.30" y="272.60" width="1.0" height="20.88" fill="url(#sg15)"/>
<path d="M159.28,291.98 L159.45,292.39 L159.64,292.81 L159.85,293.22 L160.09,293.63 L160.35,294.05 L160.63,294.46 L160.93,294.87 L161.25,295.29 L161.59,295.70 L161.96,296.11 L162.41,296.53 L162.97,296.94 L163.60,297.35 L164.28,297.77 L164.97,298.18 L165.63,298.59 L166.20,299.00 L166.66,299.42 L166.93,299.83 L167.00,300.24 L166.89,300.66 L166.65,301.07 L166.31,301.48 L165.89,301.90 L165.40,302.31 L164.88,302.72 L164.35,303.14 L163.81,303.55 L163.30,303.96 L162.82,304.38 L162.31,304.79 L161.75,305.20 L161.19,305.62 L160.64,306.03 L160.12,306.44 L159.67,306.86 L159.29,307.27 L158.99,307.68 L158.80,308.10 L158.80,308.10 L158.61,307.68 L158.31,307.27 L157.93,306.86 L157.48,306.44 L156.96,306.03 L156.41,305.62 L155.85,305.20 L155.29,304.79 L154.78,304.38 L154.30,303.96 L153.79,303.55 L153.25,303.14 L152.72,302.72 L152.20,302.31 L151.71,301.90 L151.29,301.48 L150.95,301.07 L150.71,300.66 L150.60,300.24 L150.67,299.83 L150.94,299.42 L151.40,299.00 L151.97,298.59 L152.63,298.18 L153.32,297.77 L154.00,297.35 L154.63,296.94 L155.19,296.53 L155.64,296.11 L156.01,295.70 L156.35,295.29 L156.67,294.87 L156.97,294.46 L157.25,294.05 L157.51,293.63 L157.75,293.22 L157.96,292.81 L158.15,292.39 L158.32,291.98 Z" fill="#33A86C" stroke="#4a4a4a" stroke-width="0.35" stroke-opacity="0.6" stroke-linejoin="round"/>
<defs><linearGradient id="sg16" gradientUnits="userSpaceOnUse" x1="177.90" y1="289.40" x2="177.90" y2="269.54"><stop offset="0" stop-color="#d7923e"/><stop offset="0.45" stop-color="#8c8c8c"/><stop offset="1" stop-color="#a9a9a9"/></linearGradient></defs>
<rect x="177.40" y="269.54" width="1.0" height="19.86" fill="url(#sg16)"/>
<path d="M178.14,287.90 L178.19,288.41 L178.25,288.92 L178.32,289.43 L178.41,289.94 L178.50,290.45 L178.61,290.96 L178.74,291.47 L178.87,291.98 L179.02,292.49 L179.18,293.00 L179.35,293.51 L179.53,294.02 L179.72,294.53 L179.94,295.04 L180.19,295.55 L180.46,296.06 L180.75,296.57 L181.07,297.08 L181.42,297.59 L181.79,298.10 L182.19,298.61 L182.62,299.12 L183.20,299.63 L183.96,300.14 L184.80,300.65 L185.59,301.16 L186.17,301.67 L186.40,302.18 L186.19,302.69 L185.63,303.20 L184.83,303.71 L183.90,304.22 L182.94,304.73 L182.05,305.24 L181.18,305.75 L180.25,306.26 L179.32,306.77 L178.48,307.28 L177.90,307.79 L177.90,307.79 L177.32,307.28 L176.48,306.77 L175.55,306.26 L174.62,305.75 L173.75,305.24 L172.86,304.73 L171.90,304.22 L170.97,303.71 L170.17,303.20 L169.61,302.69 L169.40,302.18 L169.63,301.67 L170.21,301.16 L171.00,300.65 L171.84,300.14 L172.60,299.63 L173.18,299.12 L173.61,298.61 L174.01,298.10 L174.38,297.59 L174.73,297.08 L175.05,296.57 L175.34,296.06 L175.61,295.55 L175.86,295.04 L176.08,294.53 L176.27,294.02 L176.45,293.51 L176.62,293.00 L176.78,292.49 L176.93,291.98 L177.06,291.47 L177.19,290.96 L177.30,290.45 L177.39,289.94 L177.48,289.43 L177.55,288.92 L177.61,288.41 L177.66,287.90 Z" fill="#F7941D" stroke="#4a4a4a" stroke-width="0.35" stroke-opacity="0.6" stroke-linejoin="round"/>
<defs><linearGradient id="sg17" gradientUnits="userSpaceOnUse" x1="197.10" y1="293.48" x2="197.10" y2="277.70"><stop offset="0" stop-color="#ba89b6"/><stop offset="0.45" stop-color="#8c8c8c"/><stop offset="1" stop-color="#a9a9a9"/></linearGradient></defs>
<rect x="196.60" y="277.70" width="1.0" height="15.78" fill="url(#sg17)"/>
<path d="M197.92,291.98 L198.32,292.37 L198.73,292.76 L199.17,293.16 L199.61,293.55 L200.06,293.94 L200.50,294.33 L200.94,294.73 L201.37,295.12 L201.83,295.51 L202.33,295.90 L202.85,296.30 L203.37,296.69 L203.87,297.08 L204.34,297.47 L204.75,297.86 L205.07,298.26 L205.30,298.65 L205.40,299.04 L205.37,299.43 L205.27,299.83 L205.10,300.22 L204.87,300.61 L204.58,301.00 L204.25,301.40 L203.89,301.79 L203.51,302.18 L203.11,302.57 L202.70,302.96 L202.28,303.36 L201.69,303.75 L200.97,304.14 L200.20,304.53 L199.43,304.93 L198.73,305.32 L198.15,305.71 L197.71,306.10 L197.41,306.50 L197.21,306.89 L197.10,307.28 L197.10,307.28 L196.99,306.89 L196.79,306.50 L196.49,306.10 L196.05,305.71 L195.47,305.32 L194.77,304.93 L194.00,304.53 L193.23,304.14 L192.51,303.75 L191.92,303.36 L191.50,302.96 L191.09,302.57 L190.69,302.18 L190.31,301.79 L189.95,301.40 L189.62,301.00 L189.33,300.61 L189.10,300.22 L188.93,299.83 L188.83,299.43 L188.80,299.04 L188.90,298.65 L189.13,298.26 L189.45,297.86 L189.86,297.47 L190.33,297.08 L190.83,296.69 L191.35,296.30 L191.87,295.90 L192.37,295.51 L192.83,295.12 L193.26,294.73 L193.70,294.33 L194.14,293.94 L194.59,293.55 L195.03,293.16 L195.47,292.76 L195.88,292.37 L196.28,291.98 Z" fill="#CE88C8" stroke="#4a4a4a" stroke-width="0.35" stroke-opacity="0.6" stroke-linejoin="round"/>
<line x1="147.40" y1="267.30" x2="147.40" y2="311.10" stroke="#333" stroke-width="1.4" />
<line x1="146.70" y1="310.40" x2="207.90" y2="310.40" stroke="#333" stroke-width="1.4" />
<line x1="144.40" y1="308.30" x2="147.40" y2="308.30" stroke="#333" stroke-width="0.9" />
<text x="141.10" y="310.50" font-size="6.3" fill="#333" stroke="#333" stroke-width="0.18" text-anchor="end" >0</text>
<line x1="144.40" y1="298.10" x2="147.40" y2="298.10" stroke="#333" stroke-width="0.9" />
<text x="141.10" y="300.30" font-size="6.3" fill="#333" stroke="#333" stroke-width="0.18" text-anchor="end" >1</text>
<line x1="144.40" y1="287.90" x2="147.40" y2="287.90" stroke="#333" stroke-width="0.9" />
<text x="141.10" y="290.10" font-size="6.3" fill="#333" stroke="#333" stroke-width="0.18" text-anchor="end" >2</text>
<line x1="144.40" y1="277.70" x2="147.40" y2="277.70" stroke="#333" stroke-width="0.9" />
<text x="141.10" y="279.90" font-size="6.3" fill="#333" stroke="#333" stroke-width="0.18" text-anchor="end" >3</text>
<line x1="144.40" y1="267.50" x2="147.40" y2="267.50" stroke="#333" stroke-width="0.9" />
<text x="141.10" y="269.70" font-size="6.3" fill="#333" stroke="#333" stroke-width="0.18" text-anchor="end" >4</text>
<line x1="158.80" y1="310.40" x2="158.80" y2="313.20" stroke="#333" stroke-width="0.9" />
<line x1="177.90" y1="310.40" x2="177.90" y2="313.20" stroke="#333" stroke-width="0.9" />
<line x1="197.10" y1="310.40" x2="197.10" y2="313.20" stroke="#333" stroke-width="0.9" />
<text x="274.20" y="265.10" font-size="8.2" fill="#2a2a2a" stroke="#2a2a2a" stroke-width="0.12" text-anchor="middle" >CD103</text>
<defs><linearGradient id="sg18" gradientUnits="userSpaceOnUse" x1="254.60" y1="298.42" x2="254.60" y2="269.47"><stop offset="0" stop-color="#4ea076"/><stop offset="0.45" stop-color="#8c8c8c"/><stop offset="1" stop-color="#a9a9a9"/></linearGradient></defs>
<rect x="254.10" y="269.47" width="1.0" height="28.95" fill="url(#sg18)"/>
<path d="M254.84,296.92 L254.85,297.22 L254.85,297.51 L254.87,297.81 L254.89,298.10 L254.91,298.40 L254.94,298.69 L254.98,298.99 L255.02,299.28 L255.07,299.58 L255.12,299.88 L255.18,300.17 L255.24,300.47 L255.32,300.76 L255.39,301.06 L255.48,301.35 L255.57,301.65 L255.67,301.95 L255.77,302.24 L255.88,302.54 L256.04,302.83 L256.24,303.13 L256.50,303.42 L256.80,303.72 L257.15,304.01 L257.54,304.31 L257.96,304.61 L258.42,304.90 L258.92,305.20 L259.66,305.49 L260.64,305.79 L261.64,306.08 L262.38,306.38 L262.60,306.68 L262.51,306.97 L262.28,307.27 L261.90,307.56 L261.37,307.86 L258.63,308.15 L254.60,308.45 L254.60,308.45 L250.57,308.15 L247.83,307.86 L247.30,307.56 L246.92,307.27 L246.69,306.97 L246.60,306.68 L246.82,306.38 L247.56,306.08 L248.56,305.79 L249.54,305.49 L250.28,305.20 L250.78,304.90 L251.24,304.61 L251.66,304.31 L252.05,304.01 L252.40,303.72 L252.70,303.42 L252.96,303.13 L253.16,302.83 L253.32,302.54 L253.43,302.24 L253.53,301.95 L253.63,301.65 L253.72,301.35 L253.81,301.06 L253.88,300.76 L253.96,300.47 L254.02,300.17 L254.08,299.88 L254.13,299.58 L254.18,299.28 L254.22,298.99 L254.26,298.69 L254.29,298.40 L254.31,298.10 L254.33,297.81 L254.35,297.51 L254.35,297.22 L254.36,296.92 Z" fill="#33A86C" stroke="#4a4a4a" stroke-width="0.35" stroke-opacity="0.6" stroke-linejoin="round"/>
<defs><linearGradient id="sg19" gradientUnits="userSpaceOnUse" x1="273.60" y1="305.74" x2="273.60" y2="277.70"><stop offset="0" stop-color="#d7923e"/><stop offset="0.45" stop-color="#8c8c8c"/><stop offset="1" stop-color="#a9a9a9"/></linearGradient></defs>
<rect x="273.10" y="277.70" width="1.0" height="28.04" fill="url(#sg19)"/>
<path d="M274.08,304.24 L274.18,304.35 L274.29,304.46 L274.42,304.56 L274.56,304.67 L274.72,304.78 L274.90,304.89 L275.09,305.00 L275.30,305.10 L275.52,305.21 L275.76,305.32 L276.01,305.43 L276.28,305.54 L276.56,305.64 L276.86,305.75 L277.17,305.86 L277.49,305.97 L277.82,306.07 L278.24,306.18 L278.76,306.29 L279.36,306.40 L280.00,306.51 L280.61,306.61 L281.15,306.72 L281.56,306.83 L281.78,306.94 L281.79,307.05 L281.68,307.15 L281.48,307.26 L281.20,307.37 L280.85,307.48 L280.44,307.59 L279.97,307.69 L279.47,307.80 L278.93,307.91 L278.12,308.02 L276.97,308.13 L275.67,308.23 L274.44,308.34 L273.60,308.45 L273.60,308.45 L272.76,308.34 L271.53,308.23 L270.23,308.13 L269.08,308.02 L268.27,307.91 L267.73,307.80 L267.23,307.69 L266.76,307.59 L266.35,307.48 L266.00,307.37 L265.72,307.26 L265.52,307.15 L265.41,307.05 L265.42,306.94 L265.64,306.83 L266.05,306.72 L266.59,306.61 L267.20,306.51 L267.84,306.40 L268.44,306.29 L268.96,306.18 L269.38,306.07 L269.71,305.97 L270.03,305.86 L270.34,305.75 L270.64,305.64 L270.92,305.54 L271.19,305.43 L271.44,305.32 L271.68,305.21 L271.90,305.10 L272.11,305.00 L272.30,304.89 L272.48,304.78 L272.64,304.67 L272.78,304.56 L272.91,304.46 L273.02,304.35 L273.12,304.24 Z" fill="#F7941D" stroke="#4a4a4a" stroke-width="0.35" stroke-opacity="0.6" stroke-linejoin="round"/>
<defs><linearGradient id="sg20" gradientUnits="userSpaceOnUse" x1="293.10" y1="305.74" x2="293.10" y2="299.66"><stop offset="0" stop-color="#ba89b6"/><stop offset="0.45" stop-color="#8c8c8c"/><stop offset="1" stop-color="#a9a9a9"/></linearGradient></defs>
<rect x="292.60" y="299.66" width="1.0" height="6.08" fill="url(#sg20)"/>
<path d="M293.94,304.24 L294.02,304.35 L294.13,304.46 L294.24,304.56 L294.37,304.67 L294.52,304.78 L294.68,304.89 L294.86,305.00 L295.05,305.10 L295.25,305.21 L295.47,305.32 L295.70,305.43 L295.95,305.54 L296.21,305.64 L296.48,305.75 L296.76,305.86 L297.05,305.97 L297.36,306.07 L297.74,306.18 L298.23,306.29 L298.80,306.40 L299.39,306.51 L299.97,306.61 L300.48,306.72 L300.87,306.83 L301.08,306.94 L301.09,307.05 L300.99,307.15 L300.82,307.26 L300.57,307.37 L300.25,307.48 L299.87,307.59 L299.45,307.69 L298.98,307.80 L298.48,307.91 L297.69,308.02 L296.53,308.13 L295.21,308.23 L293.96,308.34 L293.10,308.45 L293.10,308.45 L292.24,308.34 L290.99,308.23 L289.67,308.13 L288.51,308.02 L287.72,307.91 L287.22,307.80 L286.75,307.69 L286.33,307.59 L285.95,307.48 L285.63,307.37 L285.38,307.26 L285.21,307.15 L285.11,307.05 L285.12,306.94 L285.33,306.83 L285.72,306.72 L286.23,306.61 L286.81,306.51 L287.40,306.40 L287.97,306.29 L288.46,306.18 L288.84,306.07 L289.15,305.97 L289.44,305.86 L289.72,305.75 L289.99,305.64 L290.25,305.54 L290.50,305.43 L290.73,305.32 L290.95,305.21 L291.15,305.10 L291.34,305.00 L291.52,304.89 L291.68,304.78 L291.83,304.67 L291.96,304.56 L292.07,304.46 L292.18,304.35 L292.26,304.24 Z" fill="#CE88C8" stroke="#4a4a4a" stroke-width="0.35" stroke-opacity="0.6" stroke-linejoin="round"/>
<line x1="243.60" y1="267.30" x2="243.60" y2="311.10" stroke="#333" stroke-width="1.4" />
<line x1="242.90" y1="310.40" x2="303.80" y2="310.40" stroke="#333" stroke-width="1.4" />
<line x1="240.60" y1="307.90" x2="243.60" y2="307.90" stroke="#333" stroke-width="0.9" />
<text x="237.30" y="310.10" font-size="6.3" fill="#333" stroke="#333" stroke-width="0.18" text-anchor="end" >0.0</text>
<line x1="240.60" y1="298.75" x2="243.60" y2="298.75" stroke="#333" stroke-width="0.9" />
<text x="237.30" y="300.95" font-size="6.3" fill="#333" stroke="#333" stroke-width="0.18" text-anchor="end" >0.5</text>
<line x1="240.60" y1="289.60" x2="243.60" y2="289.60" stroke="#333" stroke-width="0.9" />
<text x="237.30" y="291.80" font-size="6.3" fill="#333" stroke="#333" stroke-width="0.18" text-anchor="end" >1.0</text>
<line x1="240.60" y1="280.45" x2="243.60" y2="280.45" stroke="#333" stroke-width="0.9" />
<text x="237.30" y="282.65" font-size="6.3" fill="#333" stroke="#333" stroke-width="0.18" text-anchor="end" >1.5</text>
<line x1="240.60" y1="271.30" x2="243.60" y2="271.30" stroke="#333" stroke-width="0.9" />
<text x="237.30" y="273.50" font-size="6.3" fill="#333" stroke="#333" stroke-width="0.18" text-anchor="end" >2.0</text>
<line x1="254.60" y1="310.40" x2="254.60" y2="313.20" stroke="#333" stroke-width="0.9" />
<line x1="273.60" y1="310.40" x2="273.60" y2="313.20" stroke="#333" stroke-width="0.9" />
<line x1="293.10" y1="310.40" x2="293.10" y2="313.20" stroke="#333" stroke-width="0.9" />
<text x="83.95" y="326.00" font-size="8.2" fill="#2a2a2a" stroke="#2a2a2a" stroke-width="0.12" text-anchor="middle" textLength="26.20" lengthAdjust="spacingAndGlyphs" >CD127</text>
<defs><linearGradient id="sg21" gradientUnits="userSpaceOnUse" x1="64.60" y1="352.96" x2="64.60" y2="335.70"><stop offset="0" stop-color="#4ea076"/><stop offset="0.45" stop-color="#8c8c8c"/><stop offset="1" stop-color="#a9a9a9"/></linearGradient></defs>
<rect x="64.10" y="335.70" width="1.0" height="17.26" fill="url(#sg21)"/>
<path d="M65.08,351.46 L65.44,351.89 L65.84,352.31 L66.26,352.74 L66.70,353.16 L67.15,353.59 L67.60,354.01 L68.05,354.43 L68.49,354.86 L68.98,355.28 L69.51,355.71 L70.05,356.13 L70.61,356.56 L71.14,356.98 L71.64,357.40 L72.09,357.83 L72.46,358.25 L72.73,358.68 L72.88,359.10 L72.89,359.53 L72.79,359.95 L72.58,360.37 L72.28,360.80 L71.92,361.22 L71.50,361.65 L71.04,362.07 L70.56,362.50 L70.07,362.92 L69.58,363.34 L69.11,363.77 L68.66,364.19 L68.20,364.62 L67.71,365.04 L67.21,365.47 L66.70,365.89 L66.20,366.31 L65.71,366.74 L65.25,367.16 L64.86,367.59 L64.60,368.01 L64.60,368.01 L64.34,367.59 L63.95,367.16 L63.49,366.74 L63.00,366.31 L62.50,365.89 L61.99,365.47 L61.49,365.04 L61.00,364.62 L60.54,364.19 L60.09,363.77 L59.62,363.34 L59.13,362.92 L58.64,362.50 L58.16,362.07 L57.70,361.65 L57.28,361.22 L56.92,360.80 L56.62,360.37 L56.41,359.95 L56.31,359.53 L56.32,359.10 L56.47,358.68 L56.74,358.25 L57.11,357.83 L57.56,357.40 L58.06,356.98 L58.59,356.56 L59.15,356.13 L59.69,355.71 L60.22,355.28 L60.71,354.86 L61.15,354.43 L61.60,354.01 L62.05,353.59 L62.50,353.16 L62.94,352.74 L63.36,352.31 L63.76,351.89 L64.12,351.46 Z" fill="#33A86C" stroke="#4a4a4a" stroke-width="0.35" stroke-opacity="0.6" stroke-linejoin="round"/>
<defs><linearGradient id="sg22" gradientUnits="userSpaceOnUse" x1="83.50" y1="345.08" x2="83.50" y2="329.40"><stop offset="0" stop-color="#d7923e"/><stop offset="0.45" stop-color="#8c8c8c"/><stop offset="1" stop-color="#a9a9a9"/></linearGradient></defs>
<rect x="83.00" y="329.40" width="1.0" height="15.68" fill="url(#sg22)"/>
<path d="M84.32,343.58 L84.53,344.19 L84.77,344.80 L85.03,345.40 L85.31,346.01 L85.62,346.61 L85.94,347.22 L86.30,347.83 L86.67,348.43 L87.07,349.04 L87.48,349.65 L87.94,350.25 L88.54,350.86 L89.24,351.46 L89.98,352.07 L90.70,352.68 L91.33,353.28 L91.78,353.89 L92.00,354.49 L91.94,355.10 L91.71,355.71 L91.34,356.31 L90.88,356.92 L90.36,357.53 L89.82,358.13 L89.29,358.74 L88.81,359.34 L88.35,359.95 L87.87,360.56 L87.38,361.16 L86.88,361.77 L86.39,362.37 L85.92,362.98 L85.47,363.59 L85.05,364.19 L84.65,364.80 L84.29,365.41 L83.96,366.01 L83.68,366.62 L83.50,367.22 L83.50,367.22 L83.32,366.62 L83.04,366.01 L82.71,365.41 L82.35,364.80 L81.95,364.19 L81.53,363.59 L81.08,362.98 L80.61,362.37 L80.12,361.77 L79.62,361.16 L79.13,360.56 L78.65,359.95 L78.19,359.34 L77.71,358.74 L77.18,358.13 L76.64,357.53 L76.12,356.92 L75.66,356.31 L75.29,355.71 L75.06,355.10 L75.00,354.49 L75.22,353.89 L75.67,353.28 L76.30,352.68 L77.02,352.07 L77.76,351.46 L78.46,350.86 L79.06,350.25 L79.52,349.65 L79.93,349.04 L80.33,348.43 L80.70,347.83 L81.06,347.22 L81.38,346.61 L81.69,346.01 L81.97,345.40 L82.23,344.80 L82.47,344.19 L82.68,343.58 Z" fill="#F7941D" stroke="#4a4a4a" stroke-width="0.35" stroke-opacity="0.6" stroke-linejoin="round"/>
<defs><linearGradient id="sg23" gradientUnits="userSpaceOnUse" x1="102.70" y1="352.96" x2="102.70" y2="339.64"><stop offset="0" stop-color="#ba89b6"/><stop offset="0.45" stop-color="#8c8c8c"/><stop offset="1" stop-color="#a9a9a9"/></linearGradient></defs>
<rect x="102.20" y="339.64" width="1.0" height="13.32" fill="url(#sg23)"/>
<path d="M103.92,351.46 L104.35,351.89 L104.81,352.31 L105.29,352.74 L105.77,353.16 L106.27,353.59 L106.76,354.01 L107.25,354.43 L107.76,354.86 L108.34,355.28 L108.96,355.71 L109.58,356.13 L110.15,356.56 L110.61,356.98 L110.91,357.40 L111.00,357.83 L110.92,358.25 L110.73,358.68 L110.45,359.10 L110.09,359.53 L109.67,359.95 L109.21,360.37 L108.73,360.80 L108.24,361.22 L107.76,361.65 L107.31,362.07 L106.89,362.50 L106.46,362.92 L106.01,363.34 L105.53,363.77 L105.06,364.19 L104.61,364.62 L104.19,365.04 L103.81,365.47 L103.50,365.89 L103.24,366.31 L103.04,366.74 L102.88,367.16 L102.77,367.59 L102.70,368.01 L102.70,368.01 L102.63,367.59 L102.52,367.16 L102.36,366.74 L102.16,366.31 L101.90,365.89 L101.59,365.47 L101.21,365.04 L100.79,364.62 L100.34,364.19 L99.87,363.77 L99.39,363.34 L98.94,362.92 L98.51,362.50 L98.09,362.07 L97.64,361.65 L97.16,361.22 L96.67,360.80 L96.19,360.37 L95.73,359.95 L95.31,359.53 L94.95,359.10 L94.67,358.68 L94.48,358.25 L94.40,357.83 L94.49,357.40 L94.79,356.98 L95.25,356.56 L95.82,356.13 L96.44,355.71 L97.06,355.28 L97.64,354.86 L98.15,354.43 L98.64,354.01 L99.13,353.59 L99.63,353.16 L100.11,352.74 L100.59,352.31 L101.05,351.89 L101.48,351.46 Z" fill="#CE88C8" stroke="#4a4a4a" stroke-width="0.35" stroke-opacity="0.6" stroke-linejoin="round"/>
<line x1="53.20" y1="328.60" x2="53.20" y2="371.50" stroke="#333" stroke-width="1.4" />
<line x1="52.50" y1="370.80" x2="113.70" y2="370.80" stroke="#333" stroke-width="1.4" />
<line x1="50.20" y1="368.80" x2="53.20" y2="368.80" stroke="#333" stroke-width="0.9" />
<text x="46.90" y="371.00" font-size="6.3" fill="#333" stroke="#333" stroke-width="0.18" text-anchor="end" >0.0</text>
<line x1="50.20" y1="360.92" x2="53.20" y2="360.92" stroke="#333" stroke-width="0.9" />
<text x="46.90" y="363.12" font-size="6.3" fill="#333" stroke="#333" stroke-width="0.18" text-anchor="end" >0.5</text>
<line x1="50.20" y1="353.04" x2="53.20" y2="353.04" stroke="#333" stroke-width="0.9" />
<text x="46.90" y="355.24" font-size="6.3" fill="#333" stroke="#333" stroke-width="0.18" text-anchor="end" >1.0</text>
<line x1="50.20" y1="345.16" x2="53.20" y2="345.16" stroke="#333" stroke-width="0.9" />
<text x="46.90" y="347.36" font-size="6.3" fill="#333" stroke="#333" stroke-width="0.18" text-anchor="end" >1.5</text>
<line x1="50.20" y1="337.28" x2="53.20" y2="337.28" stroke="#333" stroke-width="0.9" />
<text x="46.90" y="339.48" font-size="6.3" fill="#333" stroke="#333" stroke-width="0.18" text-anchor="end" >2.0</text>
<line x1="50.20" y1="329.40" x2="53.20" y2="329.40" stroke="#333" stroke-width="0.9" />
<text x="46.90" y="331.60" font-size="6.3" fill="#333" stroke="#333" stroke-width="0.18" text-anchor="end" >2.5</text>
<line x1="64.60" y1="370.80" x2="64.60" y2="373.60" stroke="#333" stroke-width="0.9" />
<line x1="83.50" y1="370.80" x2="83.50" y2="373.60" stroke="#333" stroke-width="0.9" />
<line x1="102.70" y1="370.80" x2="102.70" y2="373.60" stroke="#333" stroke-width="0.9" />
<text x="178.15" y="326.00" font-size="8.2" fill="#2a2a2a" stroke="#2a2a2a" stroke-width="0.12" text-anchor="middle" >CCR5</text>
<defs><linearGradient id="sg24" gradientUnits="userSpaceOnUse" x1="158.80" y1="361.54" x2="158.80" y2="344.71"><stop offset="0" stop-color="#4ea076"/><stop offset="0.45" stop-color="#8c8c8c"/><stop offset="1" stop-color="#a9a9a9"/></linearGradient></defs>
<rect x="158.30" y="344.71" width="1.0" height="16.83" fill="url(#sg24)"/>
<path d="M159.62,360.04 L159.87,360.25 L160.14,360.45 L160.42,360.66 L160.71,360.86 L161.02,361.07 L161.34,361.28 L161.67,361.48 L162.01,361.69 L162.36,361.89 L162.72,362.10 L163.09,362.30 L163.52,362.51 L164.01,362.72 L164.53,362.92 L165.07,363.13 L165.60,363.33 L166.11,363.54 L166.55,363.75 L166.92,363.95 L167.17,364.16 L167.30,364.36 L167.27,364.57 L167.11,364.78 L166.85,364.98 L166.50,365.19 L166.08,365.39 L165.60,365.60 L165.08,365.81 L164.53,366.01 L163.98,366.22 L163.43,366.42 L162.91,366.63 L162.34,366.83 L161.71,367.04 L161.05,367.25 L160.38,367.45 L159.74,367.66 L159.18,367.86 L158.80,368.07 L158.80,368.07 L158.42,367.86 L157.86,367.66 L157.22,367.45 L156.55,367.25 L155.89,367.04 L155.26,366.83 L154.69,366.63 L154.17,366.42 L153.62,366.22 L153.07,366.01 L152.52,365.81 L152.00,365.60 L151.52,365.39 L151.10,365.19 L150.75,364.98 L150.49,364.78 L150.33,364.57 L150.30,364.36 L150.43,364.16 L150.68,363.95 L151.05,363.75 L151.49,363.54 L152.00,363.33 L152.53,363.13 L153.07,362.92 L153.59,362.72 L154.08,362.51 L154.51,362.30 L154.88,362.10 L155.24,361.89 L155.59,361.69 L155.93,361.48 L156.26,361.28 L156.58,361.07 L156.89,360.86 L157.18,360.66 L157.46,360.45 L157.73,360.25 L157.98,360.04 Z" fill="#33A86C" stroke="#4a4a4a" stroke-width="0.35" stroke-opacity="0.6" stroke-linejoin="round"/>
<defs><linearGradient id="sg25" gradientUnits="userSpaceOnUse" x1="177.90" y1="353.51" x2="177.90" y2="328.65"><stop offset="0" stop-color="#d7923e"/><stop offset="0.45" stop-color="#8c8c8c"/><stop offset="1" stop-color="#a9a9a9"/></linearGradient></defs>
<rect x="177.40" y="328.65" width="1.0" height="24.86" fill="url(#sg25)"/>
<path d="M178.38,352.01 L178.63,352.40 L178.91,352.80 L179.21,353.19 L179.54,353.58 L179.88,353.98 L180.24,354.37 L180.62,354.76 L181.02,355.15 L181.43,355.55 L181.88,355.94 L182.42,356.33 L183.03,356.73 L183.67,357.12 L184.32,357.51 L184.92,357.91 L185.44,358.30 L185.84,358.69 L186.07,359.09 L186.09,359.48 L185.93,359.87 L185.63,360.26 L185.22,360.66 L184.72,361.05 L184.18,361.44 L183.61,361.84 L183.05,362.23 L182.52,362.62 L182.04,363.02 L181.56,363.41 L181.07,363.80 L180.56,364.20 L180.07,364.59 L179.61,364.98 L179.19,365.37 L178.82,365.77 L178.51,366.16 L178.25,366.55 L178.03,366.95 L177.90,367.34 L177.90,367.34 L177.77,366.95 L177.55,366.55 L177.29,366.16 L176.98,365.77 L176.61,365.37 L176.19,364.98 L175.73,364.59 L175.24,364.20 L174.73,363.80 L174.24,363.41 L173.76,363.02 L173.28,362.62 L172.75,362.23 L172.19,361.84 L171.62,361.44 L171.08,361.05 L170.58,360.66 L170.17,360.26 L169.87,359.87 L169.71,359.48 L169.73,359.09 L169.96,358.69 L170.36,358.30 L170.88,357.91 L171.48,357.51 L172.13,357.12 L172.77,356.73 L173.38,356.33 L173.92,355.94 L174.37,355.55 L174.78,355.15 L175.18,354.76 L175.56,354.37 L175.92,353.98 L176.26,353.58 L176.59,353.19 L176.89,352.80 L177.17,352.40 L177.42,352.01 Z" fill="#F7941D" stroke="#4a4a4a" stroke-width="0.35" stroke-opacity="0.6" stroke-linejoin="round"/>
<defs><linearGradient id="sg26" gradientUnits="userSpaceOnUse" x1="197.10" y1="360.81" x2="197.10" y2="354.93"><stop offset="0" stop-color="#ba89b6"/><stop offset="0.45" stop-color="#8c8c8c"/><stop offset="1" stop-color="#a9a9a9"/></linearGradient></defs>
<rect x="196.60" y="354.93" width="1.0" height="5.88" fill="url(#sg26)"/>
<path d="M197.92,359.31 L198.08,359.53 L198.25,359.74 L198.44,359.96 L198.64,360.17 L198.86,360.39 L199.09,360.60 L199.33,360.82 L199.59,361.03 L199.86,361.25 L200.14,361.46 L200.44,361.68 L200.75,361.89 L201.07,362.11 L201.41,362.32 L201.83,362.54 L202.32,362.75 L202.86,362.97 L203.43,363.18 L204.00,363.40 L204.52,363.62 L204.98,363.83 L205.33,364.05 L205.55,364.26 L205.60,364.48 L205.50,364.69 L205.29,364.91 L204.98,365.12 L204.58,365.34 L204.11,365.55 L203.58,365.77 L203.01,365.98 L202.42,366.20 L201.81,366.41 L201.20,366.63 L200.46,366.84 L199.55,367.06 L198.59,367.27 L197.70,367.49 L197.10,367.70 L197.10,367.70 L196.50,367.49 L195.61,367.27 L194.65,367.06 L193.74,366.84 L193.00,366.63 L192.39,366.41 L191.78,366.20 L191.19,365.98 L190.62,365.77 L190.09,365.55 L189.62,365.34 L189.22,365.12 L188.91,364.91 L188.70,364.69 L188.60,364.48 L188.65,364.26 L188.87,364.05 L189.22,363.83 L189.68,363.62 L190.20,363.40 L190.77,363.18 L191.34,362.97 L191.88,362.75 L192.37,362.54 L192.79,362.32 L193.13,362.11 L193.45,361.89 L193.76,361.68 L194.06,361.46 L194.34,361.25 L194.61,361.03 L194.87,360.82 L195.11,360.60 L195.34,360.39 L195.56,360.17 L195.76,359.96 L195.95,359.74 L196.12,359.53 L196.28,359.31 Z" fill="#CE88C8" stroke="#4a4a4a" stroke-width="0.35" stroke-opacity="0.6" stroke-linejoin="round"/>
<line x1="147.40" y1="328.60" x2="147.40" y2="371.50" stroke="#333" stroke-width="1.4" />
<line x1="146.70" y1="370.80" x2="207.90" y2="370.80" stroke="#333" stroke-width="1.4" />
<line x1="144.40" y1="368.80" x2="147.40" y2="368.80" stroke="#333" stroke-width="0.9" />
<text x="141.10" y="371.00" font-size="6.3" fill="#333" stroke="#333" stroke-width="0.18" text-anchor="end" >0</text>
<line x1="144.40" y1="354.20" x2="147.40" y2="354.20" stroke="#333" stroke-width="0.9" />
<text x="141.10" y="356.40" font-size="6.3" fill="#333" stroke="#333" stroke-width="0.18" text-anchor="end" >2</text>
<line x1="144.40" y1="339.60" x2="147.40" y2="339.60" stroke="#333" stroke-width="0.9" />
<text x="141.10" y="341.80" font-size="6.3" fill="#333" stroke="#333" stroke-width="0.18" text-anchor="end" >4</text>
<line x1="158.80" y1="370.80" x2="158.80" y2="373.60" stroke="#333" stroke-width="0.9" />
<line x1="177.90" y1="370.80" x2="177.90" y2="373.60" stroke="#333" stroke-width="0.9" />
<line x1="197.10" y1="370.80" x2="197.10" y2="373.60" stroke="#333" stroke-width="0.9" />
<text x="274.20" y="326.00" font-size="8.2" fill="#2a2a2a" stroke="#2a2a2a" stroke-width="0.12" text-anchor="middle" textLength="58.70" lengthAdjust="spacingAndGlyphs" >CD274 (PD–L1)</text>
<defs><linearGradient id="sg27" gradientUnits="userSpaceOnUse" x1="254.60" y1="358.07" x2="254.60" y2="341.41"><stop offset="0" stop-color="#4ea076"/><stop offset="0.45" stop-color="#8c8c8c"/><stop offset="1" stop-color="#a9a9a9"/></linearGradient></defs>
<rect x="254.10" y="341.41" width="1.0" height="16.66" fill="url(#sg27)"/>
<path d="M255.42,356.57 L255.59,356.87 L255.76,357.18 L255.95,357.49 L256.15,357.80 L256.36,358.11 L256.58,358.41 L256.81,358.72 L257.05,359.03 L257.31,359.34 L257.58,359.64 L257.85,359.95 L258.14,360.26 L258.45,360.57 L258.83,360.87 L259.26,361.18 L259.73,361.49 L260.23,361.80 L260.73,362.11 L261.23,362.41 L261.70,362.72 L262.12,363.03 L262.47,363.34 L262.73,363.64 L262.88,363.95 L262.89,364.26 L262.75,364.57 L262.47,364.88 L262.07,365.18 L261.57,365.49 L260.99,365.80 L260.35,366.11 L259.67,366.41 L258.98,366.72 L258.29,367.03 L257.63,367.34 L256.86,367.65 L255.99,367.95 L255.16,368.26 L254.60,368.57 L254.60,368.57 L254.04,368.26 L253.21,367.95 L252.34,367.65 L251.57,367.34 L250.91,367.03 L250.22,366.72 L249.53,366.41 L248.85,366.11 L248.21,365.80 L247.63,365.49 L247.13,365.18 L246.73,364.88 L246.45,364.57 L246.31,364.26 L246.32,363.95 L246.47,363.64 L246.73,363.34 L247.08,363.03 L247.50,362.72 L247.97,362.41 L248.47,362.11 L248.97,361.80 L249.47,361.49 L249.94,361.18 L250.37,360.87 L250.75,360.57 L251.06,360.26 L251.35,359.95 L251.62,359.64 L251.89,359.34 L252.15,359.03 L252.39,358.72 L252.62,358.41 L252.84,358.11 L253.05,357.80 L253.25,357.49 L253.44,357.18 L253.61,356.87 L253.78,356.57 Z" fill="#33A86C" stroke="#4a4a4a" stroke-width="0.35" stroke-opacity="0.6" stroke-linejoin="round"/>
<defs><linearGradient id="sg28" gradientUnits="userSpaceOnUse" x1="273.60" y1="349.22" x2="273.60" y2="330.04"><stop offset="0" stop-color="#d7923e"/><stop offset="0.45" stop-color="#8c8c8c"/><stop offset="1" stop-color="#a9a9a9"/></linearGradient></defs>
<rect x="273.10" y="330.04" width="1.0" height="19.19" fill="url(#sg28)"/>
<path d="M274.42,347.72 L274.56,348.24 L274.71,348.76 L274.87,349.28 L275.06,349.80 L275.26,350.31 L275.48,350.83 L275.72,351.35 L275.98,351.87 L276.25,352.39 L276.54,352.91 L276.85,353.42 L277.17,353.94 L277.54,354.46 L278.03,354.98 L278.60,355.50 L279.22,356.02 L279.87,356.53 L280.49,357.05 L281.05,357.57 L281.50,358.09 L281.80,358.61 L281.90,359.13 L281.73,359.64 L281.32,360.16 L280.73,360.68 L280.03,361.20 L279.29,361.72 L278.58,362.24 L277.93,362.75 L277.36,363.27 L276.77,363.79 L276.18,364.31 L275.62,364.83 L275.10,365.35 L274.64,365.86 L274.26,366.38 L273.96,366.90 L273.73,367.42 L273.60,367.94 L273.60,367.94 L273.47,367.42 L273.24,366.90 L272.94,366.38 L272.56,365.86 L272.10,365.35 L271.58,364.83 L271.02,364.31 L270.43,363.79 L269.84,363.27 L269.27,362.75 L268.62,362.24 L267.91,361.72 L267.17,361.20 L266.47,360.68 L265.88,360.16 L265.47,359.64 L265.30,359.13 L265.40,358.61 L265.70,358.09 L266.15,357.57 L266.71,357.05 L267.33,356.53 L267.98,356.02 L268.60,355.50 L269.17,354.98 L269.66,354.46 L270.03,353.94 L270.35,353.42 L270.66,352.91 L270.95,352.39 L271.22,351.87 L271.48,351.35 L271.72,350.83 L271.94,350.31 L272.14,349.80 L272.33,349.28 L272.49,348.76 L272.64,348.24 L272.78,347.72 Z" fill="#F7941D" stroke="#4a4a4a" stroke-width="0.35" stroke-opacity="0.6" stroke-linejoin="round"/>
<defs><linearGradient id="sg29" gradientUnits="userSpaceOnUse" x1="293.10" y1="358.07" x2="293.10" y2="348.99"><stop offset="0" stop-color="#ba89b6"/><stop offset="0.45" stop-color="#8c8c8c"/><stop offset="1" stop-color="#a9a9a9"/></linearGradient></defs>
<rect x="292.60" y="348.99" width="1.0" height="9.08" fill="url(#sg29)"/>
<path d="M294.31,356.57 L294.56,356.87 L294.82,357.18 L295.09,357.49 L295.37,357.80 L295.65,358.11 L295.94,358.41 L296.23,358.72 L296.52,359.03 L296.82,359.34 L297.12,359.64 L297.42,359.95 L297.73,360.26 L298.04,360.57 L298.39,360.87 L298.77,361.18 L299.17,361.49 L299.57,361.80 L299.97,362.11 L300.36,362.41 L300.71,362.72 L301.03,363.03 L301.29,363.34 L301.48,363.64 L301.58,363.95 L301.59,364.26 L301.44,364.57 L301.15,364.88 L300.72,365.18 L300.19,365.49 L299.58,365.80 L298.91,366.11 L298.21,366.41 L297.49,366.72 L296.78,367.03 L296.10,367.34 L295.33,367.65 L294.47,367.95 L293.65,368.26 L293.10,368.57 L293.10,368.57 L292.55,368.26 L291.73,367.95 L290.87,367.65 L290.10,367.34 L289.42,367.03 L288.71,366.72 L287.99,366.41 L287.29,366.11 L286.62,365.80 L286.01,365.49 L285.48,365.18 L285.05,364.88 L284.76,364.57 L284.61,364.26 L284.62,363.95 L284.72,363.64 L284.91,363.34 L285.17,363.03 L285.49,362.72 L285.84,362.41 L286.23,362.11 L286.63,361.80 L287.03,361.49 L287.43,361.18 L287.81,360.87 L288.16,360.57 L288.47,360.26 L288.78,359.95 L289.08,359.64 L289.38,359.34 L289.68,359.03 L289.97,358.72 L290.26,358.41 L290.55,358.11 L290.83,357.80 L291.11,357.49 L291.38,357.18 L291.64,356.87 L291.89,356.57 Z" fill="#CE88C8" stroke="#4a4a4a" stroke-width="0.35" stroke-opacity="0.6" stroke-linejoin="round"/>
<line x1="243.60" y1="328.60" x2="243.60" y2="371.50" stroke="#333" stroke-width="1.4" />
<line x1="242.90" y1="370.80" x2="303.80" y2="370.80" stroke="#333" stroke-width="1.4" />
<line x1="240.60" y1="369.20" x2="243.60" y2="369.20" stroke="#333" stroke-width="0.9" />
<text x="237.30" y="371.40" font-size="6.3" fill="#333" stroke="#333" stroke-width="0.18" text-anchor="end" >0</text>
<line x1="240.60" y1="356.57" x2="243.60" y2="356.57" stroke="#333" stroke-width="0.9" />
<text x="237.30" y="358.77" font-size="6.3" fill="#333" stroke="#333" stroke-width="0.18" text-anchor="end" >1</text>
<line x1="240.60" y1="343.93" x2="243.60" y2="343.93" stroke="#333" stroke-width="0.9" />
<text x="237.30" y="346.13" font-size="6.3" fill="#333" stroke="#333" stroke-width="0.18" text-anchor="end" >2</text>
<line x1="240.60" y1="331.30" x2="243.60" y2="331.30" stroke="#333" stroke-width="0.9" />
<text x="237.30" y="333.50" font-size="6.3" fill="#333" stroke="#333" stroke-width="0.18" text-anchor="end" >3</text>
<line x1="254.60" y1="370.80" x2="254.60" y2="373.60" stroke="#333" stroke-width="0.9" />
<line x1="273.60" y1="370.80" x2="273.60" y2="373.60" stroke="#333" stroke-width="0.9" />
<line x1="293.10" y1="370.80" x2="293.10" y2="373.60" stroke="#333" stroke-width="0.9" />
<text x="83.95" y="385.40" font-size="8.2" fill="#2a2a2a" stroke="#2a2a2a" stroke-width="0.12" text-anchor="middle" textLength="21.50" lengthAdjust="spacingAndGlyphs" >CD34</text>
<defs><linearGradient id="sg30" gradientUnits="userSpaceOnUse" x1="64.60" y1="421.65" x2="64.60" y2="402.85"><stop offset="0" stop-color="#4ea076"/><stop offset="0.45" stop-color="#8c8c8c"/><stop offset="1" stop-color="#a9a9a9"/></linearGradient></defs>
<rect x="64.10" y="402.85" width="1.0" height="18.80" fill="url(#sg30)"/>
<path d="M65.22,420.15 L65.41,420.38 L65.60,420.62 L65.78,420.85 L65.95,421.08 L66.11,421.32 L66.26,421.55 L66.39,421.79 L66.50,422.02 L66.59,422.25 L66.66,422.49 L66.71,422.72 L66.73,422.95 L66.72,423.19 L66.67,423.42 L66.59,423.65 L66.49,423.89 L66.39,424.12 L66.28,424.36 L66.17,424.59 L66.09,424.82 L66.03,425.06 L66.00,425.29 L66.12,425.52 L66.58,425.76 L67.34,425.99 L68.35,426.22 L69.50,426.46 L70.67,426.69 L71.69,426.93 L72.39,427.16 L72.60,427.39 L72.51,427.63 L72.30,427.86 L71.94,428.09 L71.44,428.33 L70.81,428.56 L70.05,428.79 L67.52,429.03 L64.60,429.26 L64.60,429.26 L61.68,429.03 L59.15,428.79 L58.39,428.56 L57.76,428.33 L57.26,428.09 L56.90,427.86 L56.69,427.63 L56.60,427.39 L56.81,427.16 L57.51,426.93 L58.53,426.69 L59.70,426.46 L60.85,426.22 L61.86,425.99 L62.62,425.76 L63.08,425.52 L63.20,425.29 L63.17,425.06 L63.11,424.82 L63.03,424.59 L62.92,424.36 L62.81,424.12 L62.71,423.89 L62.61,423.65 L62.53,423.42 L62.48,423.19 L62.47,422.95 L62.49,422.72 L62.54,422.49 L62.61,422.25 L62.70,422.02 L62.81,421.79 L62.94,421.55 L63.09,421.32 L63.25,421.08 L63.42,420.85 L63.60,420.62 L63.79,420.38 L63.98,420.15 Z" fill="#33A86C" stroke="#4a4a4a" stroke-width="0.35" stroke-opacity="0.6" stroke-linejoin="round"/>
<defs><linearGradient id="sg31" gradientUnits="userSpaceOnUse" x1="83.50" y1="410.12" x2="83.50" y2="389.59"><stop offset="0" stop-color="#d7923e"/><stop offset="0.45" stop-color="#8c8c8c"/><stop offset="1" stop-color="#a9a9a9"/></linearGradient></defs>
<rect x="83.00" y="389.59" width="1.0" height="20.53" fill="url(#sg31)"/>
<path d="M84.10,408.62 L84.20,409.15 L84.30,409.68 L84.41,410.20 L84.53,410.73 L84.66,411.26 L84.80,411.79 L84.94,412.32 L85.10,412.85 L85.26,413.38 L85.43,413.91 L85.60,414.44 L85.79,414.97 L86.00,415.50 L86.22,416.03 L86.45,416.56 L86.70,417.09 L86.95,417.62 L87.21,418.14 L87.47,418.67 L87.74,419.20 L88.01,419.73 L88.28,420.26 L88.55,420.79 L88.82,421.32 L89.10,421.85 L89.38,422.38 L89.66,422.91 L89.95,423.44 L90.24,423.97 L90.53,424.50 L90.84,425.03 L91.23,425.56 L91.62,426.09 L91.91,426.61 L92.00,427.14 L91.80,427.67 L91.23,428.20 L90.21,428.73 L83.50,429.26 L83.50,429.26 L76.79,428.73 L75.77,428.20 L75.20,427.67 L75.00,427.14 L75.09,426.61 L75.38,426.09 L75.77,425.56 L76.16,425.03 L76.47,424.50 L76.76,423.97 L77.05,423.44 L77.34,422.91 L77.62,422.38 L77.90,421.85 L78.18,421.32 L78.45,420.79 L78.72,420.26 L78.99,419.73 L79.26,419.20 L79.53,418.67 L79.79,418.14 L80.05,417.62 L80.30,417.09 L80.55,416.56 L80.78,416.03 L81.00,415.50 L81.21,414.97 L81.40,414.44 L81.57,413.91 L81.74,413.38 L81.90,412.85 L82.06,412.32 L82.20,411.79 L82.34,411.26 L82.47,410.73 L82.59,410.20 L82.70,409.68 L82.80,409.15 L82.90,408.62 Z" fill="#F7941D" stroke="#4a4a4a" stroke-width="0.35" stroke-opacity="0.6" stroke-linejoin="round"/>
<defs><linearGradient id="sg32" gradientUnits="userSpaceOnUse" x1="102.70" y1="415.88" x2="102.70" y2="407.46"><stop offset="0" stop-color="#ba89b6"/><stop offset="0.45" stop-color="#8c8c8c"/><stop offset="1" stop-color="#a9a9a9"/></linearGradient></defs>
<rect x="102.20" y="407.46" width="1.0" height="8.42" fill="url(#sg32)"/>
<path d="M103.31,414.38 L103.38,414.76 L103.46,415.15 L103.54,415.53 L103.64,415.91 L103.75,416.29 L103.86,416.67 L103.98,417.05 L104.11,417.44 L104.25,417.82 L104.40,418.20 L104.55,418.58 L104.71,418.96 L104.88,419.34 L105.06,419.72 L105.25,420.11 L105.44,420.49 L105.66,420.87 L105.89,421.25 L106.15,421.63 L106.41,422.01 L106.70,422.39 L106.99,422.78 L107.29,423.16 L107.60,423.54 L107.92,423.92 L108.24,424.30 L108.56,424.68 L108.90,425.06 L109.31,425.45 L109.76,425.83 L110.20,426.21 L110.61,426.59 L110.94,426.97 L111.15,427.35 L111.18,427.74 L110.62,428.12 L109.38,428.50 L107.40,428.88 L102.70,429.26 L102.70,429.26 L98.00,428.88 L96.02,428.50 L94.78,428.12 L94.22,427.74 L94.25,427.35 L94.46,426.97 L94.79,426.59 L95.20,426.21 L95.64,425.83 L96.09,425.45 L96.50,425.06 L96.84,424.68 L97.16,424.30 L97.48,423.92 L97.80,423.54 L98.11,423.16 L98.41,422.78 L98.70,422.39 L98.99,422.01 L99.25,421.63 L99.51,421.25 L99.74,420.87 L99.96,420.49 L100.15,420.11 L100.34,419.72 L100.52,419.34 L100.69,418.96 L100.85,418.58 L101.00,418.20 L101.15,417.82 L101.29,417.44 L101.42,417.05 L101.54,416.67 L101.65,416.29 L101.76,415.91 L101.86,415.53 L101.94,415.15 L102.02,414.76 L102.09,414.38 Z" fill="#CE88C8" stroke="#4a4a4a" stroke-width="0.35" stroke-opacity="0.6" stroke-linejoin="round"/>
<line x1="53.20" y1="389.00" x2="53.20" y2="431.30" stroke="#333" stroke-width="1.4" />
<line x1="52.50" y1="430.60" x2="113.70" y2="430.60" stroke="#333" stroke-width="1.4" />
<line x1="50.20" y1="428.80" x2="53.20" y2="428.80" stroke="#333" stroke-width="0.9" />
<text x="46.90" y="431.00" font-size="6.3" fill="#333" stroke="#333" stroke-width="0.18" text-anchor="end" >0.0</text>
<line x1="50.20" y1="417.27" x2="53.20" y2="417.27" stroke="#333" stroke-width="0.9" />
<text x="46.90" y="419.47" font-size="6.3" fill="#333" stroke="#333" stroke-width="0.18" text-anchor="end" >0.2</text>
<line x1="50.20" y1="405.73" x2="53.20" y2="405.73" stroke="#333" stroke-width="0.9" />
<text x="46.90" y="407.93" font-size="6.3" fill="#333" stroke="#333" stroke-width="0.18" text-anchor="end" >0.4</text>
<line x1="50.20" y1="394.20" x2="53.20" y2="394.20" stroke="#333" stroke-width="0.9" />
<text x="46.90" y="396.40" font-size="6.3" fill="#333" stroke="#333" stroke-width="0.18" text-anchor="end" >0.6</text>
<line x1="64.60" y1="430.60" x2="64.60" y2="433.40" stroke="#333" stroke-width="0.9" />
<line x1="83.50" y1="430.60" x2="83.50" y2="433.40" stroke="#333" stroke-width="0.9" />
<line x1="102.70" y1="430.60" x2="102.70" y2="433.40" stroke="#333" stroke-width="0.9" />
<text x="178.15" y="385.40" font-size="8.2" fill="#2a2a2a" stroke="#2a2a2a" stroke-width="0.12" text-anchor="middle" >CD133</text>
<defs><linearGradient id="sg33" gradientUnits="userSpaceOnUse" x1="158.80" y1="409.49" x2="158.80" y2="392.30"><stop offset="0" stop-color="#4ea076"/><stop offset="0.45" stop-color="#8c8c8c"/><stop offset="1" stop-color="#a9a9a9"/></linearGradient></defs>
<rect x="158.30" y="392.30" width="1.0" height="17.19" fill="url(#sg33)"/>
<path d="M159.28,407.99 L159.55,408.50 L159.85,409.01 L160.17,409.52 L160.51,410.03 L160.85,410.54 L161.20,411.05 L161.56,411.56 L161.91,412.07 L162.26,412.58 L162.61,413.09 L162.99,413.60 L163.40,414.11 L163.83,414.62 L164.27,415.13 L164.72,415.64 L165.16,416.15 L165.58,416.67 L165.98,417.18 L166.33,417.69 L166.65,418.20 L166.90,418.71 L167.08,419.22 L167.18,419.73 L167.19,420.24 L167.00,420.75 L166.62,421.26 L166.09,421.77 L165.45,422.28 L164.74,422.79 L164.00,423.30 L163.27,423.81 L162.57,424.32 L161.94,424.83 L161.35,425.34 L160.75,425.85 L160.16,426.37 L159.60,426.88 L159.12,427.39 L158.80,427.90 L158.80,427.90 L158.48,427.39 L158.00,426.88 L157.44,426.37 L156.85,425.85 L156.25,425.34 L155.66,424.83 L155.03,424.32 L154.33,423.81 L153.60,423.30 L152.86,422.79 L152.15,422.28 L151.51,421.77 L150.98,421.26 L150.60,420.75 L150.41,420.24 L150.42,419.73 L150.52,419.22 L150.70,418.71 L150.95,418.20 L151.27,417.69 L151.62,417.18 L152.02,416.67 L152.44,416.15 L152.88,415.64 L153.33,415.13 L153.77,414.62 L154.20,414.11 L154.61,413.60 L154.99,413.09 L155.34,412.58 L155.69,412.07 L156.04,411.56 L156.40,411.05 L156.75,410.54 L157.09,410.03 L157.43,409.52 L157.75,409.01 L158.05,408.50 L158.32,407.99 Z" fill="#33A86C" stroke="#4a4a4a" stroke-width="0.35" stroke-opacity="0.6" stroke-linejoin="round"/>
<defs><linearGradient id="sg34" gradientUnits="userSpaceOnUse" x1="177.90" y1="396.21" x2="177.90" y2="391.09"><stop offset="0" stop-color="#d7923e"/><stop offset="0.45" stop-color="#8c8c8c"/><stop offset="1" stop-color="#a9a9a9"/></linearGradient></defs>
<rect x="177.40" y="391.09" width="1.0" height="5.12" fill="url(#sg34)"/>
<path d="M178.72,394.71 L179.22,395.56 L179.61,396.42 L179.88,397.27 L180.00,398.12 L179.90,398.97 L179.56,399.82 L179.15,400.67 L178.82,401.52 L178.66,402.37 L178.54,403.22 L178.45,404.07 L178.39,404.92 L178.38,405.77 L178.55,406.63 L178.92,407.48 L179.44,408.33 L179.99,409.18 L180.68,410.03 L181.63,410.88 L182.77,411.73 L183.96,412.58 L185.04,413.43 L185.84,414.28 L186.20,415.13 L186.02,415.98 L185.47,416.84 L184.66,417.69 L183.72,418.54 L182.75,419.39 L181.86,420.24 L181.12,421.09 L180.54,421.94 L180.01,422.79 L179.52,423.64 L179.07,424.49 L178.68,425.34 L178.34,426.19 L178.07,427.05 L177.90,427.90 L177.90,427.90 L177.73,427.05 L177.46,426.19 L177.12,425.34 L176.73,424.49 L176.28,423.64 L175.79,422.79 L175.26,421.94 L174.68,421.09 L173.94,420.24 L173.05,419.39 L172.08,418.54 L171.14,417.69 L170.33,416.84 L169.78,415.98 L169.60,415.13 L169.96,414.28 L170.76,413.43 L171.84,412.58 L173.03,411.73 L174.17,410.88 L175.12,410.03 L175.81,409.18 L176.36,408.33 L176.88,407.48 L177.25,406.63 L177.42,405.77 L177.41,404.92 L177.35,404.07 L177.26,403.22 L177.14,402.37 L176.98,401.52 L176.65,400.67 L176.24,399.82 L175.90,398.97 L175.80,398.12 L175.92,397.27 L176.19,396.42 L176.58,395.56 L177.08,394.71 Z" fill="#F7941D" stroke="#4a4a4a" stroke-width="0.35" stroke-opacity="0.6" stroke-linejoin="round"/>
<defs><linearGradient id="sg35" gradientUnits="userSpaceOnUse" x1="197.10" y1="408.28" x2="197.10" y2="392.30"><stop offset="0" stop-color="#ba89b6"/><stop offset="0.45" stop-color="#8c8c8c"/><stop offset="1" stop-color="#a9a9a9"/></linearGradient></defs>
<rect x="196.60" y="392.30" width="1.0" height="15.98" fill="url(#sg35)"/>
<path d="M197.92,406.78 L198.27,407.29 L198.63,407.80 L199.01,408.31 L199.40,408.82 L199.79,409.33 L200.19,409.84 L200.59,410.35 L200.98,410.86 L201.37,411.37 L201.76,411.89 L202.13,412.40 L202.50,412.91 L202.89,413.42 L203.31,413.93 L203.74,414.44 L204.16,414.95 L204.56,415.46 L204.91,415.97 L205.20,416.48 L205.40,416.99 L205.50,417.50 L205.45,418.01 L205.20,418.52 L204.80,419.03 L204.28,419.54 L203.68,420.05 L203.02,420.56 L202.36,421.07 L201.71,421.58 L201.11,422.10 L200.58,422.61 L200.07,423.12 L199.56,423.63 L199.06,424.14 L198.57,424.65 L198.12,425.16 L197.70,425.67 L197.34,426.18 L197.10,426.69 L197.10,426.69 L196.86,426.18 L196.50,425.67 L196.08,425.16 L195.63,424.65 L195.14,424.14 L194.64,423.63 L194.13,423.12 L193.62,422.61 L193.09,422.10 L192.49,421.58 L191.84,421.07 L191.18,420.56 L190.52,420.05 L189.92,419.54 L189.40,419.03 L189.00,418.52 L188.75,418.01 L188.70,417.50 L188.80,416.99 L189.00,416.48 L189.29,415.97 L189.64,415.46 L190.04,414.95 L190.46,414.44 L190.89,413.93 L191.31,413.42 L191.70,412.91 L192.07,412.40 L192.44,411.89 L192.83,411.37 L193.22,410.86 L193.61,410.35 L194.01,409.84 L194.41,409.33 L194.80,408.82 L195.19,408.31 L195.57,407.80 L195.93,407.29 L196.28,406.78 Z" fill="#CE88C8" stroke="#4a4a4a" stroke-width="0.35" stroke-opacity="0.6" stroke-linejoin="round"/>
<line x1="147.40" y1="389.00" x2="147.40" y2="431.30" stroke="#333" stroke-width="1.4" />
<line x1="146.70" y1="430.60" x2="207.90" y2="430.60" stroke="#333" stroke-width="1.4" />
<line x1="144.40" y1="428.50" x2="147.40" y2="428.50" stroke="#333" stroke-width="0.9" />
<text x="141.10" y="430.70" font-size="6.3" fill="#333" stroke="#333" stroke-width="0.18" text-anchor="end" >0</text>
<line x1="144.40" y1="416.43" x2="147.40" y2="416.43" stroke="#333" stroke-width="0.9" />
<text x="141.10" y="418.63" font-size="6.3" fill="#333" stroke="#333" stroke-width="0.18" text-anchor="end" >1</text>
<line x1="144.40" y1="404.37" x2="147.40" y2="404.37" stroke="#333" stroke-width="0.9" />
<text x="141.10" y="406.57" font-size="6.3" fill="#333" stroke="#333" stroke-width="0.18" text-anchor="end" >2</text>
<line x1="144.40" y1="392.30" x2="147.40" y2="392.30" stroke="#333" stroke-width="0.9" />
<text x="141.10" y="394.50" font-size="6.3" fill="#333" stroke="#333" stroke-width="0.18" text-anchor="end" >3</text>
<line x1="158.80" y1="430.60" x2="158.80" y2="433.40" stroke="#333" stroke-width="0.9" />
<line x1="177.90" y1="430.60" x2="177.90" y2="433.40" stroke="#333" stroke-width="0.9" />
<line x1="197.10" y1="430.60" x2="197.10" y2="433.40" stroke="#333" stroke-width="0.9" />
<text x="274.20" y="385.40" font-size="8.2" fill="#2a2a2a" stroke="#2a2a2a" stroke-width="0.12" text-anchor="middle" >CD117</text>
<defs><linearGradient id="sg36" gradientUnits="userSpaceOnUse" x1="254.60" y1="408.70" x2="254.60" y2="389.20"><stop offset="0" stop-color="#4ea076"/><stop offset="0.45" stop-color="#8c8c8c"/><stop offset="1" stop-color="#a9a9a9"/></linearGradient></defs>
<rect x="254.10" y="389.20" width="1.0" height="19.50" fill="url(#sg36)"/>
<path d="M255.08,407.20 L255.30,407.77 L255.53,408.34 L255.77,408.92 L256.00,409.49 L256.22,410.06 L256.43,410.63 L256.62,411.21 L256.79,411.78 L256.97,412.35 L257.15,412.92 L257.32,413.50 L257.47,414.07 L257.60,414.64 L257.68,415.21 L257.72,415.78 L257.66,416.36 L257.47,416.93 L257.20,417.50 L256.87,418.07 L256.54,418.65 L256.23,419.22 L255.96,419.79 L255.75,420.36 L255.55,420.94 L255.35,421.51 L255.20,422.08 L255.10,422.65 L255.10,423.22 L255.48,423.80 L256.25,424.37 L257.26,424.94 L258.38,425.51 L260.03,426.09 L261.76,426.66 L262.77,427.23 L262.50,427.80 L261.30,428.38 L259.20,428.95 L254.60,429.52 L254.60,429.52 L250.00,428.95 L247.90,428.38 L246.70,427.80 L246.43,427.23 L247.44,426.66 L249.17,426.09 L250.82,425.51 L251.94,424.94 L252.95,424.37 L253.72,423.80 L254.10,423.22 L254.10,422.65 L254.00,422.08 L253.85,421.51 L253.65,420.94 L253.45,420.36 L253.24,419.79 L252.97,419.22 L252.66,418.65 L252.33,418.07 L252.00,417.50 L251.73,416.93 L251.54,416.36 L251.48,415.78 L251.52,415.21 L251.60,414.64 L251.73,414.07 L251.88,413.50 L252.05,412.92 L252.23,412.35 L252.41,411.78 L252.58,411.21 L252.77,410.63 L252.98,410.06 L253.20,409.49 L253.43,408.92 L253.67,408.34 L253.90,407.77 L254.12,407.20 Z" fill="#33A86C" stroke="#4a4a4a" stroke-width="0.35" stroke-opacity="0.6" stroke-linejoin="round"/>
<defs><linearGradient id="sg37" gradientUnits="userSpaceOnUse" x1="273.60" y1="424.54" x2="273.60" y2="410.08"><stop offset="0" stop-color="#d7923e"/><stop offset="0.45" stop-color="#8c8c8c"/><stop offset="1" stop-color="#a9a9a9"/></linearGradient></defs>
<rect x="273.10" y="410.08" width="1.0" height="14.46" fill="url(#sg37)"/>
<path d="M274.08,423.04 L274.19,423.21 L274.32,423.37 L274.46,423.54 L274.61,423.70 L274.79,423.87 L274.98,424.04 L275.18,424.20 L275.40,424.37 L275.64,424.54 L275.89,424.70 L276.16,424.87 L276.44,425.03 L276.74,425.20 L277.09,425.37 L277.55,425.53 L278.07,425.70 L278.65,425.86 L279.25,426.03 L279.85,426.20 L280.41,426.36 L280.90,426.53 L281.29,426.70 L281.53,426.86 L281.60,427.03 L281.57,427.19 L281.49,427.36 L281.37,427.53 L281.20,427.69 L280.99,427.86 L280.73,428.02 L280.43,428.19 L280.10,428.36 L279.72,428.52 L279.32,428.69 L278.83,428.86 L277.73,429.02 L276.19,429.19 L274.64,429.35 L273.60,429.52 L273.60,429.52 L272.56,429.35 L271.01,429.19 L269.47,429.02 L268.37,428.86 L267.88,428.69 L267.48,428.52 L267.10,428.36 L266.77,428.19 L266.47,428.02 L266.21,427.86 L266.00,427.69 L265.83,427.53 L265.71,427.36 L265.63,427.19 L265.60,427.03 L265.67,426.86 L265.91,426.70 L266.30,426.53 L266.79,426.36 L267.35,426.20 L267.95,426.03 L268.55,425.86 L269.13,425.70 L269.65,425.53 L270.11,425.37 L270.46,425.20 L270.76,425.03 L271.04,424.87 L271.31,424.70 L271.56,424.54 L271.80,424.37 L272.02,424.20 L272.22,424.04 L272.41,423.87 L272.59,423.70 L272.74,423.54 L272.88,423.37 L273.01,423.21 L273.12,423.04 Z" fill="#F7941D" stroke="#4a4a4a" stroke-width="0.35" stroke-opacity="0.6" stroke-linejoin="round"/>
<defs><linearGradient id="sg38" gradientUnits="userSpaceOnUse" x1="293.10" y1="404.38" x2="293.10" y2="398.56"><stop offset="0" stop-color="#ba89b6"/><stop offset="0.45" stop-color="#8c8c8c"/><stop offset="1" stop-color="#a9a9a9"/></linearGradient></defs>
<rect x="292.60" y="398.56" width="1.0" height="5.82" fill="url(#sg38)"/>
<path d="M293.58,402.88 L293.76,403.54 L293.96,404.19 L294.19,404.85 L294.44,405.50 L294.72,406.16 L295.01,406.81 L295.34,407.47 L295.70,408.12 L296.10,408.78 L296.54,409.43 L296.99,410.09 L297.45,410.74 L297.91,411.40 L298.34,412.06 L298.77,412.71 L299.25,413.37 L299.75,414.02 L300.25,414.68 L300.70,415.33 L301.07,415.99 L301.31,416.64 L301.40,417.30 L301.39,417.95 L301.36,418.61 L301.31,419.26 L301.24,419.92 L301.16,420.58 L301.06,421.23 L300.93,421.89 L300.66,422.54 L300.24,423.20 L299.72,423.85 L299.13,424.51 L298.49,425.16 L297.78,425.82 L296.90,426.47 L295.83,427.13 L294.61,427.78 L293.10,428.44 L293.10,428.44 L291.59,427.78 L290.37,427.13 L289.30,426.47 L288.42,425.82 L287.71,425.16 L287.07,424.51 L286.48,423.85 L285.96,423.20 L285.54,422.54 L285.27,421.89 L285.14,421.23 L285.04,420.58 L284.96,419.92 L284.89,419.26 L284.84,418.61 L284.81,417.95 L284.80,417.30 L284.89,416.64 L285.13,415.99 L285.50,415.33 L285.95,414.68 L286.45,414.02 L286.95,413.37 L287.43,412.71 L287.86,412.06 L288.29,411.40 L288.75,410.74 L289.21,410.09 L289.66,409.43 L290.10,408.78 L290.50,408.12 L290.86,407.47 L291.19,406.81 L291.48,406.16 L291.76,405.50 L292.01,404.85 L292.24,404.19 L292.44,403.54 L292.62,402.88 Z" fill="#CE88C8" stroke="#4a4a4a" stroke-width="0.35" stroke-opacity="0.6" stroke-linejoin="round"/>
<line x1="243.60" y1="389.00" x2="243.60" y2="431.30" stroke="#333" stroke-width="1.4" />
<line x1="242.90" y1="430.60" x2="303.80" y2="430.60" stroke="#333" stroke-width="1.4" />
<line x1="240.60" y1="428.80" x2="243.60" y2="428.80" stroke="#333" stroke-width="0.9" />
<text x="237.30" y="431.00" font-size="6.3" fill="#333" stroke="#333" stroke-width="0.18" text-anchor="end" >0</text>
<line x1="240.60" y1="414.40" x2="243.60" y2="414.40" stroke="#333" stroke-width="0.9" />
<text x="237.30" y="416.60" font-size="6.3" fill="#333" stroke="#333" stroke-width="0.18" text-anchor="end" >2</text>
<line x1="240.60" y1="400.00" x2="243.60" y2="400.00" stroke="#333" stroke-width="0.9" />
<text x="237.30" y="402.20" font-size="6.3" fill="#333" stroke="#333" stroke-width="0.18" text-anchor="end" >4</text>
<line x1="254.60" y1="430.60" x2="254.60" y2="433.40" stroke="#333" stroke-width="0.9" />
<line x1="273.60" y1="430.60" x2="273.60" y2="433.40" stroke="#333" stroke-width="0.9" />
<line x1="293.10" y1="430.60" x2="293.10" y2="433.40" stroke="#333" stroke-width="0.9" />
<text x="83.95" y="446.70" font-size="8.2" fill="#2a2a2a" stroke="#2a2a2a" stroke-width="0.12" text-anchor="middle" textLength="25.50" lengthAdjust="spacingAndGlyphs" >CD11b</text>
<defs><linearGradient id="sg39" gradientUnits="userSpaceOnUse" x1="64.60" y1="471.90" x2="64.60" y2="450.40"><stop offset="0" stop-color="#4ea076"/><stop offset="0.45" stop-color="#8c8c8c"/><stop offset="1" stop-color="#a9a9a9"/></linearGradient></defs>
<rect x="64.10" y="450.40" width="1.0" height="21.50" fill="url(#sg39)"/>
<path d="M65.42,470.40 L65.83,470.87 L66.28,471.34 L66.75,471.82 L67.26,472.29 L67.78,472.76 L68.33,473.23 L68.90,473.70 L69.59,474.17 L70.38,474.65 L71.20,475.12 L71.97,475.59 L72.58,476.06 L72.95,476.53 L72.97,477.01 L72.62,477.48 L71.99,477.95 L71.21,478.42 L70.38,478.89 L69.60,479.36 L68.95,479.84 L68.47,480.31 L68.03,480.78 L67.62,481.25 L67.24,481.72 L66.88,482.19 L66.56,482.67 L66.27,483.14 L66.00,483.61 L65.77,484.08 L65.57,484.55 L65.38,485.03 L65.22,485.50 L65.07,485.97 L64.95,486.44 L64.84,486.91 L64.75,487.38 L64.68,487.86 L64.63,488.33 L64.60,488.80 L64.60,488.80 L64.57,488.33 L64.52,487.86 L64.45,487.38 L64.36,486.91 L64.25,486.44 L64.13,485.97 L63.98,485.50 L63.82,485.03 L63.63,484.55 L63.43,484.08 L63.20,483.61 L62.93,483.14 L62.64,482.67 L62.32,482.19 L61.96,481.72 L61.58,481.25 L61.17,480.78 L60.73,480.31 L60.25,479.84 L59.60,479.36 L58.82,478.89 L57.99,478.42 L57.21,477.95 L56.58,477.48 L56.23,477.01 L56.25,476.53 L56.62,476.06 L57.23,475.59 L58.00,475.12 L58.82,474.65 L59.61,474.17 L60.30,473.70 L60.87,473.23 L61.42,472.76 L61.94,472.29 L62.45,471.82 L62.92,471.34 L63.37,470.87 L63.78,470.40 Z" fill="#33A86C" stroke="#4a4a4a" stroke-width="0.35" stroke-opacity="0.6" stroke-linejoin="round"/>
<defs><linearGradient id="sg40" gradientUnits="userSpaceOnUse" x1="83.50" y1="473.50" x2="83.50" y2="459.20"><stop offset="0" stop-color="#d7923e"/><stop offset="0.45" stop-color="#8c8c8c"/><stop offset="1" stop-color="#a9a9a9"/></linearGradient></defs>
<rect x="83.00" y="459.20" width="1.0" height="14.30" fill="url(#sg40)"/>
<path d="M83.97,472.00 L84.06,472.45 L84.15,472.90 L84.25,473.35 L84.36,473.81 L84.47,474.26 L84.60,474.71 L84.73,475.16 L84.87,475.61 L85.02,476.06 L85.18,476.51 L85.34,476.96 L85.51,477.42 L85.69,477.87 L85.88,478.32 L86.08,478.77 L86.29,479.22 L86.51,479.67 L86.75,480.12 L87.00,480.57 L87.28,481.03 L87.57,481.48 L87.91,481.93 L88.31,482.38 L88.76,482.83 L89.24,483.28 L89.72,483.73 L90.18,484.18 L90.57,484.64 L90.89,485.09 L91.23,485.54 L91.55,485.99 L91.81,486.44 L91.97,486.89 L91.98,487.34 L91.48,487.79 L90.49,488.25 L89.15,488.70 L86.66,489.15 L83.50,489.60 L83.50,489.60 L80.34,489.15 L77.85,488.70 L76.51,488.25 L75.52,487.79 L75.02,487.34 L75.03,486.89 L75.19,486.44 L75.45,485.99 L75.77,485.54 L76.11,485.09 L76.43,484.64 L76.82,484.18 L77.28,483.73 L77.76,483.28 L78.24,482.83 L78.69,482.38 L79.09,481.93 L79.43,481.48 L79.72,481.03 L80.00,480.57 L80.25,480.12 L80.49,479.67 L80.71,479.22 L80.92,478.77 L81.12,478.32 L81.31,477.87 L81.49,477.42 L81.66,476.96 L81.82,476.51 L81.98,476.06 L82.13,475.61 L82.27,475.16 L82.40,474.71 L82.53,474.26 L82.64,473.81 L82.75,473.35 L82.85,472.90 L82.94,472.45 L83.03,472.00 Z" fill="#F7941D" stroke="#4a4a4a" stroke-width="0.35" stroke-opacity="0.6" stroke-linejoin="round"/>
<defs><linearGradient id="sg41" gradientUnits="userSpaceOnUse" x1="102.70" y1="471.10" x2="102.70" y2="461.60"><stop offset="0" stop-color="#ba89b6"/><stop offset="0.45" stop-color="#8c8c8c"/><stop offset="1" stop-color="#a9a9a9"/></linearGradient></defs>
<rect x="102.20" y="461.60" width="1.0" height="9.50" fill="url(#sg41)"/>
<path d="M103.52,469.60 L103.91,470.05 L104.32,470.50 L104.76,470.95 L105.20,471.41 L105.66,471.86 L106.12,472.31 L106.58,472.76 L107.03,473.21 L107.49,473.66 L107.98,474.11 L108.51,474.56 L109.07,475.02 L109.63,475.47 L110.15,475.92 L110.60,476.37 L110.94,476.82 L111.15,477.27 L111.20,477.72 L111.09,478.17 L110.85,478.63 L110.53,479.08 L110.12,479.53 L109.67,479.98 L109.20,480.43 L108.72,480.88 L108.27,481.33 L107.84,481.78 L107.40,482.24 L106.94,482.69 L106.46,483.14 L105.97,483.59 L105.49,484.04 L105.01,484.49 L104.54,484.94 L104.10,485.39 L103.68,485.85 L103.28,486.30 L102.93,486.75 L102.70,487.20 L102.70,487.20 L102.47,486.75 L102.12,486.30 L101.72,485.85 L101.30,485.39 L100.86,484.94 L100.39,484.49 L99.91,484.04 L99.43,483.59 L98.94,483.14 L98.46,482.69 L98.00,482.24 L97.56,481.78 L97.13,481.33 L96.68,480.88 L96.20,480.43 L95.73,479.98 L95.28,479.53 L94.87,479.08 L94.55,478.63 L94.31,478.17 L94.20,477.72 L94.25,477.27 L94.46,476.82 L94.80,476.37 L95.25,475.92 L95.77,475.47 L96.33,475.02 L96.89,474.56 L97.42,474.11 L97.91,473.66 L98.37,473.21 L98.82,472.76 L99.28,472.31 L99.74,471.86 L100.20,471.41 L100.64,470.95 L101.08,470.50 L101.49,470.05 L101.88,469.60 Z" fill="#CE88C8" stroke="#4a4a4a" stroke-width="0.35" stroke-opacity="0.6" stroke-linejoin="round"/>
<line x1="53.20" y1="448.70" x2="53.20" y2="492.30" stroke="#333" stroke-width="1.4" />
<line x1="52.50" y1="491.60" x2="113.70" y2="491.60" stroke="#333" stroke-width="1.4" />
<line x1="50.20" y1="489.60" x2="53.20" y2="489.60" stroke="#333" stroke-width="0.9" />
<text x="46.90" y="491.80" font-size="6.3" fill="#333" stroke="#333" stroke-width="0.18" text-anchor="end" >0</text>
<line x1="50.20" y1="481.60" x2="53.20" y2="481.60" stroke="#333" stroke-width="0.9" />
<text x="46.90" y="483.80" font-size="6.3" fill="#333" stroke="#333" stroke-width="0.18" text-anchor="end" >1</text>
<line x1="50.20" y1="473.60" x2="53.20" y2="473.60" stroke="#333" stroke-width="0.9" />
<text x="46.90" y="475.80" font-size="6.3" fill="#333" stroke="#333" stroke-width="0.18" text-anchor="end" >2</text>
<line x1="50.20" y1="465.60" x2="53.20" y2="465.60" stroke="#333" stroke-width="0.9" />
<text x="46.90" y="467.80" font-size="6.3" fill="#333" stroke="#333" stroke-width="0.18" text-anchor="end" >3</text>
<line x1="50.20" y1="457.60" x2="53.20" y2="457.60" stroke="#333" stroke-width="0.9" />
<text x="46.90" y="459.80" font-size="6.3" fill="#333" stroke="#333" stroke-width="0.18" text-anchor="end" >4</text>
<line x1="50.20" y1="449.60" x2="53.20" y2="449.60" stroke="#333" stroke-width="0.9" />
<text x="46.90" y="451.80" font-size="6.3" fill="#333" stroke="#333" stroke-width="0.18" text-anchor="end" >5</text>
<line x1="64.60" y1="491.60" x2="64.60" y2="494.40" stroke="#333" stroke-width="0.9" />
<line x1="83.50" y1="491.60" x2="83.50" y2="494.40" stroke="#333" stroke-width="0.9" />
<line x1="102.70" y1="491.60" x2="102.70" y2="494.40" stroke="#333" stroke-width="0.9" />
<text x="178.15" y="446.70" font-size="8.2" fill="#2a2a2a" stroke="#2a2a2a" stroke-width="0.12" text-anchor="middle" >CD27</text>
<defs><linearGradient id="sg42" gradientUnits="userSpaceOnUse" x1="158.80" y1="470.09" x2="158.80" y2="456.47"><stop offset="0" stop-color="#4ea076"/><stop offset="0.45" stop-color="#8c8c8c"/><stop offset="1" stop-color="#a9a9a9"/></linearGradient></defs>
<rect x="158.30" y="456.47" width="1.0" height="13.62" fill="url(#sg42)"/>
<path d="M159.62,468.59 L159.95,469.11 L160.31,469.63 L160.68,470.14 L161.08,470.66 L161.48,471.18 L161.90,471.70 L162.33,472.22 L162.76,472.73 L163.21,473.25 L163.66,473.77 L164.19,474.29 L164.78,474.81 L165.40,475.32 L166.00,475.84 L166.52,476.36 L166.93,476.88 L167.17,477.40 L167.19,477.91 L167.03,478.43 L166.73,478.95 L166.32,479.47 L165.83,479.98 L165.28,480.50 L164.71,481.02 L164.15,481.54 L163.60,482.06 L163.11,482.57 L162.65,483.09 L162.19,483.61 L161.71,484.13 L161.24,484.65 L160.79,485.16 L160.37,485.68 L159.99,486.20 L159.65,486.72 L159.36,487.24 L159.12,487.75 L158.92,488.27 L158.80,488.79 L158.80,488.79 L158.68,488.27 L158.48,487.75 L158.24,487.24 L157.95,486.72 L157.61,486.20 L157.23,485.68 L156.81,485.16 L156.36,484.65 L155.89,484.13 L155.41,483.61 L154.95,483.09 L154.49,482.57 L154.00,482.06 L153.45,481.54 L152.89,481.02 L152.32,480.50 L151.77,479.98 L151.28,479.47 L150.87,478.95 L150.57,478.43 L150.41,477.91 L150.43,477.40 L150.67,476.88 L151.08,476.36 L151.60,475.84 L152.20,475.32 L152.82,474.81 L153.41,474.29 L153.94,473.77 L154.39,473.25 L154.84,472.73 L155.27,472.22 L155.70,471.70 L156.12,471.18 L156.52,470.66 L156.92,470.14 L157.29,469.63 L157.65,469.11 L157.98,468.59 Z" fill="#33A86C" stroke="#4a4a4a" stroke-width="0.35" stroke-opacity="0.6" stroke-linejoin="round"/>
<defs><linearGradient id="sg43" gradientUnits="userSpaceOnUse" x1="177.90" y1="477.16" x2="177.90" y2="450.41"><stop offset="0" stop-color="#d7923e"/><stop offset="0.45" stop-color="#8c8c8c"/><stop offset="1" stop-color="#a9a9a9"/></linearGradient></defs>
<rect x="177.40" y="450.41" width="1.0" height="26.75" fill="url(#sg43)"/>
<path d="M178.72,475.66 L178.91,476.01 L179.12,476.36 L179.35,476.71 L179.59,477.06 L179.86,477.41 L180.14,477.76 L180.45,478.11 L180.77,478.46 L181.11,478.81 L181.47,479.16 L181.84,479.51 L182.24,479.86 L182.75,480.20 L183.35,480.55 L184.01,480.90 L184.68,481.25 L185.30,481.60 L185.83,481.95 L186.22,482.30 L186.40,482.65 L186.36,483.00 L186.20,483.35 L185.93,483.70 L185.57,484.05 L185.13,484.40 L184.64,484.75 L184.11,485.10 L183.55,485.45 L182.99,485.80 L182.43,486.15 L181.90,486.50 L181.39,486.85 L180.87,487.20 L180.31,487.55 L179.75,487.90 L179.19,488.25 L178.66,488.60 L178.20,488.95 L177.90,489.30 L177.90,489.30 L177.60,488.95 L177.14,488.60 L176.61,488.25 L176.05,487.90 L175.49,487.55 L174.93,487.20 L174.41,486.85 L173.90,486.50 L173.37,486.15 L172.81,485.80 L172.25,485.45 L171.69,485.10 L171.16,484.75 L170.67,484.40 L170.23,484.05 L169.87,483.70 L169.60,483.35 L169.44,483.00 L169.40,482.65 L169.58,482.30 L169.97,481.95 L170.50,481.60 L171.12,481.25 L171.79,480.90 L172.45,480.55 L173.05,480.20 L173.56,479.86 L173.96,479.51 L174.33,479.16 L174.69,478.81 L175.03,478.46 L175.35,478.11 L175.66,477.76 L175.94,477.41 L176.21,477.06 L176.45,476.71 L176.68,476.36 L176.89,476.01 L177.08,475.66 Z" fill="#F7941D" stroke="#4a4a4a" stroke-width="0.35" stroke-opacity="0.6" stroke-linejoin="round"/>
<defs><linearGradient id="sg44" gradientUnits="userSpaceOnUse" x1="197.10" y1="465.04" x2="197.10" y2="453.44"><stop offset="0" stop-color="#ba89b6"/><stop offset="0.45" stop-color="#8c8c8c"/><stop offset="1" stop-color="#a9a9a9"/></linearGradient></defs>
<rect x="196.60" y="453.44" width="1.0" height="11.60" fill="url(#sg44)"/>
<path d="M197.92,463.54 L198.34,464.16 L198.78,464.78 L199.25,465.40 L199.72,466.03 L200.20,466.65 L200.68,467.27 L201.15,467.89 L201.62,468.51 L202.08,469.13 L202.52,469.76 L203.00,470.38 L203.52,471.00 L204.03,471.62 L204.53,472.24 L204.96,472.86 L205.31,473.48 L205.53,474.11 L205.60,474.73 L205.49,475.35 L205.24,475.97 L204.87,476.59 L204.42,477.21 L203.92,477.84 L203.40,478.46 L202.89,479.08 L202.41,479.70 L201.93,480.32 L201.40,480.94 L200.84,481.56 L200.28,482.19 L199.73,482.81 L199.22,483.43 L198.75,484.05 L198.35,484.67 L198.00,485.29 L197.70,485.92 L197.44,486.54 L197.23,487.16 L197.10,487.78 L197.10,487.78 L196.97,487.16 L196.76,486.54 L196.50,485.92 L196.20,485.29 L195.85,484.67 L195.45,484.05 L194.98,483.43 L194.47,482.81 L193.92,482.19 L193.36,481.56 L192.80,480.94 L192.27,480.32 L191.79,479.70 L191.31,479.08 L190.80,478.46 L190.28,477.84 L189.78,477.21 L189.33,476.59 L188.96,475.97 L188.71,475.35 L188.60,474.73 L188.67,474.11 L188.89,473.48 L189.24,472.86 L189.67,472.24 L190.17,471.62 L190.68,471.00 L191.20,470.38 L191.68,469.76 L192.12,469.13 L192.58,468.51 L193.05,467.89 L193.52,467.27 L194.00,466.65 L194.48,466.03 L194.95,465.40 L195.42,464.78 L195.86,464.16 L196.28,463.54 Z" fill="#CE88C8" stroke="#4a4a4a" stroke-width="0.35" stroke-opacity="0.6" stroke-linejoin="round"/>
<line x1="147.40" y1="448.70" x2="147.40" y2="492.30" stroke="#333" stroke-width="1.4" />
<line x1="146.70" y1="491.60" x2="207.90" y2="491.60" stroke="#333" stroke-width="1.4" />
<line x1="144.40" y1="489.80" x2="147.40" y2="489.80" stroke="#333" stroke-width="0.9" />
<text x="141.10" y="492.00" font-size="6.3" fill="#333" stroke="#333" stroke-width="0.18" text-anchor="end" >0</text>
<line x1="144.40" y1="479.70" x2="147.40" y2="479.70" stroke="#333" stroke-width="0.9" />
<text x="141.10" y="481.90" font-size="6.3" fill="#333" stroke="#333" stroke-width="0.18" text-anchor="end" >1</text>
<line x1="144.40" y1="469.60" x2="147.40" y2="469.60" stroke="#333" stroke-width="0.9" />
<text x="141.10" y="471.80" font-size="6.3" fill="#333" stroke="#333" stroke-width="0.18" text-anchor="end" >2</text>
<line x1="144.40" y1="459.50" x2="147.40" y2="459.50" stroke="#333" stroke-width="0.9" />
<text x="141.10" y="461.70" font-size="6.3" fill="#333" stroke="#333" stroke-width="0.18" text-anchor="end" >3</text>
<line x1="144.40" y1="449.40" x2="147.40" y2="449.40" stroke="#333" stroke-width="0.9" />
<text x="141.10" y="451.60" font-size="6.3" fill="#333" stroke="#333" stroke-width="0.18" text-anchor="end" >4</text>
<line x1="158.80" y1="491.60" x2="158.80" y2="494.40" stroke="#333" stroke-width="0.9" />
<line x1="177.90" y1="491.60" x2="177.90" y2="494.40" stroke="#333" stroke-width="0.9" />
<line x1="197.10" y1="491.60" x2="197.10" y2="494.40" stroke="#333" stroke-width="0.9" />
<text x="274.20" y="446.70" font-size="8.2" fill="#2a2a2a" stroke="#2a2a2a" stroke-width="0.12" text-anchor="middle" >CD57</text>
<path d="M254.60,450.15 L254.65,451.16 L254.73,452.17 L254.83,453.17 L254.93,454.18 L255.03,455.18 L255.14,456.19 L255.24,457.20 L255.34,458.20 L255.43,459.21 L255.53,460.22 L255.63,461.22 L255.74,462.23 L255.86,463.24 L255.99,464.24 L256.15,465.25 L256.33,466.25 L256.55,467.26 L256.80,468.27 L257.09,469.27 L257.41,470.28 L257.76,471.29 L258.13,472.29 L258.55,473.30 L259.06,474.31 L259.63,475.31 L260.23,476.32 L260.82,477.32 L261.36,478.33 L261.81,479.34 L262.25,480.34 L262.67,481.35 L262.98,482.36 L263.10,483.36 L263.03,484.37 L262.84,485.37 L262.55,486.38 L261.82,487.39 L259.72,488.39 L254.60,489.40 L254.60,489.40 L249.48,488.39 L247.38,487.39 L246.65,486.38 L246.36,485.37 L246.17,484.37 L246.10,483.36 L246.22,482.36 L246.53,481.35 L246.95,480.34 L247.39,479.34 L247.84,478.33 L248.38,477.32 L248.97,476.32 L249.57,475.31 L250.14,474.31 L250.65,473.30 L251.07,472.29 L251.44,471.29 L251.79,470.28 L252.11,469.27 L252.40,468.27 L252.65,467.26 L252.87,466.25 L253.05,465.25 L253.21,464.24 L253.34,463.24 L253.46,462.23 L253.57,461.22 L253.67,460.22 L253.77,459.21 L253.86,458.20 L253.96,457.20 L254.06,456.19 L254.17,455.18 L254.27,454.18 L254.37,453.17 L254.47,452.17 L254.55,451.16 L254.60,450.15 Z" fill="#33A86C" stroke="#4a4a4a" stroke-width="0.35" stroke-opacity="0.6" stroke-linejoin="round"/>
<defs><linearGradient id="sg45" gradientUnits="userSpaceOnUse" x1="273.60" y1="477.37" x2="273.60" y2="450.15"><stop offset="0" stop-color="#d7923e"/><stop offset="0.45" stop-color="#8c8c8c"/><stop offset="1" stop-color="#a9a9a9"/></linearGradient></defs>
<rect x="273.10" y="450.15" width="1.0" height="27.21" fill="url(#sg45)"/>
<path d="M274.81,475.87 L276.07,476.21 L277.45,476.56 L278.76,476.91 L279.85,477.25 L280.57,477.60 L280.78,477.95 L280.71,478.30 L280.56,478.64 L280.33,478.99 L280.06,479.34 L279.75,479.68 L279.43,480.03 L279.11,480.38 L278.80,480.72 L278.36,481.07 L277.84,481.42 L277.34,481.77 L276.94,482.11 L276.71,482.46 L276.72,482.81 L277.09,483.15 L277.72,483.50 L278.50,483.85 L279.30,484.19 L279.97,484.54 L280.43,484.89 L280.88,485.24 L281.32,485.58 L281.70,485.93 L281.97,486.28 L282.10,486.62 L282.00,486.97 L281.60,487.32 L280.93,487.66 L280.05,488.01 L278.99,488.36 L277.81,488.71 L275.73,489.05 L273.60,489.40 L273.60,489.40 L271.47,489.05 L269.39,488.71 L268.21,488.36 L267.15,488.01 L266.27,487.66 L265.60,487.32 L265.20,486.97 L265.10,486.62 L265.23,486.28 L265.50,485.93 L265.88,485.58 L266.32,485.24 L266.77,484.89 L267.23,484.54 L267.90,484.19 L268.70,483.85 L269.48,483.50 L270.11,483.15 L270.48,482.81 L270.49,482.46 L270.26,482.11 L269.86,481.77 L269.36,481.42 L268.84,481.07 L268.40,480.72 L268.09,480.38 L267.77,480.03 L267.45,479.68 L267.14,479.34 L266.87,478.99 L266.64,478.64 L266.49,478.30 L266.42,477.95 L266.63,477.60 L267.35,477.25 L268.44,476.91 L269.75,476.56 L271.13,476.21 L272.39,475.87 Z" fill="#F7941D" stroke="#4a4a4a" stroke-width="0.35" stroke-opacity="0.6" stroke-linejoin="round"/>
<defs><linearGradient id="sg46" gradientUnits="userSpaceOnUse" x1="293.10" y1="478.72" x2="293.10" y2="467.75"><stop offset="0" stop-color="#ba89b6"/><stop offset="0.45" stop-color="#8c8c8c"/><stop offset="1" stop-color="#a9a9a9"/></linearGradient></defs>
<rect x="292.60" y="467.75" width="1.0" height="10.97" fill="url(#sg46)"/>
<path d="M293.92,477.22 L294.12,477.53 L294.34,477.84 L294.56,478.16 L294.80,478.47 L295.04,478.78 L295.29,479.09 L295.55,479.41 L295.82,479.72 L296.09,480.03 L296.37,480.34 L296.66,480.66 L296.95,480.97 L297.25,481.28 L297.58,481.59 L297.95,481.90 L298.35,482.22 L298.78,482.53 L299.22,482.84 L299.66,483.15 L300.09,483.47 L300.49,483.78 L300.85,484.09 L301.16,484.40 L301.39,484.72 L301.55,485.03 L301.60,485.34 L301.49,485.65 L301.18,485.96 L300.72,486.28 L300.14,486.59 L299.47,486.90 L298.77,487.21 L297.96,487.53 L296.65,487.84 L295.23,488.15 L294.11,488.46 L293.51,488.78 L293.22,489.09 L293.10,489.40 L293.10,489.40 L292.98,489.09 L292.69,488.78 L292.09,488.46 L290.97,488.15 L289.55,487.84 L288.24,487.53 L287.43,487.21 L286.73,486.90 L286.06,486.59 L285.48,486.28 L285.02,485.96 L284.71,485.65 L284.60,485.34 L284.65,485.03 L284.81,484.72 L285.04,484.40 L285.35,484.09 L285.71,483.78 L286.11,483.47 L286.54,483.15 L286.98,482.84 L287.42,482.53 L287.85,482.22 L288.25,481.90 L288.62,481.59 L288.95,481.28 L289.25,480.97 L289.54,480.66 L289.83,480.34 L290.11,480.03 L290.38,479.72 L290.65,479.41 L290.91,479.09 L291.16,478.78 L291.40,478.47 L291.64,478.16 L291.86,477.84 L292.08,477.53 L292.28,477.22 Z" fill="#CE88C8" stroke="#4a4a4a" stroke-width="0.35" stroke-opacity="0.6" stroke-linejoin="round"/>
<line x1="243.60" y1="448.70" x2="243.60" y2="492.30" stroke="#333" stroke-width="1.4" />
<line x1="242.90" y1="491.60" x2="303.80" y2="491.60" stroke="#333" stroke-width="1.4" />
<line x1="240.60" y1="489.40" x2="243.60" y2="489.40" stroke="#333" stroke-width="0.9" />
<text x="237.30" y="491.60" font-size="6.3" fill="#333" stroke="#333" stroke-width="0.18" text-anchor="end" >0</text>
<line x1="240.60" y1="475.87" x2="243.60" y2="475.87" stroke="#333" stroke-width="0.9" />
<text x="237.30" y="478.07" font-size="6.3" fill="#333" stroke="#333" stroke-width="0.18" text-anchor="end" >2</text>
<line x1="240.60" y1="462.33" x2="243.60" y2="462.33" stroke="#333" stroke-width="0.9" />
<text x="237.30" y="464.53" font-size="6.3" fill="#333" stroke="#333" stroke-width="0.18" text-anchor="end" >4</text>
<line x1="240.60" y1="448.80" x2="243.60" y2="448.80" stroke="#333" stroke-width="0.9" />
<text x="237.30" y="451.00" font-size="6.3" fill="#333" stroke="#333" stroke-width="0.18" text-anchor="end" >6</text>
<line x1="254.60" y1="491.60" x2="254.60" y2="494.40" stroke="#333" stroke-width="0.9" />
<line x1="273.60" y1="491.60" x2="273.60" y2="494.40" stroke="#333" stroke-width="0.9" />
<line x1="293.10" y1="491.60" x2="293.10" y2="494.40" stroke="#333" stroke-width="0.9" />
<text x="32.60" y="349.00" font-size="7.2" fill="#333" stroke="#333" stroke-width="0.12" text-anchor="middle" transform="rotate(-90 32.60 349.00)" textLength="48.00" lengthAdjust="spacingAndGlyphs" >Expression level</text>
<text x="67.20" y="500.60" font-size="6.8" fill="#333" stroke="#333" stroke-width="0.15" text-anchor="end" transform="rotate(-30.6 67.20 500.60)" textLength="9.80" lengthAdjust="spacingAndGlyphs" >NK</text>
<text x="86.10" y="500.60" font-size="6.8" fill="#333" stroke="#333" stroke-width="0.15" text-anchor="end" transform="rotate(-30.6 86.10 500.60)" textLength="48.50" lengthAdjust="spacingAndGlyphs" >EBV-infected NK</text>
<text x="105.30" y="500.60" font-size="6.8" fill="#333" stroke="#333" stroke-width="0.15" text-anchor="end" transform="rotate(-30.6 105.30 500.60)" textLength="45.50" lengthAdjust="spacingAndGlyphs" >CD56bright NK</text>
<text x="161.40" y="500.60" font-size="6.8" fill="#333" stroke="#333" stroke-width="0.15" text-anchor="end" transform="rotate(-30.6 161.40 500.60)" textLength="9.80" lengthAdjust="spacingAndGlyphs" >NK</text>
<text x="180.50" y="500.60" font-size="6.8" fill="#333" stroke="#333" stroke-width="0.15" text-anchor="end" transform="rotate(-30.6 180.50 500.60)" textLength="48.50" lengthAdjust="spacingAndGlyphs" >EBV-infected NK</text>
<text x="199.70" y="500.60" font-size="6.8" fill="#333" stroke="#333" stroke-width="0.15" text-anchor="end" transform="rotate(-30.6 199.70 500.60)" textLength="45.50" lengthAdjust="spacingAndGlyphs" >CD56bright NK</text>
<text x="257.20" y="500.60" font-size="6.8" fill="#333" stroke="#333" stroke-width="0.15" text-anchor="end" transform="rotate(-30.6 257.20 500.60)" textLength="9.80" lengthAdjust="spacingAndGlyphs" >NK</text>
<text x="276.20" y="500.60" font-size="6.8" fill="#333" stroke="#333" stroke-width="0.15" text-anchor="end" transform="rotate(-30.6 276.20 500.60)" textLength="48.50" lengthAdjust="spacingAndGlyphs" >EBV-infected NK</text>
<text x="295.70" y="500.60" font-size="6.8" fill="#333" stroke="#333" stroke-width="0.15" text-anchor="end" transform="rotate(-30.6 295.70 500.60)" textLength="45.50" lengthAdjust="spacingAndGlyphs" >CD56bright NK</text>
<defs><linearGradient id="plasmaE" x1="0" y1="1" x2="0" y2="0"><stop offset="0" stop-color="#3a3088"/><stop offset="0.12" stop-color="#483494"/><stop offset="0.15" stop-color="#a83aa8"/><stop offset="0.45" stop-color="#d84898"/><stop offset="0.75" stop-color="#f29a50"/><stop offset="1" stop-color="#eee030"/></linearGradient></defs>
<text x="341.60" y="201.00" font-size="11.2" fill="#111" font-weight="bold" textLength="6.40" lengthAdjust="spacingAndGlyphs" >E</text>
<text x="431.00" y="201.90" font-size="8.2" fill="#2a2a2a" stroke="#2a2a2a" stroke-width="0.2" text-anchor="middle" textLength="84.60" lengthAdjust="spacingAndGlyphs" >CD49⁺ pbNK up gene</text>
<line x1="375.80" y1="204.40" x2="375.80" y2="325.15" stroke="#333" stroke-width="1.3" />
<line x1="375.15" y1="324.50" x2="484.90" y2="324.50" stroke="#333" stroke-width="1.3" />
<line x1="373.60" y1="209.50" x2="375.80" y2="209.50" stroke="#333" stroke-width="0.8" />
<text x="370.20" y="212.00" font-size="7.0" fill="#333" stroke="#333" stroke-width="0.18" text-anchor="end" >10</text>
<line x1="373.60" y1="241.75" x2="375.80" y2="241.75" stroke="#333" stroke-width="0.8" />
<text x="370.20" y="244.25" font-size="7.0" fill="#333" stroke="#333" stroke-width="0.18" text-anchor="end" >5</text>
<line x1="373.60" y1="274.00" x2="375.80" y2="274.00" stroke="#333" stroke-width="0.8" />
<text x="370.20" y="276.50" font-size="7.0" fill="#333" stroke="#333" stroke-width="0.18" text-anchor="end" >0</text>
<line x1="373.60" y1="306.25" x2="375.80" y2="306.25" stroke="#333" stroke-width="0.8" />
<text x="370.20" y="308.75" font-size="7.0" fill="#333" stroke="#333" stroke-width="0.18" text-anchor="end" >−5</text>
<line x1="389.50" y1="324.50" x2="389.50" y2="326.70" stroke="#333" stroke-width="0.8" />
<text x="389.50" y="336.80" font-size="7.0" fill="#333" stroke="#333" stroke-width="0.18" text-anchor="middle" >−10</text>
<line x1="410.85" y1="324.50" x2="410.85" y2="326.70" stroke="#333" stroke-width="0.8" />
<text x="410.85" y="336.80" font-size="7.0" fill="#333" stroke="#333" stroke-width="0.18" text-anchor="middle" >−5</text>
<line x1="432.20" y1="324.50" x2="432.20" y2="326.70" stroke="#333" stroke-width="0.8" />
<text x="432.20" y="336.80" font-size="7.0" fill="#333" stroke="#333" stroke-width="0.18" text-anchor="middle" >0</text>
<line x1="453.55" y1="324.50" x2="453.55" y2="326.70" stroke="#333" stroke-width="0.8" />
<text x="453.55" y="336.80" font-size="7.0" fill="#333" stroke="#333" stroke-width="0.18" text-anchor="middle" >5</text>
<line x1="474.90" y1="324.50" x2="474.90" y2="326.70" stroke="#333" stroke-width="0.8" />
<text x="474.90" y="336.80" font-size="7.0" fill="#333" stroke="#333" stroke-width="0.18" text-anchor="middle" >10</text>
<text x="430.20" y="347.90" font-size="8.8" fill="#333" stroke="#333" stroke-width="0.15" text-anchor="middle" textLength="26.60" lengthAdjust="spacingAndGlyphs" >UMAP_1</text>
<text x="358.70" y="264.50" font-size="8.8" fill="#333" stroke="#333" stroke-width="0.15" text-anchor="middle" transform="rotate(-90 358.70 264.50)" textLength="26.00" lengthAdjust="spacingAndGlyphs" >UMAP_2</text>
<defs><clipPath id="clip1"><path d="M474.00,244.20 C475.30,244.73 477.13,246.93 477.80,249.50 C478.47,252.07 478.35,256.23 478.00,259.60 C477.65,262.97 477.00,266.63 475.70,269.70 C474.40,272.77 472.72,275.95 470.20,278.00 C467.68,280.05 463.48,281.25 460.60,282.00 C457.72,282.75 455.47,282.17 452.90,282.50 C450.33,282.83 447.77,283.13 445.20,284.00 C442.63,284.87 439.73,286.45 437.50,287.70 C435.27,288.95 433.72,290.22 431.80,291.50 C429.88,292.78 427.93,293.78 426.00,295.40 C424.07,297.02 421.83,299.57 420.20,301.20 C418.57,302.83 416.32,305.48 416.20,305.20 C416.08,304.92 418.03,301.62 419.50,299.50 C420.97,297.38 423.33,294.50 425.00,292.50 C426.67,290.50 428.40,289.92 429.50,287.50 C430.60,285.08 430.93,281.17 431.60,278.00 C432.27,274.83 432.52,270.50 433.50,268.50 C434.48,266.50 436.03,266.65 437.50,266.00 C438.97,265.35 440.38,265.15 442.30,264.60 C444.22,264.05 446.58,263.97 449.00,262.70 C451.42,261.43 454.22,258.95 456.80,257.00 C459.38,255.05 462.30,252.78 464.50,251.00 C466.70,249.22 468.42,247.43 470.00,246.30 C471.58,245.17 472.70,243.67 474.00,244.20 Z"/></clipPath><filter id="bl1" x="-20%" y="-20%" width="140%" height="140%"><feGaussianBlur stdDeviation="2.2"/></filter></defs>
<defs><filter id="fE1r" color-interpolation-filters="sRGB" filterUnits="userSpaceOnUse" x="405" y="230" width="80" height="82">
<feTurbulence type="fractalNoise" baseFrequency="0.55" numOctaves="2" seed="12" result="d"/>
<feDisplacementMap in="SourceGraphic" in2="d" scale="5" xChannelSelector="R" yChannelSelector="G"/></filter><filter id="fE1w" color-interpolation-filters="sRGB" filterUnits="userSpaceOnUse" x="405" y="230" width="80" height="82">
<feTurbulence type="fractalNoise" baseFrequency="0.4" numOctaves="2" seed="22" result="n"/>
<feColorMatrix in="n" type="matrix" values="0 0 0 0 1  0 0 0 0 1  0 0 0 0 1  -9 0 0 0 3.06" result="w"/>
<feComposite in="w" in2="SourceAlpha" operator="in"/></filter></defs>
<g filter="url(#fE1r)">
<path d="M474.00,244.20 C475.30,244.73 477.13,246.93 477.80,249.50 C478.47,252.07 478.35,256.23 478.00,259.60 C477.65,262.97 477.00,266.63 475.70,269.70 C474.40,272.77 472.72,275.95 470.20,278.00 C467.68,280.05 463.48,281.25 460.60,282.00 C457.72,282.75 455.47,282.17 452.90,282.50 C450.33,282.83 447.77,283.13 445.20,284.00 C442.63,284.87 439.73,286.45 437.50,287.70 C435.27,288.95 433.72,290.22 431.80,291.50 C429.88,292.78 427.93,293.78 426.00,295.40 C424.07,297.02 421.83,299.57 420.20,301.20 C418.57,302.83 416.32,305.48 416.20,305.20 C416.08,304.92 418.03,301.62 419.50,299.50 C420.97,297.38 423.33,294.50 425.00,292.50 C426.67,290.50 428.40,289.92 429.50,287.50 C430.60,285.08 430.93,281.17 431.60,278.00 C432.27,274.83 432.52,270.50 433.50,268.50 C434.48,266.50 436.03,266.65 437.50,266.00 C438.97,265.35 440.38,265.15 442.30,264.60 C444.22,264.05 446.58,263.97 449.00,262.70 C451.42,261.43 454.22,258.95 456.80,257.00 C459.38,255.05 462.30,252.78 464.50,251.00 C466.70,249.22 468.42,247.43 470.00,246.30 C471.58,245.17 472.70,243.67 474.00,244.20 Z" fill="#F07E6C" />
<g clip-path="url(#clip1)"><g filter="url(#bl1)">
<ellipse cx="464" cy="264" rx="13" ry="7" transform="rotate(-40 464 264)" fill="#F8BC42"/>
<ellipse cx="450" cy="273" rx="8" ry="5" transform="rotate(-30 450 273)" fill="#F4A650"/>
<ellipse cx="473.5" cy="248.5" rx="5.5" ry="4.5" fill="#A83CA0"/>
<ellipse cx="440" cy="280" rx="6" ry="4" fill="#EE7070"/>
</g></g>
<path d="M474.00,244.20 C475.30,244.73 477.13,246.93 477.80,249.50 C478.47,252.07 478.35,256.23 478.00,259.60 C477.65,262.97 477.00,266.63 475.70,269.70 C474.40,272.77 472.72,275.95 470.20,278.00 C467.68,280.05 463.48,281.25 460.60,282.00 C457.72,282.75 455.47,282.17 452.90,282.50 C450.33,282.83 447.77,283.13 445.20,284.00 C442.63,284.87 439.73,286.45 437.50,287.70 C435.27,288.95 433.72,290.22 431.80,291.50 C429.88,292.78 427.93,293.78 426.00,295.40 C424.07,297.02 421.83,299.57 420.20,301.20 C418.57,302.83 416.32,305.48 416.20,305.20 C416.08,304.92 418.03,301.62 419.50,299.50 C420.97,297.38 423.33,294.50 425.00,292.50 C426.67,290.50 428.40,289.92 429.50,287.50 C430.60,285.08 430.93,281.17 431.60,278.00 C432.27,274.83 432.52,270.50 433.50,268.50 C434.48,266.50 436.03,266.65 437.50,266.00 C438.97,265.35 440.38,265.15 442.30,264.60 C444.22,264.05 446.58,263.97 449.00,262.70 C451.42,261.43 454.22,258.95 456.80,257.00 C459.38,255.05 462.30,252.78 464.50,251.00 C466.70,249.22 468.42,247.43 470.00,246.30 C471.58,245.17 472.70,243.67 474.00,244.20 Z" fill="#fff" filter="url(#fE1w)"/>
</g>
<line x1="459.80" y1="280.00" x2="459.80" y2="288.50" stroke="#503890" stroke-width="1.8" />
<circle cx="431.6" cy="271.9" r="0.9" fill="#604090"/>
<rect x="489.0" y="253.0" width="4.2" height="22.3" fill="url(#plasmaE)"/>
<text x="494.60" y="257.70" font-size="5.6" fill="#444" >0.2</text>
<text x="494.60" y="263.50" font-size="5.6" fill="#444" >0.1</text>
<text x="494.60" y="269.30" font-size="5.6" fill="#444" >0.0</text>
<text x="494.60" y="275.10" font-size="5.6" fill="#444" >−0.1</text>
<text x="431.00" y="366.60" font-size="8.2" fill="#2a2a2a" stroke="#2a2a2a" stroke-width="0.2" text-anchor="middle" textLength="95.60" lengthAdjust="spacingAndGlyphs" >CD49⁺ pbNK down gene</text>
<line x1="375.80" y1="369.10" x2="375.80" y2="489.85" stroke="#333" stroke-width="1.3" />
<line x1="375.15" y1="489.20" x2="484.90" y2="489.20" stroke="#333" stroke-width="1.3" />
<line x1="373.60" y1="374.20" x2="375.80" y2="374.20" stroke="#333" stroke-width="0.8" />
<text x="370.20" y="376.70" font-size="7.0" fill="#333" stroke="#333" stroke-width="0.18" text-anchor="end" >10</text>
<line x1="373.60" y1="406.45" x2="375.80" y2="406.45" stroke="#333" stroke-width="0.8" />
<text x="370.20" y="408.95" font-size="7.0" fill="#333" stroke="#333" stroke-width="0.18" text-anchor="end" >5</text>
<line x1="373.60" y1="438.70" x2="375.80" y2="438.70" stroke="#333" stroke-width="0.8" />
<text x="370.20" y="441.20" font-size="7.0" fill="#333" stroke="#333" stroke-width="0.18" text-anchor="end" >0</text>
<line x1="373.60" y1="470.95" x2="375.80" y2="470.95" stroke="#333" stroke-width="0.8" />
<text x="370.20" y="473.45" font-size="7.0" fill="#333" stroke="#333" stroke-width="0.18" text-anchor="end" >−5</text>
<line x1="389.50" y1="489.20" x2="389.50" y2="491.40" stroke="#333" stroke-width="0.8" />
<text x="389.50" y="501.50" font-size="7.0" fill="#333" stroke="#333" stroke-width="0.18" text-anchor="middle" >−10</text>
<line x1="410.85" y1="489.20" x2="410.85" y2="491.40" stroke="#333" stroke-width="0.8" />
<text x="410.85" y="501.50" font-size="7.0" fill="#333" stroke="#333" stroke-width="0.18" text-anchor="middle" >−5</text>
<line x1="432.20" y1="489.20" x2="432.20" y2="491.40" stroke="#333" stroke-width="0.8" />
<text x="432.20" y="501.50" font-size="7.0" fill="#333" stroke="#333" stroke-width="0.18" text-anchor="middle" >0</text>
<line x1="453.55" y1="489.20" x2="453.55" y2="491.40" stroke="#333" stroke-width="0.8" />
<text x="453.55" y="501.50" font-size="7.0" fill="#333" stroke="#333" stroke-width="0.18" text-anchor="middle" >5</text>
<line x1="474.90" y1="489.20" x2="474.90" y2="491.40" stroke="#333" stroke-width="0.8" />
<text x="474.90" y="501.50" font-size="7.0" fill="#333" stroke="#333" stroke-width="0.18" text-anchor="middle" >10</text>
<text x="430.20" y="512.60" font-size="8.8" fill="#333" stroke="#333" stroke-width="0.15" text-anchor="middle" textLength="26.60" lengthAdjust="spacingAndGlyphs" >UMAP_1</text>
<text x="358.70" y="429.20" font-size="8.8" fill="#333" stroke="#333" stroke-width="0.15" text-anchor="middle" transform="rotate(-90 358.70 429.20)" textLength="26.00" lengthAdjust="spacingAndGlyphs" >UMAP_2</text>
<defs><clipPath id="clip2"><path d="M474.00,408.90 C475.30,409.43 477.13,411.63 477.80,414.20 C478.47,416.77 478.35,420.93 478.00,424.30 C477.65,427.67 477.00,431.33 475.70,434.40 C474.40,437.47 472.72,440.65 470.20,442.70 C467.68,444.75 463.48,445.95 460.60,446.70 C457.72,447.45 455.47,446.87 452.90,447.20 C450.33,447.53 447.77,447.83 445.20,448.70 C442.63,449.57 439.73,451.15 437.50,452.40 C435.27,453.65 433.72,454.92 431.80,456.20 C429.88,457.48 427.93,458.48 426.00,460.10 C424.07,461.72 421.83,464.27 420.20,465.90 C418.57,467.53 416.32,470.18 416.20,469.90 C416.08,469.62 418.03,466.32 419.50,464.20 C420.97,462.08 423.33,459.20 425.00,457.20 C426.67,455.20 428.40,454.62 429.50,452.20 C430.60,449.78 430.93,445.87 431.60,442.70 C432.27,439.53 432.52,435.20 433.50,433.20 C434.48,431.20 436.03,431.35 437.50,430.70 C438.97,430.05 440.38,429.85 442.30,429.30 C444.22,428.75 446.58,428.67 449.00,427.40 C451.42,426.13 454.22,423.65 456.80,421.70 C459.38,419.75 462.30,417.48 464.50,415.70 C466.70,413.92 468.42,412.13 470.00,411.00 C471.58,409.87 472.70,408.37 474.00,408.90 Z"/></clipPath><filter id="bl2" x="-20%" y="-20%" width="140%" height="140%"><feGaussianBlur stdDeviation="2.2"/></filter></defs>
<defs><filter id="fE2r" color-interpolation-filters="sRGB" filterUnits="userSpaceOnUse" x="405" y="394.7" width="80" height="82">
<feTurbulence type="fractalNoise" baseFrequency="0.55" numOctaves="2" seed="13" result="d"/>
<feDisplacementMap in="SourceGraphic" in2="d" scale="5" xChannelSelector="R" yChannelSelector="G"/></filter><filter id="fE2w" color-interpolation-filters="sRGB" filterUnits="userSpaceOnUse" x="405" y="394.7" width="80" height="82">
<feTurbulence type="fractalNoise" baseFrequency="0.4" numOctaves="2" seed="23" result="n"/>
<feColorMatrix in="n" type="matrix" values="0 0 0 0 1  0 0 0 0 1  0 0 0 0 1  -9 0 0 0 3.06" result="w"/>
<feComposite in="w" in2="SourceAlpha" operator="in"/></filter></defs>
<g filter="url(#fE2r)">
<path d="M474.00,408.90 C475.30,409.43 477.13,411.63 477.80,414.20 C478.47,416.77 478.35,420.93 478.00,424.30 C477.65,427.67 477.00,431.33 475.70,434.40 C474.40,437.47 472.72,440.65 470.20,442.70 C467.68,444.75 463.48,445.95 460.60,446.70 C457.72,447.45 455.47,446.87 452.90,447.20 C450.33,447.53 447.77,447.83 445.20,448.70 C442.63,449.57 439.73,451.15 437.50,452.40 C435.27,453.65 433.72,454.92 431.80,456.20 C429.88,457.48 427.93,458.48 426.00,460.10 C424.07,461.72 421.83,464.27 420.20,465.90 C418.57,467.53 416.32,470.18 416.20,469.90 C416.08,469.62 418.03,466.32 419.50,464.20 C420.97,462.08 423.33,459.20 425.00,457.20 C426.67,455.20 428.40,454.62 429.50,452.20 C430.60,449.78 430.93,445.87 431.60,442.70 C432.27,439.53 432.52,435.20 433.50,433.20 C434.48,431.20 436.03,431.35 437.50,430.70 C438.97,430.05 440.38,429.85 442.30,429.30 C444.22,428.75 446.58,428.67 449.00,427.40 C451.42,426.13 454.22,423.65 456.80,421.70 C459.38,419.75 462.30,417.48 464.50,415.70 C466.70,413.92 468.42,412.13 470.00,411.00 C471.58,409.87 472.70,408.37 474.00,408.90 Z" fill="#A8469E" />
<g clip-path="url(#clip2)"><g filter="url(#bl2)">
<ellipse cx="466" cy="424.7" rx="9" ry="13" transform="rotate(40 466 424.7)" fill="#D8589A"/>
<ellipse cx="472" cy="416.7" rx="8.5" ry="12" transform="rotate(35 472 416.7)" fill="#EE8060"/>
<ellipse cx="462" cy="434.7" rx="7" ry="5" fill="#8A3FA8"/>
<ellipse cx="435" cy="449.7" rx="7" ry="5" fill="#B85098"/>
<ellipse cx="448" cy="438.7" rx="6" ry="4" fill="#C05898"/>
</g></g>
<path d="M474.00,408.90 C475.30,409.43 477.13,411.63 477.80,414.20 C478.47,416.77 478.35,420.93 478.00,424.30 C477.65,427.67 477.00,431.33 475.70,434.40 C474.40,437.47 472.72,440.65 470.20,442.70 C467.68,444.75 463.48,445.95 460.60,446.70 C457.72,447.45 455.47,446.87 452.90,447.20 C450.33,447.53 447.77,447.83 445.20,448.70 C442.63,449.57 439.73,451.15 437.50,452.40 C435.27,453.65 433.72,454.92 431.80,456.20 C429.88,457.48 427.93,458.48 426.00,460.10 C424.07,461.72 421.83,464.27 420.20,465.90 C418.57,467.53 416.32,470.18 416.20,469.90 C416.08,469.62 418.03,466.32 419.50,464.20 C420.97,462.08 423.33,459.20 425.00,457.20 C426.67,455.20 428.40,454.62 429.50,452.20 C430.60,449.78 430.93,445.87 431.60,442.70 C432.27,439.53 432.52,435.20 433.50,433.20 C434.48,431.20 436.03,431.35 437.50,430.70 C438.97,430.05 440.38,429.85 442.30,429.30 C444.22,428.75 446.58,428.67 449.00,427.40 C451.42,426.13 454.22,423.65 456.80,421.70 C459.38,419.75 462.30,417.48 464.50,415.70 C466.70,413.92 468.42,412.13 470.00,411.00 C471.58,409.87 472.70,408.37 474.00,408.90 Z" fill="#fff" filter="url(#fE2w)"/>
</g>
<line x1="459.80" y1="444.70" x2="459.80" y2="451.70" stroke="#F0A040" stroke-width="1.8" />
<rect x="489.0" y="417.4" width="4.2" height="22.0" fill="url(#plasmaE)"/>
<text x="494.60" y="421.20" font-size="5.0" fill="#444" >0.15</text>
<text x="494.60" y="425.95" font-size="5.0" fill="#444" >0.10</text>
<text x="494.60" y="430.70" font-size="5.0" fill="#444" >0.05</text>
<text x="494.60" y="435.45" font-size="5.0" fill="#444" >0.00</text>
<text x="494.60" y="440.20" font-size="5.0" fill="#444" >−0.05</text>
<defs><filter id="fb3" x="-50%" y="-50%" width="200%" height="200%"><feGaussianBlur stdDeviation="3"/></filter><filter id="fb4" x="-50%" y="-50%" width="200%" height="200%"><feGaussianBlur stdDeviation="4"/></filter><filter id="fb15" x="-50%" y="-50%" width="200%" height="200%"><feGaussianBlur stdDeviation="1.5"/></filter><filter id="fb1" x="-50%" y="-50%" width="200%" height="200%"><feGaussianBlur stdDeviation="1"/></filter><filter id="fb07" x="-50%" y="-50%" width="200%" height="200%"><feGaussianBlur stdDeviation="0.8"/></filter><filter id="fb05" x="-50%" y="-50%" width="200%" height="200%"><feGaussianBlur stdDeviation="0.6"/></filter><filter id="nucd" color-interpolation-filters="sRGB" x="-10%" y="-10%" width="120%" height="120%"><feTurbulence type="fractalNoise" baseFrequency="0.15" numOctaves="1" seed="8" result="t"/><feDisplacementMap in="SourceGraphic" in2="t" scale="4.5" xChannelSelector="R" yChannelSelector="G"/><feGaussianBlur stdDeviation="0.6"/></filter></defs>
<text x="8.30" y="543.00" font-size="11.0" fill="#111" font-weight="bold" textLength="5.60" lengthAdjust="spacingAndGlyphs" >F</text>
<text x="109.50" y="543.20" font-size="7.6" fill="#333" stroke="#333" stroke-width="0.15" text-anchor="middle" textLength="98.60" lengthAdjust="spacingAndGlyphs" >Human stomach (K_C_01)</text>
<text x="259.30" y="543.20" font-size="7.6" fill="#333" stroke="#333" stroke-width="0.15" text-anchor="middle" textLength="105.20" lengthAdjust="spacingAndGlyphs" >Human skin lesion (T_H_01)</text>
<text x="406.60" y="543.20" font-size="7.6" fill="#333" stroke="#333" stroke-width="0.15" text-anchor="middle" textLength="98.60" lengthAdjust="spacingAndGlyphs" >PDX mouse liver (S_C_10)</text>
<clipPath id="c1"><rect x="39.2" y="549.2" width="140.10000000000002" height="79.59999999999991"/></clipPath>
<g clip-path="url(#c1)">
<rect x="39.2" y="549.2" width="140.10000000000002" height="79.59999999999991" fill="#E8B2C8"/>
<g filter="url(#fb4)">
<ellipse cx="48.0" cy="560.0" rx="12.0" ry="12.0" fill="#B89CD2"/>
<ellipse cx="70.0" cy="558.0" rx="9.0" ry="7.0" fill="#F6E6EE"/>
<ellipse cx="88.0" cy="564.0" rx="8.0" ry="10.0" fill="#D4B6DC"/>
<ellipse cx="78.0" cy="610.0" rx="16.0" ry="12.0" fill="#F0D2E2"/>
<ellipse cx="76.0" cy="612.0" rx="8.0" ry="7.0" fill="#D2BADF"/>
<ellipse cx="58.0" cy="600.0" rx="7.0" ry="6.0" fill="#F4DCE8"/>
<ellipse cx="150.0" cy="570.0" rx="14.0" ry="9.0" fill="#F4D8DC"/>
<ellipse cx="163.0" cy="582.0" rx="9.0" ry="7.0" fill="#F4D2C8"/>
<ellipse cx="140.0" cy="590.0" rx="9.0" ry="8.0" fill="#DCC2E0"/>
<ellipse cx="160.0" cy="612.0" rx="13.0" ry="10.0" fill="#E6C2D8"/>
<ellipse cx="172.0" cy="600.0" rx="6.0" ry="10.0" fill="#D8BCE0"/>
<ellipse cx="132.0" cy="560.0" rx="8.0" ry="7.0" fill="#EEC8DA"/>
<ellipse cx="120.0" cy="604.0" rx="10.0" ry="14.0" fill="#E6A0C0"/>
</g>
<filter id="n1a" color-interpolation-filters="sRGB" filterUnits="userSpaceOnUse" x="39.2" y="549.2" width="140.10000000000002" height="79.59999999999991"><feTurbulence type="fractalNoise" baseFrequency="0.06" numOctaves="2" seed="3"/><feColorMatrix type="matrix" values="0 0 0 0 0.769 0 0 0 0 0.659 0 0 0 0 0.847 2.4 0 0 0 -1.2"/></filter>
<rect x="39.2" y="549.2" width="140.10000000000002" height="79.59999999999991" fill="#000" filter="url(#n1a)"/>
<filter id="n1b" color-interpolation-filters="sRGB" filterUnits="userSpaceOnUse" x="39.2" y="549.2" width="140.10000000000002" height="79.59999999999991"><feTurbulence type="fractalNoise" baseFrequency="0.08" numOctaves="2" seed="11"/><feColorMatrix type="matrix" values="0 0 0 0 0.984 0 0 0 0 0.949 0 0 0 0 0.965 2.6 0 0 0 -1.12"/></filter>
<rect x="39.2" y="549.2" width="140.10000000000002" height="79.59999999999991" fill="#000" filter="url(#n1b)"/>
<filter id="n1m" color-interpolation-filters="sRGB" filterUnits="userSpaceOnUse" x="39.2" y="549.2" width="140.10000000000002" height="79.59999999999991"><feTurbulence type="turbulence" baseFrequency="0.034" numOctaves="1" seed="5"/><feColorMatrix type="matrix" values="0 0 0 0 0.863 0 0 0 0 0.298 0 0 0 0 0.502 -6 0 0 0 0.7"/><feGaussianBlur stdDeviation="0.8"/></filter>
<rect x="39.2" y="549.2" width="140.10000000000002" height="79.59999999999991" fill="#000" filter="url(#n1m)"/>
<g filter="url(#fb4)" opacity="0.4">
<ellipse cx="162.0" cy="586.0" rx="20.0" ry="42.0" fill="#F6E0E8"/>
<ellipse cx="72.0" cy="612.0" rx="14.0" ry="12.0" fill="#F6E2EC"/>
</g>
<g filter="url(#fb1)">
<ellipse cx="41.5" cy="600.0" rx="3.2" ry="27.0" fill="#DA3A72"/>
<ellipse cx="47.0" cy="568.0" rx="2.5" ry="8.0" fill="#DE5084"/>
<ellipse cx="127.0" cy="615.0" rx="8.0" ry="11.0" fill="#DA3060"/>
<ellipse cx="100.0" cy="588.0" rx="5.0" ry="17.0" fill="#FAF0F4"/>
<ellipse cx="113.0" cy="566.0" rx="3.0" ry="7.0" fill="#E2588A"/>
<ellipse cx="92.0" cy="560.0" rx="4.0" ry="8.0" fill="#F8EEF2"/>
<ellipse cx="43.0" cy="596.0" rx="2.2" ry="4.0" fill="#F8EEF2"/>
<ellipse cx="118.0" cy="582.0" rx="4.0" ry="8.0" fill="#E04878"/>
<ellipse cx="112.0" cy="600.0" rx="3.0" ry="8.0" fill="#F8EEF2"/>
</g>
<g filter="url(#nucd)">
<ellipse cx="102.2" cy="556.5" rx="4.0" ry="4.8" fill="#961A2A"/>
<ellipse cx="94.0" cy="578.0" rx="4.0" ry="4.5" fill="#9C162A"/>
<ellipse cx="102.5" cy="585.0" rx="4.8" ry="4.8" fill="#8C1626"/>
<ellipse cx="110.4" cy="573.0" rx="3.2" ry="3.8" fill="#A41E2E"/>
<ellipse cx="103.6" cy="597.2" rx="3.5" ry="4.2" fill="#941626"/>
<ellipse cx="105.0" cy="609.5" rx="3.0" ry="3.6" fill="#96162E"/>
<ellipse cx="124.0" cy="592.3" rx="4.2" ry="4.2" fill="#9C1A26"/>
<ellipse cx="119.0" cy="609.0" rx="4.2" ry="4.2" fill="#B42C20"/>
<ellipse cx="127.4" cy="615.9" rx="4.0" ry="4.4" fill="#B41630"/>
<ellipse cx="142.0" cy="602.7" rx="3.6" ry="3.6" fill="#941626"/>
<ellipse cx="146.8" cy="614.5" rx="3.6" ry="3.6" fill="#9C1E26"/>
<ellipse cx="135.0" cy="557.0" rx="3.0" ry="3.0" fill="#AC3C4C"/>
<ellipse cx="124.6" cy="622.8" rx="3.4" ry="3.4" fill="#BC1E36"/>
<ellipse cx="98.0" cy="592.0" rx="3.0" ry="3.0" fill="#AC2636"/>
<ellipse cx="112.0" cy="590.0" rx="3.0" ry="3.0" fill="#B43040"/>
<ellipse cx="132.0" cy="605.0" rx="2.5" ry="2.5" fill="#B42838"/>
<ellipse cx="99.0" cy="581.0" rx="3.0" ry="3.5" fill="#8A1E2C"/>
<ellipse cx="108.0" cy="580.0" rx="3.0" ry="3.0" fill="#962030"/>
<ellipse cx="115.0" cy="597.0" rx="3.0" ry="3.0" fill="#A02434"/>
<ellipse cx="108.0" cy="619.0" rx="2.6" ry="2.6" fill="#A02434"/>
<ellipse cx="119.0" cy="572.0" rx="2.5" ry="3.0" fill="#9A2030"/>
<ellipse cx="97.0" cy="571.0" rx="2.5" ry="2.5" fill="#A02838"/>
</g>
</g>
<rect x="39.2" y="549.2" width="140.10000000000002" height="79.59999999999991" fill="none" stroke="#999" stroke-width="0.8"/>
<clipPath id="c2"><rect x="189.0" y="549.2" width="141.0" height="79.59999999999991"/></clipPath>
<g clip-path="url(#c2)">
<rect x="189.0" y="549.2" width="141.0" height="79.59999999999991" fill="#E4E8EE"/>
<filter id="n2a" color-interpolation-filters="sRGB" filterUnits="userSpaceOnUse" x="189.0" y="549.2" width="141.0" height="79.59999999999991"><feTurbulence type="fractalNoise" baseFrequency="0.06" numOctaves="2" seed="5"/><feColorMatrix type="matrix" values="0 0 0 0 0.933 0 0 0 0 0.875 0 0 0 0 0.839 2.4 0 0 0 -1.0"/></filter>
<rect x="189.0" y="549.2" width="141.0" height="79.59999999999991" fill="#000" filter="url(#n2a)"/>
<g filter="url(#fb3)">
<ellipse cx="252.0" cy="590.0" rx="14.0" ry="42.0" fill="#B8A0C8"/>
<ellipse cx="262.0" cy="575.0" rx="10.0" ry="30.0" fill="#9C80B0"/>
<ellipse cx="240.0" cy="570.0" rx="8.0" ry="15.0" fill="#C8B4D0"/>
<ellipse cx="245.0" cy="605.0" rx="10.0" ry="14.0" fill="#9C88B8"/>
<ellipse cx="258.0" cy="600.0" rx="8.0" ry="20.0" fill="#9870A0"/>
<ellipse cx="270.0" cy="565.0" rx="6.0" ry="16.0" fill="#A86890"/>
</g>
<g filter="url(#fb1)">
<path d="M288,548 L303,548 L286,630 L272,630 Z" fill="#DA4C7A" opacity="0.9"/>
<path d="M327,568 L331,566 L331,598 L313,630 L307,630 L321,606 Z" fill="#E0628A"/>
<path d="M296,548 L299,548 L283,630 L280,630 Z" fill="#EC88A8" opacity="0.6"/>
<ellipse cx="270.0" cy="600.0" rx="8.0" ry="22.0" fill="#D45080" transform="rotate(-10 270.0 600.0)"/>
<ellipse cx="255.0" cy="614.0" rx="7.0" ry="9.0" fill="#C44C7C"/>
<ellipse cx="278.0" cy="560.0" rx="6.0" ry="10.0" fill="#A84478"/>
<ellipse cx="265.0" cy="560.0" rx="6.0" ry="8.0" fill="#B86098"/>
<ellipse cx="248.0" cy="600.0" rx="6.0" ry="8.0" fill="#8A70A8"/>
<ellipse cx="258.0" cy="585.0" rx="5.0" ry="6.0" fill="#8A6898"/>
<ellipse cx="274.0" cy="585.0" rx="5.0" ry="8.0" fill="#CC4474"/>
<ellipse cx="258.0" cy="570.0" rx="5.0" ry="6.0" fill="#9A6090"/>
<ellipse cx="240.0" cy="588.0" rx="5.0" ry="7.0" fill="#8878B0"/>
</g>
<g filter="url(#fb05)">
<ellipse cx="206.0" cy="557.4" rx="2.5" ry="2.5" fill="#50427A"/>
<ellipse cx="224.0" cy="555.6" rx="2.5" ry="2.5" fill="#564474"/>
<ellipse cx="223.3" cy="562.5" rx="2.7" ry="2.7" fill="#662842"/>
<ellipse cx="220.5" cy="569.5" rx="2.7" ry="2.7" fill="#76243C"/>
<ellipse cx="210.9" cy="568.8" rx="2.3" ry="2.3" fill="#564678"/>
<ellipse cx="217.0" cy="579.9" rx="2.5" ry="2.9" fill="#56243C"/>
<ellipse cx="227.5" cy="577.8" rx="2.1" ry="2.1" fill="#56467C"/>
<ellipse cx="237.2" cy="570.9" rx="1.6" ry="1.6" fill="#665684"/>
<ellipse cx="237.2" cy="550.8" rx="2.4" ry="2.1" fill="#463C6C"/>
<ellipse cx="243.4" cy="552.2" rx="2.6" ry="2.1" fill="#362C4C"/>
<ellipse cx="237.5" cy="585.5" rx="4.2" ry="4.6" fill="#461C34"/>
<ellipse cx="236.5" cy="591.0" rx="3.2" ry="3.2" fill="#56243C"/>
<ellipse cx="196.3" cy="599.2" rx="3.1" ry="3.5" fill="#662C44"/>
<ellipse cx="203.2" cy="604.8" rx="2.4" ry="2.4" fill="#56467C"/>
<ellipse cx="210.2" cy="612.4" rx="2.6" ry="2.6" fill="#761C34"/>
<ellipse cx="221.2" cy="609.0" rx="2.4" ry="2.4" fill="#564674"/>
<ellipse cx="229.5" cy="608.2" rx="2.6" ry="2.6" fill="#46243C"/>
<ellipse cx="236.5" cy="606.2" rx="2.6" ry="2.6" fill="#56467C"/>
<ellipse cx="239.2" cy="611.7" rx="2.6" ry="2.6" fill="#461C2C"/>
<ellipse cx="226.8" cy="625.6" rx="2.6" ry="2.6" fill="#C42C44"/>
<ellipse cx="192.2" cy="589.5" rx="2.0" ry="2.6" fill="#7C6CA4"/>
<ellipse cx="222.6" cy="595.0" rx="3.0" ry="2.6" fill="#7C6CA4"/>
<ellipse cx="231.0" cy="596.5" rx="2.6" ry="2.6" fill="#664C8C"/>
<ellipse cx="310.0" cy="562.7" rx="2.4" ry="2.4" fill="#3C3C5C"/>
<ellipse cx="315.6" cy="564.9" rx="2.1" ry="2.1" fill="#6C4C3C"/>
<ellipse cx="308.6" cy="573.3" rx="2.4" ry="2.4" fill="#363C54"/>
<ellipse cx="302.2" cy="585.9" rx="2.1" ry="2.1" fill="#2C3454"/>
<ellipse cx="250.0" cy="558.0" rx="3.0" ry="3.0" fill="#462440"/>
<ellipse cx="256.0" cy="566.0" rx="3.2" ry="3.2" fill="#76284C"/>
<ellipse cx="262.0" cy="552.0" rx="3.0" ry="3.0" fill="#362C4C"/>
<ellipse cx="266.0" cy="574.0" rx="3.0" ry="3.0" fill="#5C2C5C"/>
<ellipse cx="252.0" cy="578.0" rx="3.2" ry="3.2" fill="#4C2444"/>
<ellipse cx="246.0" cy="590.0" rx="3.0" ry="3.0" fill="#662C54"/>
<ellipse cx="258.0" cy="596.0" rx="3.2" ry="3.2" fill="#562444"/>
<ellipse cx="264.0" cy="606.0" rx="3.0" ry="3.0" fill="#5C3464"/>
<ellipse cx="250.0" cy="616.0" rx="3.0" ry="3.0" fill="#562444"/>
<ellipse cx="258.0" cy="622.0" rx="3.0" ry="3.0" fill="#C42C4C"/>
<ellipse cx="270.0" cy="620.0" rx="3.0" ry="3.0" fill="#BC2444"/>
<ellipse cx="284.0" cy="553.0" rx="2.9" ry="2.9" fill="#362C4C"/>
<ellipse cx="279.0" cy="566.0" rx="3.0" ry="3.0" fill="#562444"/>
<ellipse cx="272.0" cy="592.0" rx="3.0" ry="3.0" fill="#462C5C"/>
<ellipse cx="262.0" cy="615.0" rx="2.6" ry="2.6" fill="#86305C"/>
<ellipse cx="244.0" cy="598.0" rx="2.5" ry="2.5" fill="#5A3A70"/>
<ellipse cx="268.0" cy="583.0" rx="2.5" ry="2.5" fill="#4A2848"/>
<ellipse cx="276.0" cy="575.0" rx="2.5" ry="2.5" fill="#6A2850"/>
<ellipse cx="241.0" cy="620.0" rx="2.5" ry="2.5" fill="#5A3A70"/>
<ellipse cx="254.0" cy="605.0" rx="2.5" ry="2.5" fill="#402040"/>
<ellipse cx="248.0" cy="568.0" rx="2.4" ry="2.4" fill="#5A3A70"/>
<ellipse cx="232.0" cy="617.0" rx="2.4" ry="2.4" fill="#6A2840"/>
<ellipse cx="244.0" cy="580.0" rx="2.6" ry="2.6" fill="#4A2848"/>
<ellipse cx="253.0" cy="588.0" rx="2.8" ry="2.8" fill="#3E2040"/>
<ellipse cx="260.0" cy="580.0" rx="2.6" ry="2.6" fill="#5A2850"/>
<ellipse cx="266.0" cy="596.0" rx="2.6" ry="2.6" fill="#4A2848"/>
<ellipse cx="248.0" cy="628.0" rx="2.6" ry="2.6" fill="#5A2848"/>
<ellipse cx="275.0" cy="604.0" rx="2.4" ry="2.4" fill="#6A3A78"/>
<ellipse cx="280.0" cy="585.0" rx="2.2" ry="2.2" fill="#502848"/>
<ellipse cx="287.0" cy="560.0" rx="2.2" ry="2.2" fill="#4A2848"/>
<ellipse cx="292.0" cy="552.0" rx="2.2" ry="2.2" fill="#3A2840"/>
<ellipse cx="268.0" cy="560.0" rx="2.6" ry="2.6" fill="#3E2440"/>
<ellipse cx="259.0" cy="558.0" rx="2.4" ry="2.4" fill="#5A3070"/>
<ellipse cx="242.0" cy="560.0" rx="2.2" ry="2.2" fill="#4A3868"/>
<ellipse cx="276.0" cy="612.0" rx="2.4" ry="2.4" fill="#A02848"/>
<ellipse cx="283.0" cy="618.0" rx="2.2" ry="2.2" fill="#B83050"/>
<ellipse cx="268.0" cy="628.0" rx="2.6" ry="2.6" fill="#C02848"/>
<ellipse cx="289.0" cy="572.0" rx="2.2" ry="2.2" fill="#4A2848"/>
<ellipse cx="286.0" cy="590.0" rx="2.2" ry="2.2" fill="#5A3060"/>
<ellipse cx="282.0" cy="603.0" rx="2.2" ry="2.2" fill="#4A2848"/>
<ellipse cx="279.0" cy="622.0" rx="2.2" ry="2.2" fill="#6A3058"/>
<ellipse cx="294.0" cy="556.0" rx="2.0" ry="2.0" fill="#503060"/>
<ellipse cx="324.0" cy="596.0" rx="1.8" ry="1.8" fill="#6A3A70"/>
<ellipse cx="318.0" cy="612.0" rx="1.8" ry="1.8" fill="#A03050"/>
</g>
</g>
<rect x="189.0" y="549.2" width="141.0" height="79.59999999999991" fill="none" stroke="#999" stroke-width="0.8"/>
<clipPath id="c3"><rect x="338.2" y="549.8" width="141.10000000000002" height="79.5"/></clipPath>
<g clip-path="url(#c3)">
<rect x="338.2" y="549.8" width="141.10000000000002" height="79.5" fill="#E99EB2"/>
<filter id="n3a" color-interpolation-filters="sRGB" filterUnits="userSpaceOnUse" x="338.2" y="549.8" width="141.10000000000002" height="79.5"><feTurbulence type="fractalNoise" baseFrequency="0.07" numOctaves="2" seed="7"/><feColorMatrix type="matrix" values="0 0 0 0 0.776 0 0 0 0 0.706 0 0 0 0 0.878 2.6 0 0 0 -1.0"/></filter>
<rect x="338.2" y="549.8" width="141.10000000000002" height="79.5" fill="#000" filter="url(#n3a)"/>
<filter id="n3b" color-interpolation-filters="sRGB" filterUnits="userSpaceOnUse" x="338.2" y="549.8" width="141.10000000000002" height="79.5"><feTurbulence type="fractalNoise" baseFrequency="0.09" numOctaves="2" seed="17"/><feColorMatrix type="matrix" values="0 0 0 0 0.980 0 0 0 0 0.933 0 0 0 0 0.949 2.6 0 0 0 -1.05"/></filter>
<rect x="338.2" y="549.8" width="141.10000000000002" height="79.5" fill="#000" filter="url(#n3b)"/>
<filter id="n3c" color-interpolation-filters="sRGB" filterUnits="userSpaceOnUse" x="338.2" y="549.8" width="141.10000000000002" height="79.5"><feTurbulence type="fractalNoise" baseFrequency="0.08" numOctaves="2" seed="29"/><feColorMatrix type="matrix" values="0 0 0 0 0.816 0 0 0 0 0.235 0 0 0 0 0.298 2.6 0 0 0 -1.2"/></filter>
<rect x="338.2" y="549.8" width="141.10000000000002" height="79.5" fill="#000" filter="url(#n3c)"/>
<g filter="url(#fb3)">
<ellipse cx="378.0" cy="556.0" rx="26.0" ry="6.0" fill="#F6DCD6"/>
</g>
<g filter="url(#fb4)">
<path d="M340,553 L360,556 L378,572 L392,592 L400,612 L404,630 L378,630 L370,614 L362,596 L354,580 L344,564 Z" fill="#B09CD2" opacity="0.6"/>
</g>
<g filter="url(#fb3)">
<path d="M340,553 L352,555 L366,575 L377,592 L385,610 L391,630 L378,630 L370,614 L362,596 L354,580 L344,564 Z" fill="#A284C6" opacity="0.8"/>
<ellipse cx="446.0" cy="568.0" rx="7.0" ry="9.0" fill="#C0ACDC"/>
<ellipse cx="424.0" cy="596.0" rx="6.0" ry="10.0" fill="#C4B0DE"/>
<ellipse cx="470.0" cy="612.0" rx="6.0" ry="9.0" fill="#C8B4E0"/>
<ellipse cx="455.0" cy="600.0" rx="5.0" ry="6.0" fill="#CCB8E0"/>
</g>
<g filter="url(#fb1)">
<path d="M343,558 L348,559 L360,577 L370,595 L378,613 L383,630 L378,630 L370,614 L362,596 L354,580 L344,564 Z" fill="#9070B8" opacity="0.8"/>
</g>
<g filter="url(#fb1)">
<path d="M336,562 L344.4,561.6 L350,570 L355.3,580.3 L362.3,594.3 L370.7,612.6 L377.7,631 L336,631 Z" fill="#FCFAFC"/>
</g>
<g filter="url(#nucd)">
<ellipse cx="374.9" cy="557.1" rx="2.9" ry="2.9" fill="#C84C3C"/>
<ellipse cx="367.2" cy="559.2" rx="2.3" ry="2.3" fill="#C43C3C"/>
<ellipse cx="370.7" cy="572.6" rx="3.4" ry="3.4" fill="#9C242C"/>
<ellipse cx="390.4" cy="574.7" rx="3.7" ry="3.7" fill="#BC2C2C"/>
<ellipse cx="379.1" cy="588.7" rx="4.8" ry="4.8" fill="#A41C24"/>
<ellipse cx="384.8" cy="583.1" rx="4.8" ry="4.8" fill="#C43434"/>
<ellipse cx="397.4" cy="587.3" rx="4.8" ry="4.8" fill="#A41C24"/>
<ellipse cx="407.2" cy="575.4" rx="4.8" ry="4.8" fill="#A41C24"/>
<ellipse cx="403.0" cy="594.3" rx="4.3" ry="4.3" fill="#B42C2C"/>
<ellipse cx="407.2" cy="601.4" rx="3.7" ry="3.7" fill="#BC3434"/>
<ellipse cx="386.2" cy="601.4" rx="3.7" ry="3.7" fill="#BC3434"/>
<ellipse cx="389.0" cy="614.0" rx="4.8" ry="4.8" fill="#9C1C24"/>
<ellipse cx="396.0" cy="616.8" rx="4.8" ry="4.8" fill="#A41C24"/>
<ellipse cx="394.6" cy="624.5" rx="4.8" ry="4.3" fill="#9C1C24"/>
<ellipse cx="404.4" cy="614.0" rx="3.7" ry="3.7" fill="#BC3434"/>
<ellipse cx="417.5" cy="563.4" rx="4.8" ry="4.8" fill="#AC1C24"/>
<ellipse cx="410.5" cy="574.7" rx="4.8" ry="4.8" fill="#B42424"/>
<ellipse cx="414.0" cy="581.7" rx="3.7" ry="3.7" fill="#BC2C2C"/>
<ellipse cx="438.6" cy="571.9" rx="3.7" ry="3.7" fill="#AC1C2C"/>
<ellipse cx="440.7" cy="552.2" rx="3.7" ry="3.7" fill="#AC2424"/>
<ellipse cx="466.0" cy="555.7" rx="4.3" ry="4.3" fill="#AC2424"/>
<ellipse cx="460.4" cy="570.5" rx="4.3" ry="4.3" fill="#B42C2C"/>
<ellipse cx="471.6" cy="564.9" rx="3.7" ry="3.7" fill="#BC3434"/>
<ellipse cx="471.6" cy="573.3" rx="3.7" ry="3.7" fill="#B42C2C"/>
<ellipse cx="444.9" cy="588.7" rx="4.8" ry="4.8" fill="#A41C24"/>
<ellipse cx="457.6" cy="583.1" rx="4.3" ry="4.3" fill="#BC2C2C"/>
<ellipse cx="474.4" cy="584.5" rx="4.3" ry="4.3" fill="#B4242C"/>
<ellipse cx="466.0" cy="595.8" rx="4.8" ry="4.8" fill="#AC2424"/>
<ellipse cx="426.7" cy="590.1" rx="3.7" ry="3.7" fill="#BC3434"/>
<ellipse cx="415.4" cy="601.4" rx="3.7" ry="3.7" fill="#BC2C2C"/>
<ellipse cx="419.6" cy="607.0" rx="3.7" ry="3.7" fill="#B42C2C"/>
<ellipse cx="442.1" cy="604.2" rx="4.3" ry="4.3" fill="#B42C2C"/>
<ellipse cx="460.4" cy="604.2" rx="4.3" ry="4.3" fill="#BC3434"/>
<ellipse cx="435.0" cy="616.8" rx="3.7" ry="3.7" fill="#BC3434"/>
<ellipse cx="416.8" cy="614.0" rx="3.7" ry="3.7" fill="#B42C2C"/>
<ellipse cx="475.8" cy="608.4" rx="3.7" ry="3.7" fill="#C43C3C"/>
<ellipse cx="421.0" cy="622.4" rx="3.7" ry="3.7" fill="#BC3434"/>
<ellipse cx="452.0" cy="596.0" rx="3.7" ry="3.7" fill="#C44444"/>
<ellipse cx="430.0" cy="578.0" rx="3.7" ry="3.7" fill="#C44444"/>
<ellipse cx="450.0" cy="622.0" rx="3.7" ry="3.7" fill="#C43C3C"/>
<ellipse cx="465.0" cy="625.0" rx="3.7" ry="3.7" fill="#BC3C3C"/>
<ellipse cx="432.0" cy="560.0" rx="3.7" ry="3.7" fill="#C44C4C"/>
<ellipse cx="452.0" cy="560.0" rx="3.2" ry="3.2" fill="#C04040"/>
<ellipse cx="428.0" cy="600.0" rx="3.2" ry="3.2" fill="#C04848"/>
<ellipse cx="448.0" cy="578.0" rx="3.2" ry="3.2" fill="#B83838"/>
<ellipse cx="398.0" cy="603.0" rx="3.2" ry="3.2" fill="#C04040"/>
<ellipse cx="377.0" cy="600.0" rx="3.2" ry="3.2" fill="#C04848"/>
<ellipse cx="470.0" cy="616.0" rx="3.2" ry="3.2" fill="#B83838"/>
<ellipse cx="456.0" cy="614.0" rx="3.2" ry="3.2" fill="#C04040"/>
<ellipse cx="382.0" cy="622.0" rx="3.2" ry="3.2" fill="#C04848"/>
<ellipse cx="422.0" cy="572.0" rx="3.0" ry="3.0" fill="#C44848"/>
<ellipse cx="476.0" cy="555.0" rx="3.0" ry="3.0" fill="#B83030"/>
<ellipse cx="395.0" cy="562.0" rx="3.0" ry="3.0" fill="#C85050"/>
</g>
</g>
<rect x="338.2" y="549.8" width="141.10000000000002" height="79.5" fill="none" stroke="#999" stroke-width="0.8"/>
<line x1="39.50" y1="636.80" x2="479.00" y2="636.80" stroke="#A0A0A0" stroke-width="1.3" />
<text x="259.0" y="647.0" font-size="7.6" fill="#333" stroke="#333" stroke-width="0.15" text-anchor="middle" textLength="126.5" lengthAdjust="spacingAndGlyphs"><tspan font-style="italic">EBER</tspan> (brown), CD49a (red), ×100</text>
<rect x="0.5" y="0.5" width="519" height="655" fill="none" stroke="#4a4a4a" stroke-width="1.2"/>
</svg>
</body></html>
